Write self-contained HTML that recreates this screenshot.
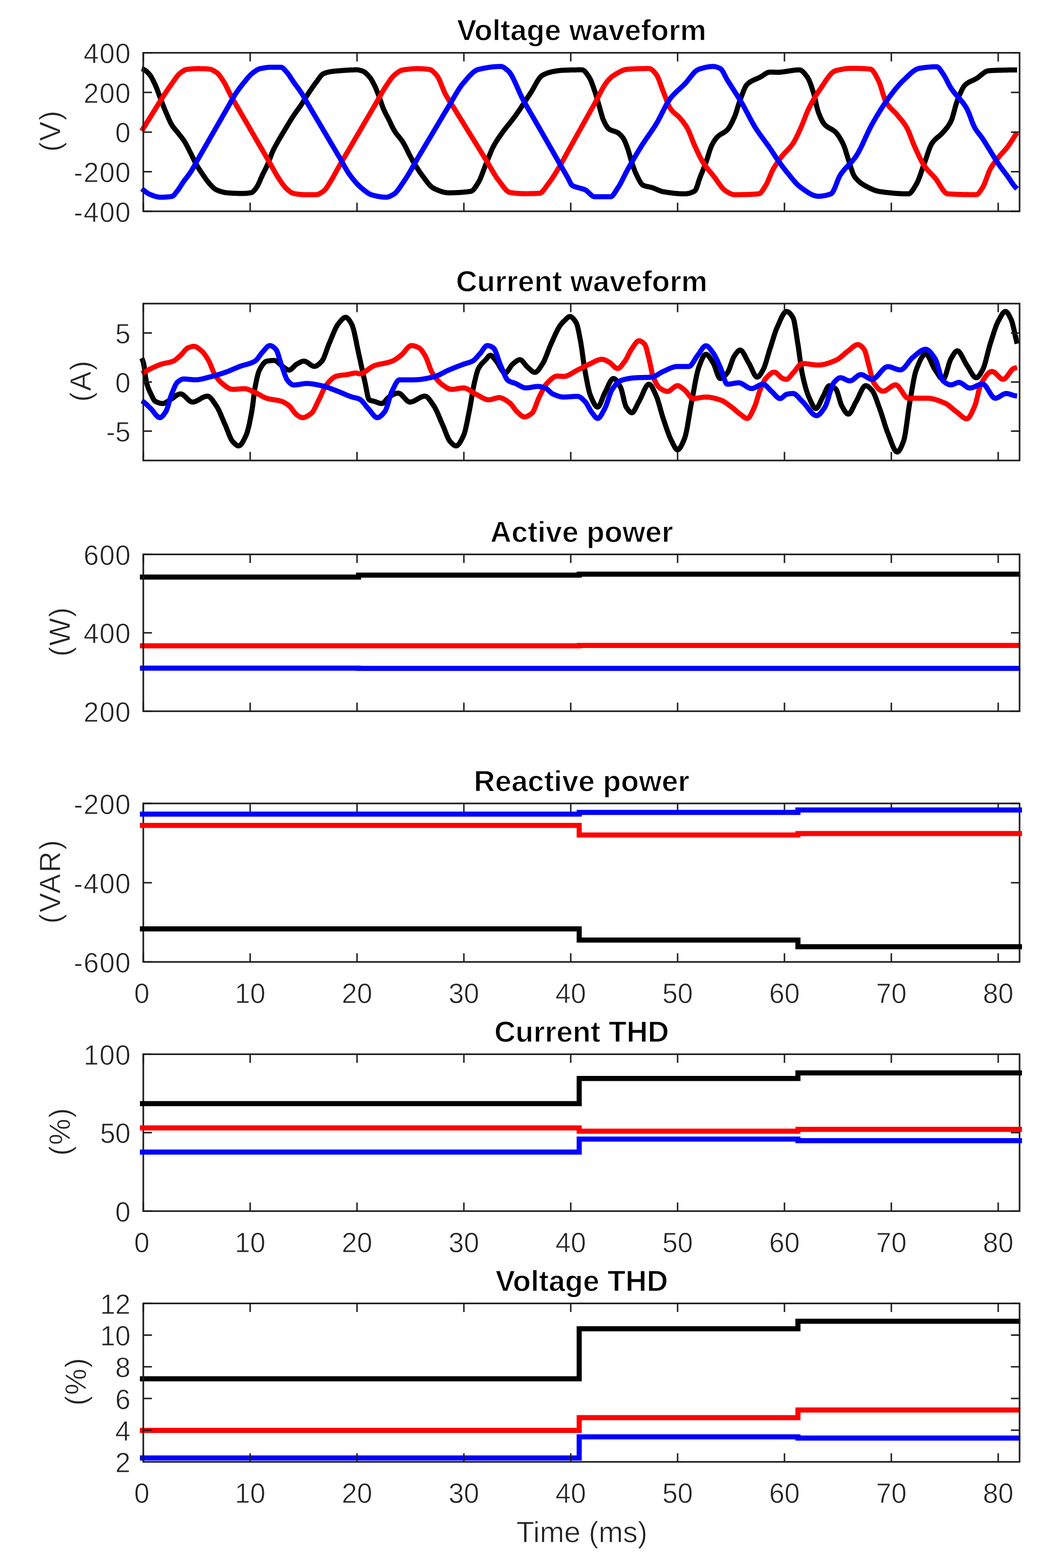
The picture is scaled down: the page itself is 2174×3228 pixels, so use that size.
<!DOCTYPE html><html><head><meta charset="utf-8"><title>Power quality plots</title><style>html,body{margin:0;padding:0;background:#fff}svg{display:block}text{font-family:"Liberation Sans",Arial,Helvetica,sans-serif;stroke:#fff;stroke-width:0.9px;paint-order:fill}text.b{stroke-width:1.3px}</style></head><body><svg width="2174" height="3228" viewBox="0 0 2174 3228"><rect width="2174" height="3228" fill="#fff"/><polyline fill="none" stroke="#000" stroke-width="10.5" stroke-linejoin="round" points="291.7,141.6 292.6,141.8 293.5,142.1 294.3,142.4 295.2,142.8 296.1,143.2 297,143.6 297.9,144.1 298.7,144.7 299.6,145.3 300.5,146 301.4,146.7 302.3,147.5 303.1,148.4 304,149.2 304.9,150.1 305.8,151.1 306.7,152 307.5,153.1 308.4,154.1 309.3,155.3 310.2,156.5 311.1,157.9 311.9,159.4 312.8,160.9 313.7,162.6 314.6,164.3 315.5,166.1 316.3,167.9 317.2,169.7 318.1,171.6 319,173.5 319.9,175.4 320.7,177.4 321.6,179.4 322.5,181.6 323.4,183.9 324.3,186.2 325.1,188.6 326,191 326.9,193.4 327.8,195.9 328.7,198.3 329.5,200.7 330.4,203 331.3,205.3 332.2,207.5 333.1,209.8 333.9,212 334.8,214.3 335.7,216.5 336.6,218.7 337.5,221 338.3,223.2 339.2,225.3 340.1,227.5 341,229.6 341.9,231.7 342.7,233.7 343.6,235.7 344.5,237.8 345.4,239.8 346.3,241.8 347.1,243.9 348,245.8 348.9,247.8 349.8,249.7 350.7,251.5 351.5,253.3 352.4,254.9 353.3,256.5 354.2,257.9 355.1,259.3 355.9,260.6 356.8,261.8 357.7,262.9 358.6,264 359.5,265.1 360.3,266.2 361.2,267.2 362.1,268.2 363,269.3 363.9,270.3 364.7,271.4 365.6,272.5 366.5,273.6 367.4,274.8 368.3,275.9 369.1,277 370,278.1 370.9,279.2 371.8,280.3 372.7,281.4 373.5,282.5 374.4,283.6 375.3,284.8 376.2,286 377.1,287.2 377.9,288.5 378.8,289.7 379.7,291.1 380.6,292.5 381.5,293.9 382.3,295.5 383.2,297.1 384.1,298.7 385,300.4 385.9,302.1 386.7,303.8 387.6,305.5 388.5,307.3 389.4,309.1 390.3,310.8 391.1,312.6 392,314.3 392.9,316 393.8,317.8 394.7,319.5 395.5,321.3 396.4,323.2 397.3,325 398.2,326.8 399.1,328.6 399.9,330.4 400.8,332.1 401.7,333.9 402.6,335.5 403.5,337.2 404.3,338.7 405.2,340.3 406.1,341.8 407,343.2 407.9,344.7 408.7,346.1 409.6,347.5 410.5,348.9 411.4,350.3 412.3,351.6 413.1,352.9 414,354.2 414.9,355.5 415.8,356.8 416.7,358.1 417.5,359.4 418.4,360.7 419.3,362 420.2,363.2 421.1,364.5 421.9,365.8 422.8,367.1 423.7,368.3 424.6,369.6 425.5,370.8 426.3,372 427.2,373.2 428.1,374.3 429,375.4 429.9,376.5 430.7,377.5 431.6,378.5 432.5,379.4 433.4,380.4 434.3,381.3 435.1,382.3 436,383.2 436.9,384.1 437.8,385 438.7,385.8 439.5,386.7 440.4,387.4 441.3,388.2 442.2,388.9 443.1,389.5 443.9,390 444.8,390.5 445.7,390.9 446.6,391.3 447.5,391.7 448.3,392 449.2,392.4 450.1,392.7 451,393 451.9,393.3 452.7,393.7 453.6,393.9 454.5,394.2 455.4,394.5 456.3,394.8 457.1,395 458,395.2 458.9,395.5 459.8,395.7 460.7,395.9 461.5,396.1 462.4,396.2 463.3,396.4 464.2,396.5 465.1,396.7 465.9,396.8 466.8,396.9 467.7,397 468.6,397.1 469.5,397.1 470.3,397.2 471.2,397.2 472.1,397.3 473,397.4 473.9,397.4 474.7,397.5 475.6,397.5 476.5,397.6 477.4,397.6 478.3,397.7 479.1,397.7 480,397.8 480.9,397.8 481.8,397.9 482.7,397.9 483.5,397.9 484.4,398 485.3,398 486.2,398 487.1,398.1 487.9,398.1 488.8,398.1 489.7,398.2 490.6,398.2 491.5,398.2 492.3,398.2 493.2,398.2 494.1,398.2 495,398.3 495.9,398.3 496.7,398.3 497.6,398.3 498.5,398.3 499.4,398.3 500.3,398.3 501.1,398.3 502,398.3 502.9,398.2 503.8,398.2 504.7,398.1 505.5,398.1 506.4,398 507.3,398 508.2,397.9 509.1,397.8 509.9,397.7 510.8,397.6 511.7,397.5 512.6,397.4 513.5,397.3 514.3,397.1 515.2,397 516.1,396.9 517,396.7 517.9,396.5 518.7,396.1 519.6,395.6 520.5,394.9 521.4,394.1 522.3,393.3 523.1,392.3 524,391.2 524.9,390.1 525.8,389 526.7,387.8 527.5,386.6 528.4,385.4 529.3,384.1 530.2,382.6 531.1,380.9 531.9,379.2 532.8,377.3 533.7,375.3 534.6,373.3 535.5,371.3 536.3,369.2 537.2,367.2 538.1,365.2 539,363.2 539.9,361.3 540.7,359.5 541.6,357.7 542.5,355.9 543.4,354.2 544.3,352.4 545.1,350.7 546,348.9 546.9,347.2 547.8,345.4 548.7,343.5 549.5,341.7 550.4,339.7 551.3,337.7 552.2,335.6 553.1,333.4 553.9,331.1 554.8,328.7 555.7,326.3 556.6,323.9 557.5,321.6 558.3,319.2 559.2,316.9 560.1,314.8 561,312.7 561.9,310.7 562.7,308.9 563.6,307.1 564.5,305.3 565.4,303.6 566.3,301.9 567.1,300.3 568,298.7 568.9,297.1 569.8,295.5 570.7,294 571.5,292.4 572.4,290.9 573.3,289.3 574.2,287.8 575.1,286.2 575.9,284.7 576.8,283.2 577.7,281.7 578.6,280.2 579.5,278.7 580.3,277.3 581.2,275.8 582.1,274.4 583,272.9 583.9,271.5 584.7,270 585.6,268.6 586.5,267.1 587.4,265.7 588.3,264.2 589.1,262.8 590,261.3 590.9,259.8 591.8,258.4 592.7,256.9 593.5,255.4 594.4,254 595.3,252.5 596.2,251.1 597.1,249.6 597.9,248.2 598.8,246.8 599.7,245.3 600.6,243.9 601.5,242.5 602.3,241.2 603.2,239.8 604.1,238.5 605,237.1 605.9,235.8 606.7,234.6 607.6,233.3 608.5,232.1 609.4,230.8 610.3,229.6 611.1,228.4 612,227.2 612.9,226 613.8,224.8 614.7,223.6 615.5,222.4 616.4,221.1 617.3,219.9 618.2,218.6 619.1,217.4 619.9,216 620.8,214.7 621.7,213.4 622.6,212 623.5,210.6 624.3,209.2 625.2,207.7 626.1,206.3 627,204.9 627.9,203.4 628.7,202 629.6,200.6 630.5,199.1 631.4,197.7 632.3,196.3 633.1,194.9 634,193.6 634.9,192.2 635.8,190.9 636.7,189.6 637.5,188.3 638.4,187 639.3,185.7 640.2,184.4 641.1,183.1 641.9,181.8 642.8,180.6 643.7,179.3 644.6,178.1 645.5,176.8 646.3,175.6 647.2,174.4 648.1,173.2 649,172 649.9,170.9 650.7,169.7 651.6,168.5 652.5,167.3 653.4,166.1 654.3,164.8 655.1,163.5 656,162.3 656.9,161 657.8,159.8 658.7,158.6 659.5,157.5 660.4,156.5 661.3,155.5 662.2,154.5 663.1,153.7 663.9,153 664.8,152.4 665.7,151.9 666.6,151.5 667.5,151.2 668.3,150.8 669.2,150.5 670.1,150.1 671,149.8 671.9,149.5 672.7,149.3 673.6,149 674.5,148.8 675.4,148.6 676.3,148.4 677.1,148.2 678,148 678.9,147.8 679.8,147.7 680.7,147.5 681.5,147.4 682.4,147.2 683.3,147.1 684.2,147 685.1,146.9 685.9,146.8 686.8,146.7 687.7,146.6 688.6,146.5 689.5,146.4 690.3,146.3 691.2,146.2 692.1,146.2 693,146.1 693.9,146 694.7,145.9 695.6,145.9 696.5,145.8 697.4,145.7 698.3,145.7 699.1,145.6 700,145.5 700.9,145.5 701.8,145.4 702.7,145.3 703.5,145.3 704.4,145.2 705.3,145.1 706.2,145.1 707.1,145 707.9,144.9 708.8,144.9 709.7,144.8 710.6,144.8 711.5,144.7 712.3,144.6 713.2,144.6 714.1,144.5 715,144.5 715.9,144.4 716.7,144.4 717.6,144.3 718.5,144.3 719.4,144.2 720.3,144.2 721.1,144.1 722,144.1 722.9,144 723.8,144 724.7,144 725.5,143.9 726.4,143.9 727.3,143.9 728.2,143.9 729.1,143.8 729.9,143.8 730.8,143.8 731.7,143.8 732.6,143.8 733.5,143.8 734.3,143.8 735.2,143.8 736.1,143.8 737,143.9 737.9,144 738.7,144.2 739.6,144.4 740.5,144.6 741.4,144.8 742.3,145 743.1,145.3 744,145.6 744.9,145.8 745.8,146.1 746.7,146.4 747.5,146.8 748.4,147.2 749.3,147.7 750.2,148.2 751.1,148.8 751.9,149.5 752.8,150.2 753.7,151 754.6,151.8 755.5,152.7 756.3,153.6 757.2,154.5 758.1,155.4 759,156.4 759.9,157.4 760.7,158.4 761.6,159.5 762.5,160.7 763.4,162 764.3,163.4 765.1,164.8 766,166.4 766.9,168 767.8,169.6 768.7,171.3 769.5,173 770.4,174.8 771.3,176.5 772.2,178.3 773.1,180.2 773.9,182.3 774.8,184.4 775.7,186.5 776.6,188.8 777.5,191.1 778.3,193.4 779.2,195.7 780.1,198.1 781,200.4 781.9,202.8 782.7,205.3 783.6,207.9 784.5,210.5 785.4,213.1 786.3,215.7 787.1,218.2 788,220.6 788.9,222.8 789.8,224.8 790.7,226.8 791.5,228.7 792.4,230.5 793.3,232.3 794.2,234.1 795.1,235.8 795.9,237.4 796.8,239.1 797.7,240.8 798.6,242.4 799.5,244.1 800.3,245.9 801.2,247.7 802.1,249.5 803,251.3 803.9,253.2 804.7,255 805.6,256.9 806.5,258.8 807.4,260.6 808.3,262.4 809.1,264.1 810,265.7 810.9,267.3 811.8,268.8 812.7,270.3 813.5,271.6 814.4,272.9 815.3,274.1 816.2,275.3 817.1,276.5 817.9,277.6 818.8,278.7 819.7,279.8 820.6,280.8 821.5,281.9 822.3,283 823.2,284 824.1,285.1 825,286.3 825.9,287.4 826.7,288.6 827.6,289.9 828.5,291.2 829.4,292.6 830.3,294 831.1,295.5 832,297 832.9,298.6 833.8,300.3 834.7,302 835.5,303.7 836.4,305.4 837.3,307.2 838.2,309 839.1,310.8 839.9,312.6 840.8,314.3 841.7,316.1 842.6,317.9 843.5,319.6 844.3,321.3 845.2,322.9 846.1,324.6 847,326.1 847.9,327.6 848.7,329.2 849.6,330.7 850.5,332.2 851.4,333.7 852.3,335.2 853.1,336.7 854,338.1 854.9,339.6 855.8,341 856.7,342.5 857.5,343.9 858.4,345.3 859.3,346.7 860.2,348.1 861.1,349.5 861.9,350.8 862.8,352.1 863.7,353.4 864.6,354.7 865.5,356 866.3,357.2 867.2,358.4 868.1,359.6 869,360.8 869.9,362 870.7,363.1 871.6,364.3 872.5,365.5 873.4,366.7 874.3,367.9 875.1,369.1 876,370.3 876.9,371.5 877.8,372.7 878.7,373.8 879.5,375 880.4,376.1 881.3,377.2 882.2,378.2 883.1,379.3 883.9,380.2 884.8,381.2 885.7,382.1 886.6,383 887.5,383.8 888.3,384.6 889.2,385.3 890.1,386 891,386.6 891.9,387.1 892.7,387.6 893.6,388 894.5,388.4 895.4,388.8 896.3,389.3 897.1,389.7 898,390.1 898.9,390.5 899.8,390.8 900.7,391.2 901.5,391.6 902.4,392 903.3,392.3 904.2,392.7 905.1,393 905.9,393.3 906.8,393.6 907.7,393.9 908.6,394.2 909.5,394.5 910.3,394.8 911.2,395 912.1,395.3 913,395.5 913.9,395.7 914.7,395.9 915.6,396.1 916.5,396.2 917.4,396.4 918.3,396.5 919.1,396.6 920,396.7 920.9,396.8 921.8,396.9 922.7,396.9 923.5,396.9 924.4,396.9 925.3,396.9 926.2,396.9 927.1,396.9 927.9,396.9 928.8,396.9 929.7,396.9 930.6,396.8 931.5,396.8 932.3,396.8 933.2,396.8 934.1,396.8 935,396.7 935.9,396.7 936.7,396.7 937.6,396.7 938.5,396.6 939.4,396.6 940.3,396.6 941.1,396.5 942,396.5 942.9,396.4 943.8,396.4 944.7,396.3 945.5,396.3 946.4,396.2 947.3,396.2 948.2,396.1 949.1,396.1 949.9,396 950.8,395.9 951.7,395.8 952.6,395.8 953.5,395.7 954.3,395.6 955.2,395.5 956.1,395.5 957,395.4 957.9,395.3 958.7,395.2 959.6,395.1 960.5,395 961.4,394.9 962.3,394.8 963.1,394.7 964,394.6 964.9,394.5 965.8,394.3 966.7,394.2 967.5,394.1 968.4,394 969.3,393.8 970.2,393.7 971.1,393.3 971.9,392.8 972.8,392.2 973.7,391.5 974.6,390.6 975.5,389.6 976.3,388.6 977.2,387.4 978.1,386.2 979,384.9 979.9,383.6 980.7,382.2 981.6,380.8 982.5,379.4 983.4,377.9 984.3,376.5 985.1,375.1 986,373.6 986.9,371.9 987.8,370.1 988.7,368.1 989.5,366.1 990.4,364 991.3,361.8 992.2,359.5 993.1,357.2 993.9,354.8 994.8,352.5 995.7,350.1 996.6,347.7 997.5,345.4 998.3,343.1 999.2,340.9 1000.1,338.7 1001,336.6 1001.9,334.4 1002.7,332.2 1003.6,330 1004.5,327.8 1005.4,325.5 1006.3,323.3 1007.1,321.1 1008,318.9 1008.9,316.7 1009.8,314.6 1010.7,312.5 1011.5,310.4 1012.4,308.4 1013.3,306.5 1014.2,304.7 1015.1,302.9 1015.9,301.2 1016.8,299.6 1017.7,298 1018.6,296.4 1019.5,294.9 1020.3,293.5 1021.2,292 1022.1,290.6 1023,289.3 1023.9,287.9 1024.7,286.6 1025.6,285.3 1026.5,283.9 1027.4,282.7 1028.3,281.4 1029.1,280.1 1030,278.8 1030.9,277.6 1031.8,276.3 1032.7,275 1033.5,273.8 1034.4,272.6 1035.3,271.4 1036.2,270.2 1037.1,269.1 1037.9,267.9 1038.8,266.7 1039.7,265.6 1040.6,264.5 1041.5,263.4 1042.3,262.2 1043.2,261.1 1044.1,260 1045,258.9 1045.9,257.8 1046.7,256.7 1047.6,255.7 1048.5,254.6 1049.4,253.5 1050.3,252.4 1051.1,251.3 1052,250.2 1052.9,249 1053.8,247.9 1054.7,246.8 1055.5,245.7 1056.4,244.5 1057.3,243.4 1058.2,242.2 1059.1,241 1059.9,239.8 1060.8,238.6 1061.7,237.4 1062.6,236.2 1063.5,234.9 1064.3,233.7 1065.2,232.4 1066.1,231.1 1067,229.9 1067.9,228.6 1068.7,227.3 1069.6,226 1070.5,224.7 1071.4,223.4 1072.3,222 1073.1,220.7 1074,219.4 1074.9,218.1 1075.8,216.7 1076.7,215.4 1077.5,214 1078.4,212.7 1079.3,211.4 1080.2,210 1081.1,208.7 1081.9,207.3 1082.8,206 1083.7,204.6 1084.6,203.3 1085.5,201.9 1086.3,200.6 1087.2,199.2 1088.1,197.9 1089,196.6 1089.9,195.2 1090.7,193.9 1091.6,192.6 1092.5,191.2 1093.4,189.9 1094.3,188.4 1095.1,187 1096,185.5 1096.9,183.9 1097.8,182.4 1098.7,180.8 1099.5,179.2 1100.4,177.6 1101.3,176 1102.2,174.4 1103.1,172.9 1103.9,171.3 1104.8,169.8 1105.7,168.3 1106.6,166.8 1107.5,165.4 1108.3,164.1 1109.2,162.8 1110.1,161.6 1111,160.4 1111.9,159.3 1112.7,158.3 1113.6,157.4 1114.5,156.6 1115.4,155.9 1116.3,155.3 1117.1,154.8 1118,154.3 1118.9,153.9 1119.8,153.4 1120.7,153 1121.5,152.6 1122.4,152.2 1123.3,151.8 1124.2,151.4 1125.1,151.1 1125.9,150.7 1126.8,150.4 1127.7,150.1 1128.6,149.8 1129.5,149.5 1130.3,149.3 1131.2,149 1132.1,148.8 1133,148.5 1133.9,148.3 1134.7,148.1 1135.6,147.9 1136.5,147.7 1137.4,147.5 1138.3,147.4 1139.1,147.2 1140,147 1140.9,146.9 1141.8,146.7 1142.7,146.6 1143.5,146.4 1144.4,146.3 1145.3,146.1 1146.2,146 1147.1,145.9 1147.9,145.7 1148.8,145.6 1149.7,145.5 1150.6,145.4 1151.5,145.3 1152.3,145.2 1153.2,145.1 1154.1,145 1155,144.9 1155.9,144.8 1156.7,144.8 1157.6,144.7 1158.5,144.7 1159.4,144.6 1160.3,144.6 1161.1,144.6 1162,144.5 1162.9,144.5 1163.8,144.5 1164.7,144.4 1165.5,144.4 1166.4,144.4 1167.3,144.3 1168.2,144.3 1169.1,144.3 1169.9,144.2 1170.8,144.2 1171.7,144.2 1172.6,144.2 1173.5,144.1 1174.3,144.1 1175.2,144.1 1176.1,144.1 1177,144 1177.9,144 1178.7,144 1179.6,144 1180.5,144 1181.4,143.9 1182.3,143.9 1183.1,143.9 1184,143.9 1184.9,143.9 1185.8,143.9 1186.7,143.9 1187.5,143.8 1188.4,143.8 1189.3,143.8 1190.2,143.8 1191.1,143.8 1191.9,143.8 1192.8,143.8 1193.7,143.8 1194.6,143.8 1195.5,143.8 1196.3,143.8 1197.2,143.8 1198.1,143.8 1199,143.9 1199.9,144.1 1200.7,144.5 1201.6,145 1202.5,145.6 1203.4,146.4 1204.3,147.3 1205.1,148.2 1206,149.3 1206.9,150.4 1207.8,151.5 1208.7,152.7 1209.5,154 1210.4,155.3 1211.3,156.6 1212.2,157.9 1213.1,159.2 1213.9,160.7 1214.8,162.3 1215.7,164.1 1216.6,166.1 1217.5,168.3 1218.3,170.5 1219.2,172.9 1220.1,175.3 1221,177.8 1221.9,180.3 1222.7,182.9 1223.6,185.4 1224.5,188 1225.4,190.6 1226.3,193.3 1227.1,196.2 1228,199.1 1228.9,202.1 1229.8,205.2 1230.7,208.3 1231.5,211.3 1232.4,214.3 1233.3,217.3 1234.2,220.3 1235.1,223.5 1235.9,226.7 1236.8,230 1237.7,233.2 1238.6,236.4 1239.5,239.3 1240.3,242.1 1241.2,244.6 1242.1,246.7 1243,248.6 1243.9,250.5 1244.7,252.3 1245.6,254.1 1246.5,255.8 1247.4,257.4 1248.3,258.9 1249.1,260.3 1250,261.6 1250.9,262.8 1251.8,263.8 1252.7,264.7 1253.5,265.5 1254.4,266.1 1255.3,266.6 1256.2,267.1 1257.1,267.6 1257.9,268 1258.8,268.3 1259.7,268.6 1260.6,268.9 1261.5,269.2 1262.3,269.5 1263.2,269.8 1264.1,270 1265,270.3 1265.9,270.6 1266.7,270.9 1267.6,271.2 1268.5,271.5 1269.4,271.9 1270.3,272.3 1271.1,272.8 1272,273.3 1272.9,273.9 1273.8,274.6 1274.7,275.2 1275.5,276 1276.4,276.8 1277.3,277.6 1278.2,278.5 1279.1,279.5 1279.9,280.5 1280.8,281.6 1281.7,282.7 1282.6,283.9 1283.5,285.1 1284.3,286.6 1285.2,288.2 1286.1,290.1 1287,292.1 1287.9,294.2 1288.7,296.4 1289.6,298.8 1290.5,301.2 1291.4,303.6 1292.3,306 1293.1,308.6 1294,311.4 1294.9,314.4 1295.8,317.4 1296.7,320.6 1297.5,323.7 1298.4,326.8 1299.3,329.8 1300.2,332.6 1301.1,335.3 1301.9,337.9 1302.8,340.5 1303.7,343.1 1304.6,345.6 1305.5,348.1 1306.3,350.4 1307.2,352.7 1308.1,354.8 1309,356.8 1309.9,358.6 1310.7,360.5 1311.6,362.3 1312.5,364.1 1313.4,365.9 1314.3,367.6 1315.1,369.4 1316,371 1316.9,372.6 1317.8,374.1 1318.7,375.5 1319.5,376.9 1320.4,378 1321.3,379.1 1322.2,380 1323.1,380.8 1323.9,381.3 1324.8,381.8 1325.7,382.1 1326.6,382.4 1327.5,382.7 1328.3,383 1329.2,383.3 1330.1,383.5 1331,383.7 1331.9,383.9 1332.7,384.1 1333.6,384.2 1334.5,384.4 1335.4,384.6 1336.3,384.7 1337.1,384.9 1338,385.1 1338.9,385.3 1339.8,385.5 1340.7,385.7 1341.5,385.9 1342.4,386.2 1343.3,386.5 1344.2,386.8 1345.1,387.1 1345.9,387.4 1346.8,387.8 1347.7,388.1 1348.6,388.5 1349.5,388.9 1350.3,389.3 1351.2,389.7 1352.1,390 1353,390.4 1353.9,390.8 1354.7,391.2 1355.6,391.6 1356.5,391.9 1357.4,392.3 1358.3,392.6 1359.1,392.9 1360,393.2 1360.9,393.5 1361.8,393.8 1362.7,394 1363.5,394.3 1364.4,394.5 1365.3,394.6 1366.2,394.8 1367.1,394.9 1367.9,395.1 1368.8,395.2 1369.7,395.3 1370.6,395.5 1371.5,395.6 1372.3,395.8 1373.2,395.9 1374.1,396 1375,396.2 1375.9,396.3 1376.7,396.4 1377.6,396.6 1378.5,396.7 1379.4,396.8 1380.3,396.9 1381.1,397 1382,397.2 1382.9,397.3 1383.8,397.4 1384.7,397.5 1385.5,397.6 1386.4,397.7 1387.3,397.8 1388.2,397.9 1389.1,398 1389.9,398.1 1390.8,398.2 1391.7,398.2 1392.6,398.3 1393.5,398.4 1394.3,398.5 1395.2,398.5 1396.1,398.6 1397,398.7 1397.9,398.7 1398.7,398.8 1399.6,398.8 1400.5,398.9 1401.4,398.9 1402.3,399 1403.1,399 1404,399 1404.9,399 1405.8,399.1 1406.7,399.1 1407.5,399.1 1408.4,399.1 1409.3,399.1 1410.2,399.1 1411.1,399.1 1411.9,399 1412.8,398.9 1413.7,398.8 1414.6,398.7 1415.5,398.6 1416.3,398.4 1417.2,398.2 1418.1,398 1419,397.8 1419.9,397.6 1420.7,397.3 1421.6,397 1422.5,396.7 1423.4,396.4 1424.3,396.1 1425.1,395.7 1426,395.3 1426.9,394.9 1427.8,394.5 1428.7,394.1 1429.5,393.6 1430.4,393.1 1431.3,392.1 1432.2,390.7 1433.1,388.9 1433.9,386.8 1434.8,384.5 1435.7,381.9 1436.6,379.2 1437.5,376.5 1438.3,373.7 1439.2,370.9 1440.1,368.3 1441,365.8 1441.9,363.5 1442.7,361.3 1443.6,359.1 1444.5,356.9 1445.4,354.8 1446.3,352.6 1447.1,350.5 1448,348.3 1448.9,346.1 1449.8,343.9 1450.7,341.6 1451.5,339.4 1452.4,337 1453.3,334.7 1454.2,332.2 1455.1,329.5 1455.9,326.8 1456.8,324 1457.7,321.1 1458.6,318.2 1459.5,315.3 1460.3,312.5 1461.2,309.7 1462.1,307.1 1463,304.7 1463.9,302.4 1464.7,300.4 1465.6,298.6 1466.5,296.9 1467.4,295.3 1468.3,293.7 1469.1,292.2 1470,290.8 1470.9,289.4 1471.8,288.1 1472.7,286.9 1473.5,285.7 1474.4,284.6 1475.3,283.5 1476.2,282.6 1477.1,281.7 1477.9,280.8 1478.8,280.1 1479.7,279.3 1480.6,278.7 1481.5,278 1482.3,277.4 1483.2,276.9 1484.1,276.4 1485,275.8 1485.9,275.3 1486.7,274.8 1487.6,274.3 1488.5,273.8 1489.4,273.3 1490.3,272.8 1491.1,272.2 1492,271.7 1492.9,271 1493.8,270.4 1494.7,269.7 1495.5,268.9 1496.4,268.1 1497.3,267.2 1498.2,266.2 1499.1,265.2 1499.9,264 1500.8,262.7 1501.7,261.4 1502.6,259.9 1503.5,258.4 1504.3,256.9 1505.2,255.2 1506.1,253.5 1507,251.8 1507.9,250 1508.7,248.1 1509.6,246.2 1510.5,244.3 1511.4,242.3 1512.3,240.3 1513.1,238.2 1514,235.8 1514.9,233.2 1515.8,230.5 1516.7,227.7 1517.5,224.8 1518.4,221.9 1519.3,219 1520.2,216.1 1521.1,213.3 1521.9,210.7 1522.8,208.1 1523.7,205.8 1524.6,203.5 1525.5,201.2 1526.3,198.8 1527.2,196.5 1528.1,194.1 1529,191.8 1529.9,189.6 1530.7,187.3 1531.6,185.2 1532.5,183.2 1533.4,181.3 1534.3,179.5 1535.1,177.8 1536,176.4 1536.9,175.1 1537.8,174 1538.7,173.1 1539.5,172.3 1540.4,171.6 1541.3,170.9 1542.2,170.2 1543.1,169.6 1543.9,169 1544.8,168.4 1545.7,167.8 1546.6,167.3 1547.5,166.8 1548.3,166.4 1549.2,165.9 1550.1,165.5 1551,165.1 1551.9,164.7 1552.7,164.3 1553.6,163.9 1554.5,163.5 1555.4,163.1 1556.3,162.8 1557.1,162.4 1558,162 1558.9,161.7 1559.8,161.3 1560.7,160.9 1561.5,160.5 1562.4,160.1 1563.3,159.7 1564.2,159.2 1565.1,158.8 1565.9,158.3 1566.8,157.7 1567.7,157.2 1568.6,156.6 1569.5,156.1 1570.3,155.5 1571.2,154.9 1572.1,154.3 1573,153.7 1573.9,153.1 1574.7,152.5 1575.6,152 1576.5,151.4 1577.4,150.9 1578.3,150.4 1579.1,150 1580,149.6 1580.9,149.3 1581.8,149 1582.7,148.7 1583.5,148.6 1584.4,148.5 1585.3,148.4 1586.2,148.4 1587.1,148.4 1587.9,148.5 1588.8,148.5 1589.7,148.5 1590.6,148.5 1591.5,148.6 1592.3,148.6 1593.2,148.6 1594.1,148.7 1595,148.7 1595.9,148.7 1596.7,148.7 1597.6,148.8 1598.5,148.8 1599.4,148.8 1600.3,148.8 1601.1,148.8 1602,148.8 1602.9,148.7 1603.8,148.7 1604.7,148.7 1605.5,148.6 1606.4,148.5 1607.3,148.5 1608.2,148.4 1609.1,148.3 1609.9,148.2 1610.8,148.1 1611.7,148 1612.6,147.9 1613.5,147.8 1614.3,147.6 1615.2,147.5 1616.1,147.4 1617,147.3 1617.9,147.1 1618.7,147 1619.6,146.9 1620.5,146.7 1621.4,146.6 1622.3,146.4 1623.1,146.3 1624,146.2 1624.9,146 1625.8,145.9 1626.7,145.7 1627.5,145.6 1628.4,145.5 1629.3,145.3 1630.2,145.2 1631.1,145.1 1631.9,145 1632.8,144.8 1633.7,144.7 1634.6,144.6 1635.5,144.5 1636.3,144.4 1637.2,144.3 1638.1,144.3 1639,144.2 1639.9,144.1 1640.7,144.1 1641.6,144 1642.5,144 1643.4,143.9 1644.3,143.9 1645.1,143.9 1646,143.9 1646.9,144 1647.8,144.3 1648.7,144.6 1649.5,145.1 1650.4,145.6 1651.3,146.3 1652.2,147 1653.1,147.8 1653.9,148.7 1654.8,149.6 1655.7,150.6 1656.6,151.6 1657.5,152.7 1658.3,153.8 1659.2,155 1660.1,156.1 1661,157.3 1661.9,158.5 1662.7,159.8 1663.6,161.3 1664.5,162.9 1665.4,164.7 1666.3,166.7 1667.1,168.8 1668,171 1668.9,173.4 1669.8,175.8 1670.7,178.3 1671.5,180.9 1672.4,183.6 1673.3,186.3 1674.2,189 1675.1,191.8 1675.9,194.9 1676.8,198.4 1677.7,202.1 1678.6,206 1679.5,210.1 1680.3,214.1 1681.2,218 1682.1,221.7 1683,225.1 1683.9,228.1 1684.7,230.7 1685.6,233 1686.5,235.3 1687.4,237.5 1688.3,239.6 1689.1,241.7 1690,243.6 1690.9,245.5 1691.8,247.3 1692.7,248.9 1693.5,250.5 1694.4,252 1695.3,253.3 1696.2,254.5 1697.1,255.6 1697.9,256.6 1698.8,257.5 1699.7,258.3 1700.6,259.1 1701.5,259.8 1702.3,260.5 1703.2,261.1 1704.1,261.7 1705,262.3 1705.9,262.8 1706.7,263.3 1707.6,263.8 1708.5,264.3 1709.4,264.7 1710.3,265.2 1711.1,265.7 1712,266.2 1712.9,266.7 1713.8,267.2 1714.7,267.8 1715.5,268.4 1716.4,269 1717.3,269.6 1718.2,270.4 1719.1,271.1 1719.9,271.9 1720.8,272.8 1721.7,273.8 1722.6,274.8 1723.5,275.8 1724.3,277 1725.2,278.1 1726.1,279.4 1727,280.7 1727.9,282 1728.7,283.4 1729.6,284.9 1730.5,286.4 1731.4,287.9 1732.3,289.5 1733.1,291.2 1734,292.9 1734.9,294.7 1735.8,296.5 1736.7,298.4 1737.5,300.4 1738.4,302.7 1739.3,305.2 1740.2,307.9 1741.1,310.7 1741.9,313.6 1742.8,316.5 1743.7,319.4 1744.6,322.3 1745.5,325.1 1746.3,327.7 1747.2,330.3 1748.1,333 1749,335.8 1749.9,338.7 1750.7,341.5 1751.6,344.3 1752.5,347.1 1753.4,349.8 1754.3,352.3 1755.1,354.8 1756,357 1756.9,359.1 1757.8,360.9 1758.7,362.5 1759.5,363.8 1760.4,365 1761.3,366.1 1762.2,367.2 1763.1,368.2 1763.9,369.2 1764.8,370.1 1765.7,371 1766.6,371.9 1767.5,372.8 1768.3,373.6 1769.2,374.3 1770.1,375.1 1771,375.8 1771.9,376.5 1772.7,377.1 1773.6,377.8 1774.5,378.4 1775.4,379 1776.3,379.5 1777.1,380.1 1778,380.6 1778.9,381.1 1779.8,381.7 1780.7,382.1 1781.5,382.6 1782.4,383.1 1783.3,383.6 1784.2,384.1 1785.1,384.5 1785.9,385 1786.8,385.4 1787.7,385.9 1788.6,386.3 1789.5,386.8 1790.3,387.2 1791.2,387.6 1792.1,388.1 1793,388.5 1793.9,388.9 1794.7,389.3 1795.6,389.6 1796.5,390 1797.4,390.4 1798.3,390.7 1799.1,391.1 1800,391.4 1800.9,391.7 1801.8,392 1802.7,392.3 1803.5,392.6 1804.4,392.8 1805.3,393.1 1806.2,393.3 1807.1,393.5 1807.9,393.7 1808.8,393.9 1809.7,394.1 1810.6,394.2 1811.5,394.4 1812.3,394.5 1813.2,394.6 1814.1,394.8 1815,394.9 1815.9,395 1816.7,395.1 1817.6,395.2 1818.5,395.4 1819.4,395.5 1820.3,395.6 1821.1,395.7 1822,395.8 1822.9,395.9 1823.8,396 1824.7,396.1 1825.5,396.2 1826.4,396.3 1827.3,396.4 1828.2,396.5 1829.1,396.6 1829.9,396.7 1830.8,396.8 1831.7,396.9 1832.6,397 1833.5,397.1 1834.3,397.2 1835.2,397.3 1836.1,397.4 1837,397.5 1837.9,397.5 1838.7,397.6 1839.6,397.7 1840.5,397.8 1841.4,397.9 1842.3,397.9 1843.1,398 1844,398.1 1844.9,398.1 1845.8,398.2 1846.7,398.3 1847.5,398.3 1848.4,398.4 1849.3,398.4 1850.2,398.5 1851.1,398.5 1851.9,398.6 1852.8,398.6 1853.7,398.7 1854.6,398.7 1855.5,398.8 1856.3,398.8 1857.2,398.8 1858.1,398.9 1859,398.9 1859.9,398.9 1860.7,399 1861.6,399 1862.5,399 1863.4,399 1864.3,399.1 1865.1,399.1 1866,399.1 1866.9,399.1 1867.8,399.1 1868.7,399.1 1869.5,399.1 1870.4,399.1 1871.3,398.9 1872.2,398.6 1873.1,398.1 1873.9,397.4 1874.8,396.6 1875.7,395.7 1876.6,394.7 1877.5,393.6 1878.3,392.4 1879.2,391.2 1880.1,389.8 1881,388.4 1881.9,387 1882.7,385.6 1883.6,384.1 1884.5,382.6 1885.4,381.1 1886.3,379.7 1887.1,378.2 1888,376.5 1888.9,374.6 1889.8,372.6 1890.7,370.5 1891.5,368.3 1892.4,366 1893.3,363.6 1894.2,361.2 1895.1,358.7 1895.9,356.1 1896.8,353.5 1897.7,351 1898.6,348.4 1899.5,345.9 1900.3,343.4 1901.2,340.9 1902.1,338.6 1903,336.2 1903.9,333.8 1904.7,331.3 1905.6,328.8 1906.5,326.2 1907.4,323.5 1908.3,320.9 1909.1,318.3 1910,315.6 1910.9,313.1 1911.8,310.5 1912.7,308.1 1913.5,305.8 1914.4,303.6 1915.3,301.5 1916.2,299.5 1917.1,297.8 1917.9,296.2 1918.8,294.9 1919.7,293.6 1920.6,292.4 1921.5,291.3 1922.3,290.3 1923.2,289.3 1924.1,288.3 1925,287.4 1925.9,286.6 1926.7,285.8 1927.6,285 1928.5,284.2 1929.4,283.4 1930.3,282.7 1931.1,282 1932,281.3 1932.9,280.5 1933.8,279.8 1934.7,279.1 1935.5,278.3 1936.4,277.5 1937.3,276.7 1938.2,275.9 1939.1,275 1939.9,274.1 1940.8,273.1 1941.7,272.1 1942.6,271.1 1943.5,270.1 1944.3,269.1 1945.2,268 1946.1,267 1947,266 1947.9,264.9 1948.7,263.8 1949.6,262.6 1950.5,261.5 1951.4,260.3 1952.3,259 1953.1,257.7 1954,256.3 1954.9,254.9 1955.8,253.3 1956.7,251.7 1957.5,250.1 1958.4,248.2 1959.3,246 1960.2,243.5 1961.1,240.7 1961.9,237.8 1962.8,234.6 1963.7,231.4 1964.6,228.1 1965.5,224.8 1966.3,221.5 1967.2,218.3 1968.1,215.3 1969,212.4 1969.9,209.8 1970.7,207.4 1971.6,205.2 1972.5,203 1973.4,200.8 1974.3,198.6 1975.1,196.5 1976,194.4 1976.9,192.3 1977.8,190.3 1978.7,188.3 1979.5,186.5 1980.4,184.7 1981.3,183 1982.2,181.4 1983.1,179.9 1983.9,178.5 1984.8,177.3 1985.7,176.2 1986.6,175.2 1987.5,174.4 1988.3,173.6 1989.2,172.9 1990.1,172.2 1991,171.6 1991.9,171 1992.7,170.5 1993.6,169.9 1994.5,169.4 1995.4,168.9 1996.3,168.5 1997.1,168 1998,167.6 1998.9,167.2 1999.8,166.8 2000.7,166.4 2001.5,166 2002.4,165.6 2003.3,165.2 2004.2,164.8 2005.1,164.4 2005.9,163.9 2006.8,163.5 2007.7,163 2008.6,162.6 2009.5,162.1 2010.3,161.5 2011.2,161 2012.1,160.4 2013,159.8 2013.9,159.1 2014.7,158.5 2015.6,157.8 2016.5,157.1 2017.4,156.4 2018.3,155.7 2019.1,154.9 2020,154.2 2020.9,153.5 2021.8,152.8 2022.7,152.1 2023.5,151.4 2024.4,150.8 2025.3,150.1 2026.2,149.5 2027.1,148.9 2027.9,148.4 2028.8,147.9 2029.7,147.4 2030.6,147 2031.5,146.6 2032.3,146.3 2033.2,146 2034.1,145.8 2035,145.6 2035.9,145.5 2036.7,145.5 2037.6,145.4 2038.5,145.4 2039.4,145.3 2040.3,145.3 2041.1,145.2 2042,145.2 2042.9,145.1 2043.8,145.1 2044.7,145 2045.5,145 2046.4,145 2047.3,144.9 2048.2,144.9 2049.1,144.8 2049.9,144.8 2050.8,144.8 2051.7,144.7 2052.6,144.7 2053.5,144.7 2054.3,144.7 2055.2,144.6 2056.1,144.6 2057,144.6 2057.9,144.5 2058.7,144.5 2059.6,144.5 2060.5,144.5 2061.4,144.4 2062.3,144.4 2063.1,144.4 2064,144.4 2064.9,144.4 2065.8,144.3 2066.7,144.3 2067.5,144.3 2068.4,144.3 2069.3,144.3 2070.2,144.2 2071.1,144.2 2071.9,144.2 2072.8,144.2 2073.7,144.2 2074.6,144.2 2075.5,144.1 2076.3,144.1 2077.2,144.1 2078.1,144.1 2079,144.1 2079.9,144.1 2080.7,144.1 2081.6,144 2082.5,144 2083.4,144 2084.3,144 2085.1,144 2086,144 2086.9,144 2087.8,144 2088.7,143.9 2089.5,143.9 2090.4,143.9 2091.3,143.9 2092.2,143.9 2093.1,143.9 2093.9,143.9"/><polyline fill="none" stroke="#f00" stroke-width="10.5" stroke-linejoin="round" points="291.7,269.5 292.6,268.1 293.5,266.7 294.3,265.3 295.2,263.8 296.1,262.4 297,261 297.9,259.6 298.7,258.2 299.6,256.8 300.5,255.4 301.4,254 302.3,252.5 303.1,251.1 304,249.7 304.9,248.3 305.8,246.9 306.7,245.5 307.5,244.1 308.4,242.7 309.3,241.2 310.2,239.8 311.1,238.4 311.9,237 312.8,235.6 313.7,234.2 314.6,232.8 315.5,231.4 316.3,229.9 317.2,228.5 318.1,227.1 319,225.7 319.9,224.2 320.7,222.8 321.6,221.4 322.5,219.9 323.4,218.5 324.3,217.1 325.1,215.7 326,214.2 326.9,212.8 327.8,211.4 328.7,210 329.5,208.6 330.4,207.1 331.3,205.7 332.2,204.4 333.1,203 333.9,201.6 334.8,200.2 335.7,198.9 336.6,197.5 337.5,196.2 338.3,194.8 339.2,193.5 340.1,192.1 341,190.8 341.9,189.5 342.7,188.1 343.6,186.8 344.5,185.5 345.4,184.2 346.3,182.9 347.1,181.6 348,180.3 348.9,179 349.8,177.8 350.7,176.5 351.5,175.3 352.4,174 353.3,172.8 354.2,171.6 355.1,170.4 355.9,169.2 356.8,167.9 357.7,166.6 358.6,165.4 359.5,164.1 360.3,162.8 361.2,161.6 362.1,160.4 363,159.2 363.9,158 364.7,156.9 365.6,155.8 366.5,154.8 367.4,153.8 368.3,152.9 369.1,152 370,151.2 370.9,150.5 371.8,149.9 372.7,149.2 373.5,148.5 374.4,147.9 375.3,147.3 376.2,146.7 377.1,146.1 377.9,145.5 378.8,145 379.7,144.6 380.6,144.2 381.5,143.8 382.3,143.5 383.2,143.2 384.1,143 385,142.9 385.9,142.8 386.7,142.7 387.6,142.6 388.5,142.5 389.4,142.4 390.3,142.3 391.1,142.2 392,142.1 392.9,142 393.8,141.9 394.7,141.9 395.5,141.8 396.4,141.7 397.3,141.7 398.2,141.6 399.1,141.6 399.9,141.5 400.8,141.5 401.7,141.4 402.6,141.4 403.5,141.4 404.3,141.4 405.2,141.3 406.1,141.3 407,141.3 407.9,141.3 408.7,141.3 409.6,141.3 410.5,141.3 411.4,141.4 412.3,141.4 413.1,141.4 414,141.4 414.9,141.4 415.8,141.4 416.7,141.5 417.5,141.5 418.4,141.5 419.3,141.6 420.2,141.6 421.1,141.6 421.9,141.7 422.8,141.7 423.7,141.7 424.6,141.8 425.5,141.8 426.3,141.9 427.2,141.9 428.1,142 429,142.1 429.9,142.1 430.7,142.2 431.6,142.3 432.5,142.5 433.4,142.7 434.3,142.9 435.1,143.2 436,143.6 436.9,143.9 437.8,144.4 438.7,144.8 439.5,145.3 440.4,145.8 441.3,146.3 442.2,146.8 443.1,147.4 443.9,147.9 444.8,148.5 445.7,149.1 446.6,149.7 447.5,150.4 448.3,151.3 449.2,152.2 450.1,153.1 451,154.2 451.9,155.3 452.7,156.4 453.6,157.7 454.5,158.9 455.4,160.2 456.3,161.5 457.1,162.9 458,164.2 458.9,165.6 459.8,167 460.7,168.4 461.5,169.8 462.4,171.2 463.3,172.8 464.2,174.4 465.1,176.1 465.9,177.8 466.8,179.6 467.7,181.4 468.6,183.2 469.5,185 470.3,186.9 471.2,188.7 472.1,190.5 473,192.4 473.9,194.1 474.7,195.9 475.6,197.6 476.5,199.2 477.4,200.8 478.3,202.4 479.1,203.9 480,205.5 480.9,207 481.8,208.5 482.7,210 483.5,211.5 484.4,213 485.3,214.5 486.2,216 487.1,217.5 487.9,219 488.8,220.5 489.7,222 490.6,223.5 491.5,225 492.3,226.5 493.2,228 494.1,229.5 495,231.1 495.9,232.6 496.7,234.1 497.6,235.6 498.5,237.1 499.4,238.7 500.3,240.2 501.1,241.7 502,243.2 502.9,244.7 503.8,246.3 504.7,247.8 505.5,249.3 506.4,250.8 507.3,252.3 508.2,253.8 509.1,255.4 509.9,256.9 510.8,258.4 511.7,259.9 512.6,261.4 513.5,263 514.3,264.5 515.2,266 516.1,267.5 517,269 517.9,270.6 518.7,272.1 519.6,273.6 520.5,275.1 521.4,276.6 522.3,278.2 523.1,279.7 524,281.2 524.9,282.7 525.8,284.2 526.7,285.7 527.5,287.3 528.4,288.8 529.3,290.3 530.2,291.8 531.1,293.3 531.9,294.9 532.8,296.4 533.7,297.9 534.6,299.4 535.5,300.9 536.3,302.5 537.2,304 538.1,305.5 539,307 539.9,308.5 540.7,310 541.6,311.6 542.5,313.1 543.4,314.6 544.3,316.1 545.1,317.6 546,319.2 546.9,320.7 547.8,322.2 548.7,323.7 549.5,325.2 550.4,326.8 551.3,328.3 552.2,329.8 553.1,331.3 553.9,332.8 554.8,334.4 555.7,335.9 556.6,337.4 557.5,339 558.3,340.5 559.2,342.1 560.1,343.7 561,345.2 561.9,346.8 562.7,348.4 563.6,350 564.5,351.6 565.4,353.1 566.3,354.7 567.1,356.2 568,357.8 568.9,359.3 569.8,360.7 570.7,362.2 571.5,363.6 572.4,365 573.3,366.4 574.2,367.7 575.1,369 575.9,370.4 576.8,371.7 577.7,373 578.6,374.3 579.5,375.7 580.3,376.9 581.2,378.2 582.1,379.4 583,380.6 583.9,381.8 584.7,382.9 585.6,384 586.5,385 587.4,386 588.3,386.9 589.1,387.7 590,388.5 590.9,389.3 591.8,390.1 592.7,390.9 593.5,391.7 594.4,392.4 595.3,393.1 596.2,393.9 597.1,394.5 597.9,395.2 598.8,395.8 599.7,396.3 600.6,396.8 601.5,397.3 602.3,397.6 603.2,398 604.1,398.2 605,398.4 605.9,398.5 606.7,398.7 607.6,398.9 608.5,399 609.4,399.2 610.3,399.3 611.1,399.4 612,399.6 612.9,399.7 613.8,399.8 614.7,399.9 615.5,400 616.4,400.1 617.3,400.2 618.2,400.3 619.1,400.4 619.9,400.4 620.8,400.5 621.7,400.6 622.6,400.6 623.5,400.7 624.3,400.7 625.2,400.7 626.1,400.7 627,400.7 627.9,400.7 628.7,400.7 629.6,400.7 630.5,400.7 631.4,400.7 632.3,400.7 633.1,400.7 634,400.7 634.9,400.7 635.8,400.7 636.7,400.7 637.5,400.7 638.4,400.7 639.3,400.7 640.2,400.7 641.1,400.7 641.9,400.7 642.8,400.7 643.7,400.7 644.6,400.7 645.5,400.7 646.3,400.7 647.2,400.7 648.1,400.7 649,400.7 649.9,400.7 650.7,400.7 651.6,400.7 652.5,400.5 653.4,400.4 654.3,400.1 655.1,399.8 656,399.5 656.9,399.1 657.8,398.7 658.7,398.2 659.5,397.8 660.4,397.2 661.3,396.7 662.2,396.1 663.1,395.6 663.9,395 664.8,394.4 665.7,393.8 666.6,393.1 667.5,392.4 668.3,391.5 669.2,390.5 670.1,389.5 671,388.3 671.9,387.1 672.7,385.9 673.6,384.6 674.5,383.2 675.4,381.8 676.3,380.4 677.1,379 678,377.5 678.9,376.1 679.8,374.7 680.7,373.3 681.5,371.9 682.4,370.5 683.3,369 684.2,367.5 685.1,366 685.9,364.4 686.8,362.9 687.7,361.3 688.6,359.6 689.5,358 690.3,356.4 691.2,354.7 692.1,353.1 693,351.5 693.9,349.9 694.7,348.3 695.6,346.7 696.5,345.2 697.4,343.6 698.3,342.1 699.1,340.6 700,339 700.9,337.5 701.8,336 702.7,334.5 703.5,333 704.4,331.5 705.3,330 706.2,328.5 707.1,327 707.9,325.5 708.8,324 709.7,322.5 710.6,321 711.5,319.5 712.3,318 713.2,316.5 714.1,315 715,313.5 715.9,312 716.7,310.5 717.6,309 718.5,307.5 719.4,306 720.3,304.5 721.1,303 722,301.5 722.9,300 723.8,298.5 724.7,297 725.5,295.5 726.4,294 727.3,292.5 728.2,291 729.1,289.5 729.9,288 730.8,286.5 731.7,285 732.6,283.5 733.5,282 734.3,280.5 735.2,279 736.1,277.5 737,276 737.9,274.5 738.7,273 739.6,271.5 740.5,270 741.4,268.5 742.3,267 743.1,265.5 744,264 744.9,262.5 745.8,261 746.7,259.5 747.5,257.9 748.4,256.4 749.3,254.9 750.2,253.4 751.1,251.9 751.9,250.4 752.8,248.9 753.7,247.4 754.6,245.9 755.5,244.4 756.3,242.9 757.2,241.4 758.1,239.9 759,238.4 759.9,236.9 760.7,235.4 761.6,233.9 762.5,232.4 763.4,230.9 764.3,229.4 765.1,227.9 766,226.4 766.9,224.9 767.8,223.4 768.7,221.9 769.5,220.4 770.4,218.8 771.3,217.3 772.2,215.8 773.1,214.3 773.9,212.8 774.8,211.2 775.7,209.7 776.6,208.1 777.5,206.6 778.3,205 779.2,203.4 780.1,201.9 781,200.3 781.9,198.7 782.7,197.2 783.6,195.6 784.5,194.1 785.4,192.5 786.3,191 787.1,189.5 788,188 788.9,186.5 789.8,185.1 790.7,183.6 791.5,182.2 792.4,180.8 793.3,179.4 794.2,178.1 795.1,176.8 795.9,175.5 796.8,174.2 797.7,172.8 798.6,171.5 799.5,170.2 800.3,168.8 801.2,167.5 802.1,166.3 803,165 803.9,163.7 804.7,162.5 805.6,161.4 806.5,160.2 807.4,159.2 808.3,158.1 809.1,157.2 810,156.2 810.9,155.4 811.8,154.6 812.7,153.9 813.5,153.2 814.4,152.4 815.3,151.7 816.2,151 817.1,150.4 817.9,149.7 818.8,149.1 819.7,148.4 820.6,147.9 821.5,147.3 822.3,146.8 823.2,146.3 824.1,145.8 825,145.4 825.9,145 826.7,144.7 827.6,144.4 828.5,144.2 829.4,144.1 830.3,143.9 831.1,143.8 832,143.6 832.9,143.5 833.8,143.4 834.7,143.2 835.5,143.1 836.4,143 837.3,142.9 838.2,142.8 839.1,142.7 839.9,142.6 840.8,142.5 841.7,142.4 842.6,142.3 843.5,142.2 844.3,142.1 845.2,142 846.1,141.9 847,141.9 847.9,141.8 848.7,141.7 849.6,141.7 850.5,141.6 851.4,141.6 852.3,141.5 853.1,141.5 854,141.4 854.9,141.4 855.8,141.4 856.7,141.4 857.5,141.3 858.4,141.3 859.3,141.3 860.2,141.3 861.1,141.3 861.9,141.3 862.8,141.4 863.7,141.4 864.6,141.4 865.5,141.4 866.3,141.4 867.2,141.5 868.1,141.5 869,141.6 869.9,141.6 870.7,141.7 871.6,141.7 872.5,141.8 873.4,141.8 874.3,141.9 875.1,142 876,142.1 876.9,142.2 877.8,142.2 878.7,142.3 879.5,142.4 880.4,142.5 881.3,142.6 882.2,142.7 883.1,142.8 883.9,143 884.8,143.1 885.7,143.4 886.6,143.7 887.5,144.2 888.3,144.7 889.2,145.3 890.1,145.9 891,146.7 891.9,147.4 892.7,148.3 893.6,149.1 894.5,150 895.4,151 896.3,151.9 897.1,152.9 898,153.9 898.9,154.9 899.8,156 900.7,157.3 901.5,158.7 902.4,160.2 903.3,161.9 904.2,163.7 905.1,165.7 905.9,167.7 906.8,169.7 907.7,171.9 908.6,174 909.5,176.2 910.3,178.4 911.2,180.6 912.1,182.8 913,185 913.9,187.1 914.7,189.1 915.6,191 916.5,192.9 917.4,194.6 918.3,196.2 919.1,197.8 920,199.3 920.9,200.8 921.8,202.3 922.7,203.8 923.5,205.2 924.4,206.6 925.3,208 926.2,209.4 927.1,210.8 927.9,212.2 928.8,213.5 929.7,214.9 930.6,216.2 931.5,217.6 932.3,219 933.2,220.3 934.1,221.7 935,223.1 935.9,224.5 936.7,226 937.6,227.4 938.5,228.8 939.4,230.2 940.3,231.7 941.1,233.1 942,234.5 942.9,235.9 943.8,237.4 944.7,238.8 945.5,240.2 946.4,241.6 947.3,243.1 948.2,244.5 949.1,245.9 949.9,247.3 950.8,248.8 951.7,250.2 952.6,251.6 953.5,253 954.3,254.4 955.2,255.9 956.1,257.3 957,258.7 957.9,260.1 958.7,261.6 959.6,263 960.5,264.4 961.4,265.8 962.3,267.3 963.1,268.7 964,270.1 964.9,271.5 965.8,273 966.7,274.4 967.5,275.8 968.4,277.2 969.3,278.7 970.2,280.1 971.1,281.5 971.9,282.9 972.8,284.4 973.7,285.8 974.6,287.2 975.5,288.6 976.3,290.1 977.2,291.5 978.1,292.9 979,294.3 979.9,295.7 980.7,297.2 981.6,298.6 982.5,300 983.4,301.4 984.3,302.9 985.1,304.3 986,305.7 986.9,307.1 987.8,308.6 988.7,310 989.5,311.4 990.4,312.8 991.3,314.3 992.2,315.7 993.1,317.1 993.9,318.5 994.8,320 995.7,321.4 996.6,322.8 997.5,324.2 998.3,325.7 999.2,327.1 1000.1,328.5 1001,329.9 1001.9,331.4 1002.7,332.9 1003.6,334.3 1004.5,335.8 1005.4,337.3 1006.3,338.9 1007.1,340.4 1008,341.9 1008.9,343.4 1009.8,344.9 1010.7,346.5 1011.5,348 1012.4,349.5 1013.3,351 1014.2,352.5 1015.1,354 1015.9,355.5 1016.8,356.9 1017.7,358.4 1018.6,359.8 1019.5,361.2 1020.3,362.5 1021.2,363.9 1022.1,365.2 1023,366.5 1023.9,367.7 1024.7,369 1025.6,370.2 1026.5,371.3 1027.4,372.4 1028.3,373.6 1029.1,374.8 1030,376 1030.9,377.2 1031.8,378.4 1032.7,379.6 1033.5,380.8 1034.4,382 1035.3,383.2 1036.2,384.4 1037.1,385.5 1037.9,386.6 1038.8,387.7 1039.7,388.8 1040.6,389.8 1041.5,390.7 1042.3,391.6 1043.2,392.4 1044.1,393.2 1045,393.9 1045.9,394.5 1046.7,395 1047.6,395.5 1048.5,395.9 1049.4,396.1 1050.3,396.3 1051.1,396.4 1052,396.6 1052.9,396.7 1053.8,396.8 1054.7,396.9 1055.5,397 1056.4,397.2 1057.3,397.3 1058.2,397.4 1059.1,397.5 1059.9,397.6 1060.8,397.7 1061.7,397.7 1062.6,397.8 1063.5,397.9 1064.3,398 1065.2,398.1 1066.1,398.1 1067,398.2 1067.9,398.3 1068.7,398.3 1069.6,398.4 1070.5,398.4 1071.4,398.5 1072.3,398.5 1073.1,398.6 1074,398.6 1074.9,398.6 1075.8,398.6 1076.7,398.7 1077.5,398.7 1078.4,398.7 1079.3,398.7 1080.2,398.7 1081.1,398.7 1081.9,398.7 1082.8,398.7 1083.7,398.7 1084.6,398.7 1085.5,398.7 1086.3,398.7 1087.2,398.7 1088.1,398.7 1089,398.6 1089.9,398.6 1090.7,398.6 1091.6,398.6 1092.5,398.6 1093.4,398.6 1094.3,398.5 1095.1,398.5 1096,398.5 1096.9,398.5 1097.8,398.4 1098.7,398.4 1099.5,398.4 1100.4,398.4 1101.3,398.3 1102.2,398.3 1103.1,398.3 1103.9,398.2 1104.8,398.2 1105.7,398.1 1106.6,398.1 1107.5,398.1 1108.3,398 1109.2,398 1110.1,397.9 1111,397.9 1111.9,397.7 1112.7,397.4 1113.6,396.9 1114.5,396.3 1115.4,395.6 1116.3,394.8 1117.1,393.9 1118,393 1118.9,391.9 1119.8,390.8 1120.7,389.6 1121.5,388.4 1122.4,387.2 1123.3,385.9 1124.2,384.6 1125.1,383.4 1125.9,382.1 1126.8,380.9 1127.7,379.7 1128.6,378.6 1129.5,377.5 1130.3,376.3 1131.2,375.1 1132.1,373.9 1133,372.7 1133.9,371.5 1134.7,370.2 1135.6,368.9 1136.5,367.6 1137.4,366.3 1138.3,364.9 1139.1,363.5 1140,362.2 1140.9,360.8 1141.8,359.4 1142.7,358 1143.5,356.5 1144.4,355.1 1145.3,353.7 1146.2,352.2 1147.1,350.8 1147.9,349.3 1148.8,347.8 1149.7,346.4 1150.6,344.9 1151.5,343.5 1152.3,342 1153.2,340.5 1154.1,339 1155,337.5 1155.9,335.9 1156.7,334.4 1157.6,332.8 1158.5,331.2 1159.4,329.7 1160.3,328.1 1161.1,326.5 1162,324.8 1162.9,323.2 1163.8,321.6 1164.7,320 1165.5,318.4 1166.4,316.8 1167.3,315.2 1168.2,313.6 1169.1,312 1169.9,310.4 1170.8,308.8 1171.7,307.3 1172.6,305.7 1173.5,304.1 1174.3,302.5 1175.2,301 1176.1,299.4 1177,297.8 1177.9,296.2 1178.7,294.7 1179.6,293.1 1180.5,291.5 1181.4,289.9 1182.3,288.4 1183.1,286.8 1184,285.2 1184.9,283.6 1185.8,282.1 1186.7,280.5 1187.5,278.9 1188.4,277.3 1189.3,275.8 1190.2,274.2 1191.1,272.6 1191.9,271 1192.8,269.5 1193.7,267.9 1194.6,266.3 1195.5,264.7 1196.3,263.2 1197.2,261.6 1198.1,260 1199,258.4 1199.9,256.8 1200.7,255.3 1201.6,253.7 1202.5,252.1 1203.4,250.5 1204.3,248.9 1205.1,247.4 1206,245.8 1206.9,244.2 1207.8,242.6 1208.7,241 1209.5,239.5 1210.4,237.9 1211.3,236.3 1212.2,234.7 1213.1,233.2 1213.9,231.6 1214.8,230 1215.7,228.4 1216.6,226.9 1217.5,225.3 1218.3,223.7 1219.2,222.1 1220.1,220.6 1221,219 1221.9,217.4 1222.7,215.9 1223.6,214.3 1224.5,212.7 1225.4,211.1 1226.3,209.5 1227.1,207.8 1228,206.1 1228.9,204.4 1229.8,202.7 1230.7,201 1231.5,199.3 1232.4,197.6 1233.3,195.9 1234.2,194.2 1235.1,192.5 1235.9,190.8 1236.8,189.1 1237.7,187.5 1238.6,185.8 1239.5,184.2 1240.3,182.6 1241.2,181.1 1242.1,179.6 1243,178.1 1243.9,176.6 1244.7,175.2 1245.6,173.9 1246.5,172.6 1247.4,171.3 1248.3,170.1 1249.1,169 1250,167.9 1250.9,166.8 1251.8,165.8 1252.7,164.8 1253.5,163.9 1254.4,162.9 1255.3,162 1256.2,161.1 1257.1,160.3 1257.9,159.5 1258.8,158.7 1259.7,158 1260.6,157.3 1261.5,156.6 1262.3,156 1263.2,155.4 1264.1,154.9 1265,154.3 1265.9,153.8 1266.7,153.2 1267.6,152.6 1268.5,152.1 1269.4,151.6 1270.3,151 1271.1,150.5 1272,150 1272.9,149.5 1273.8,149 1274.7,148.5 1275.5,148 1276.4,147.5 1277.3,147.1 1278.2,146.7 1279.1,146.2 1279.9,145.8 1280.8,145.5 1281.7,145.1 1282.6,144.8 1283.5,144.4 1284.3,144.1 1285.2,143.8 1286.1,143.6 1287,143.4 1287.9,143.2 1288.7,143 1289.6,142.8 1290.5,142.7 1291.4,142.6 1292.3,142.5 1293.1,142.5 1294,142.4 1294.9,142.4 1295.8,142.3 1296.7,142.3 1297.5,142.2 1298.4,142.2 1299.3,142.1 1300.2,142.1 1301.1,142 1301.9,142 1302.8,141.9 1303.7,141.9 1304.6,141.8 1305.5,141.8 1306.3,141.8 1307.2,141.7 1308.1,141.7 1309,141.6 1309.9,141.6 1310.7,141.6 1311.6,141.5 1312.5,141.5 1313.4,141.5 1314.3,141.4 1315.1,141.4 1316,141.4 1316.9,141.4 1317.8,141.3 1318.7,141.3 1319.5,141.3 1320.4,141.3 1321.3,141.3 1322.2,141.2 1323.1,141.2 1323.9,141.2 1324.8,141.2 1325.7,141.2 1326.6,141.2 1327.5,141.1 1328.3,141.1 1329.2,141.1 1330.1,141.1 1331,141.1 1331.9,141.1 1332.7,141.1 1333.6,141.1 1334.5,141.1 1335.4,141.1 1336.3,141.1 1337.1,141.2 1338,141.4 1338.9,141.7 1339.8,142.1 1340.7,142.6 1341.5,143.2 1342.4,143.9 1343.3,144.6 1344.2,145.5 1345.1,146.3 1345.9,147.2 1346.8,148.2 1347.7,149.2 1348.6,150.2 1349.5,151.3 1350.3,152.3 1351.2,153.4 1352.1,154.7 1353,156.2 1353.9,158 1354.7,159.9 1355.6,161.9 1356.5,164.1 1357.4,166.4 1358.3,168.8 1359.1,171.3 1360,173.7 1360.9,176.2 1361.8,178.7 1362.7,181.1 1363.5,183.5 1364.4,185.8 1365.3,188 1366.2,190.2 1367.1,192.4 1367.9,194.7 1368.8,197.1 1369.7,199.4 1370.6,201.8 1371.5,204.2 1372.3,206.6 1373.2,208.9 1374.1,211.1 1375,213.3 1375.9,215.4 1376.7,217.3 1377.6,219.1 1378.5,220.8 1379.4,222.3 1380.3,223.6 1381.1,224.8 1382,226 1382.9,227 1383.8,228 1384.7,229 1385.5,229.9 1386.4,230.8 1387.3,231.6 1388.2,232.4 1389.1,233.2 1389.9,233.9 1390.8,234.7 1391.7,235.4 1392.6,236.1 1393.5,236.9 1394.3,237.6 1395.2,238.4 1396.1,239.2 1397,240 1397.9,240.9 1398.7,241.8 1399.6,242.7 1400.5,243.7 1401.4,244.7 1402.3,245.8 1403.1,246.9 1404,247.9 1404.9,249 1405.8,250.2 1406.7,251.3 1407.5,252.5 1408.4,253.7 1409.3,254.9 1410.2,256.2 1411.1,257.5 1411.9,258.8 1412.8,260.2 1413.7,261.7 1414.6,263.2 1415.5,264.7 1416.3,266.4 1417.2,268.2 1418.1,270.1 1419,272.1 1419.9,274.2 1420.7,276.4 1421.6,278.6 1422.5,280.8 1423.4,283.1 1424.3,285.4 1425.1,287.7 1426,290 1426.9,292.2 1427.8,294.4 1428.7,296.5 1429.5,298.5 1430.4,300.5 1431.3,302.4 1432.2,304.3 1433.1,306.2 1433.9,308.1 1434.8,310 1435.7,311.9 1436.6,313.8 1437.5,315.7 1438.3,317.5 1439.2,319.3 1440.1,321.1 1441,322.8 1441.9,324.6 1442.7,326.2 1443.6,327.9 1444.5,329.5 1445.4,331 1446.3,332.5 1447.1,334 1448,335.4 1448.9,336.7 1449.8,338 1450.7,339.3 1451.5,340.5 1452.4,341.8 1453.3,342.9 1454.2,344.1 1455.1,345.2 1455.9,346.4 1456.8,347.5 1457.7,348.6 1458.6,349.6 1459.5,350.7 1460.3,351.8 1461.2,352.8 1462.1,353.9 1463,354.9 1463.9,356 1464.7,357 1465.6,358.1 1466.5,359.2 1467.4,360.3 1468.3,361.4 1469.1,362.5 1470,363.7 1470.9,364.8 1471.8,366 1472.7,367.3 1473.5,368.5 1474.4,369.8 1475.3,371 1476.2,372.3 1477.1,373.5 1477.9,374.8 1478.8,376 1479.7,377.3 1480.6,378.5 1481.5,379.7 1482.3,380.9 1483.2,382.1 1484.1,383.2 1485,384.3 1485.9,385.4 1486.7,386.4 1487.6,387.4 1488.5,388.4 1489.4,389.3 1490.3,390.1 1491.1,390.9 1492,391.7 1492.9,392.4 1493.8,393 1494.7,393.5 1495.5,394.1 1496.4,394.6 1497.3,395.1 1498.2,395.6 1499.1,396.2 1499.9,396.7 1500.8,397.2 1501.7,397.6 1502.6,398.1 1503.5,398.5 1504.3,398.9 1505.2,399.3 1506.1,399.6 1507,399.9 1507.9,400.1 1508.7,400.4 1509.6,400.5 1510.5,400.7 1511.4,400.7 1512.3,400.7 1513.1,400.7 1514,400.7 1514.9,400.7 1515.8,400.7 1516.7,400.7 1517.5,400.7 1518.4,400.7 1519.3,400.7 1520.2,400.7 1521.1,400.7 1521.9,400.7 1522.8,400.7 1523.7,400.7 1524.6,400.7 1525.5,400.7 1526.3,400.6 1527.2,400.6 1528.1,400.6 1529,400.6 1529.9,400.6 1530.7,400.6 1531.6,400.5 1532.5,400.5 1533.4,400.5 1534.3,400.5 1535.1,400.5 1536,400.4 1536.9,400.4 1537.8,400.4 1538.7,400.4 1539.5,400.3 1540.4,400.3 1541.3,400.3 1542.2,400.2 1543.1,400.2 1543.9,400.2 1544.8,400.1 1545.7,400.1 1546.6,400 1547.5,400 1548.3,400 1549.2,399.9 1550.1,399.9 1551,399.8 1551.9,399.8 1552.7,399.7 1553.6,399.7 1554.5,399.6 1555.4,399.6 1556.3,399.5 1557.1,399.5 1558,399.4 1558.9,399.3 1559.8,399.3 1560.7,399.2 1561.5,399.1 1562.4,399 1563.3,398.8 1564.2,398.3 1565.1,397.7 1565.9,397 1566.8,396.1 1567.7,395 1568.6,393.9 1569.5,392.7 1570.3,391.4 1571.2,390.1 1572.1,388.7 1573,387.3 1573.9,385.8 1574.7,384.4 1575.6,383 1576.5,381.6 1577.4,380.1 1578.3,378.5 1579.1,376.8 1580,374.9 1580.9,373 1581.8,370.9 1582.7,368.8 1583.5,366.7 1584.4,364.6 1585.3,362.4 1586.2,360.3 1587.1,358.2 1587.9,356.1 1588.8,354.2 1589.7,352.3 1590.6,350.6 1591.5,349 1592.3,347.4 1593.2,345.9 1594.1,344.4 1595,342.9 1595.9,341.5 1596.7,340.1 1597.6,338.7 1598.5,337.4 1599.4,336 1600.3,334.7 1601.1,333.4 1602,332.2 1602.9,330.9 1603.8,329.7 1604.7,328.5 1605.5,327.3 1606.4,326.1 1607.3,324.9 1608.2,323.7 1609.1,322.5 1609.9,321.4 1610.8,320.3 1611.7,319.3 1612.6,318.2 1613.5,317.2 1614.3,316.2 1615.2,315.3 1616.1,314.3 1617,313.4 1617.9,312.5 1618.7,311.6 1619.6,310.7 1620.5,309.8 1621.4,308.8 1622.3,307.9 1623.1,307 1624,306 1624.9,305 1625.8,304.1 1626.7,303 1627.5,302 1628.4,300.9 1629.3,299.8 1630.2,298.6 1631.1,297.4 1631.9,296.2 1632.8,294.8 1633.7,293.5 1634.6,292 1635.5,290.5 1636.3,288.9 1637.2,287.3 1638.1,285.6 1639,283.9 1639.9,282.1 1640.7,280.3 1641.6,278.5 1642.5,276.6 1643.4,274.7 1644.3,272.8 1645.1,270.8 1646,268.9 1646.9,267 1647.8,265 1648.7,263.1 1649.5,261.1 1650.4,259.1 1651.3,257 1652.2,254.8 1653.1,252.7 1653.9,250.4 1654.8,248.2 1655.7,245.9 1656.6,243.6 1657.5,241.3 1658.3,239.1 1659.2,236.8 1660.1,234.6 1661,232.5 1661.9,230.4 1662.7,228.3 1663.6,226.4 1664.5,224.5 1665.4,222.7 1666.3,221 1667.1,219.2 1668,217.5 1668.9,215.8 1669.8,214.2 1670.7,212.5 1671.5,210.9 1672.4,209.3 1673.3,207.7 1674.2,206.2 1675.1,204.6 1675.9,203.1 1676.8,201.6 1677.7,200.1 1678.6,198.7 1679.5,197.3 1680.3,195.8 1681.2,194.4 1682.1,193.1 1683,191.7 1683.9,190.4 1684.7,189.1 1685.6,187.7 1686.5,186.5 1687.4,185.2 1688.3,183.9 1689.1,182.7 1690,181.4 1690.9,180.1 1691.8,178.7 1692.7,177.4 1693.5,176.1 1694.4,174.7 1695.3,173.4 1696.2,172 1697.1,170.7 1697.9,169.3 1698.8,168 1699.7,166.7 1700.6,165.4 1701.5,164.1 1702.3,162.8 1703.2,161.6 1704.1,160.3 1705,159.1 1705.9,158 1706.7,156.8 1707.6,155.7 1708.5,154.7 1709.4,153.7 1710.3,152.7 1711.1,151.8 1712,150.9 1712.9,150.1 1713.8,149.3 1714.7,148.6 1715.5,147.9 1716.4,147.3 1717.3,146.8 1718.2,146.4 1719.1,146 1719.9,145.7 1720.8,145.4 1721.7,145.2 1722.6,145 1723.5,144.7 1724.3,144.5 1725.2,144.3 1726.1,144.1 1727,143.9 1727.9,143.7 1728.7,143.5 1729.6,143.3 1730.5,143.1 1731.4,143 1732.3,142.8 1733.1,142.6 1734,142.5 1734.9,142.3 1735.8,142.2 1736.7,142 1737.5,141.9 1738.4,141.8 1739.3,141.6 1740.2,141.5 1741.1,141.4 1741.9,141.3 1742.8,141.2 1743.7,141.1 1744.6,141 1745.5,141 1746.3,140.9 1747.2,140.9 1748.1,140.8 1749,140.8 1749.9,140.7 1750.7,140.7 1751.6,140.7 1752.5,140.7 1753.4,140.7 1754.3,140.7 1755.1,140.7 1756,140.7 1756.9,140.7 1757.8,140.7 1758.7,140.7 1759.5,140.7 1760.4,140.7 1761.3,140.7 1762.2,140.8 1763.1,140.8 1763.9,140.8 1764.8,140.8 1765.7,140.8 1766.6,140.8 1767.5,140.9 1768.3,140.9 1769.2,140.9 1770.1,141 1771,141 1771.9,141 1772.7,141.1 1773.6,141.1 1774.5,141.1 1775.4,141.2 1776.3,141.2 1777.1,141.3 1778,141.3 1778.9,141.3 1779.8,141.4 1780.7,141.4 1781.5,141.5 1782.4,141.6 1783.3,141.6 1784.2,141.7 1785.1,141.7 1785.9,141.8 1786.8,141.9 1787.7,141.9 1788.6,142 1789.5,142.1 1790.3,142.2 1791.2,142.2 1792.1,142.3 1793,142.6 1793.9,143 1794.7,143.6 1795.6,144.3 1796.5,145.2 1797.4,146.3 1798.3,147.4 1799.1,148.7 1800,150 1800.9,151.5 1801.8,153 1802.7,154.6 1803.5,156.2 1804.4,157.9 1805.3,159.6 1806.2,161.2 1807.1,162.9 1807.9,164.6 1808.8,166.3 1809.7,168.3 1810.6,170.5 1811.5,172.9 1812.3,175.4 1813.2,178.2 1814.1,181 1815,183.8 1815.9,186.8 1816.7,189.7 1817.6,192.6 1818.5,195.4 1819.4,198.2 1820.3,200.8 1821.1,203.3 1822,205.6 1822.9,207.7 1823.8,209.5 1824.7,211 1825.5,212.4 1826.4,213.8 1827.3,215.1 1828.2,216.3 1829.1,217.4 1829.9,218.5 1830.8,219.6 1831.7,220.6 1832.6,221.6 1833.5,222.5 1834.3,223.4 1835.2,224.3 1836.1,225.2 1837,226.1 1837.9,226.9 1838.7,227.8 1839.6,228.6 1840.5,229.5 1841.4,230.3 1842.3,231.2 1843.1,232.1 1844,233.1 1844.9,234 1845.8,235 1846.7,236.1 1847.5,237.1 1848.4,238.2 1849.3,239.3 1850.2,240.3 1851.1,241.4 1851.9,242.4 1852.8,243.5 1853.7,244.5 1854.6,245.6 1855.5,246.6 1856.3,247.7 1857.2,248.8 1858.1,249.9 1859,251.1 1859.9,252.2 1860.7,253.4 1861.6,254.7 1862.5,255.9 1863.4,257.3 1864.3,258.6 1865.1,260 1866,261.5 1866.9,263 1867.8,264.6 1868.7,266.4 1869.5,268.2 1870.4,270.2 1871.3,272.3 1872.2,274.4 1873.1,276.7 1873.9,278.9 1874.8,281.2 1875.7,283.5 1876.6,285.9 1877.5,288.2 1878.3,290.5 1879.2,292.8 1880.1,295 1881,297.1 1881.9,299.2 1882.7,301.2 1883.6,303.2 1884.5,305.1 1885.4,307 1886.3,309 1887.1,310.9 1888,312.8 1888.9,314.8 1889.8,316.7 1890.7,318.6 1891.5,320.4 1892.4,322.3 1893.3,324.1 1894.2,325.9 1895.1,327.6 1895.9,329.4 1896.8,331 1897.7,332.7 1898.6,334.3 1899.5,335.8 1900.3,337.3 1901.2,338.7 1902.1,340 1903,341.3 1903.9,342.6 1904.7,343.8 1905.6,344.9 1906.5,346.1 1907.4,347.2 1908.3,348.2 1909.1,349.3 1910,350.3 1910.9,351.3 1911.8,352.2 1912.7,353.2 1913.5,354.1 1914.4,355 1915.3,356 1916.2,356.9 1917.1,357.8 1917.9,358.7 1918.8,359.6 1919.7,360.6 1920.6,361.5 1921.5,362.4 1922.3,363.4 1923.2,364.4 1924.1,365.4 1925,366.4 1925.9,367.5 1926.7,368.6 1927.6,369.8 1928.5,371.1 1929.4,372.4 1930.3,373.7 1931.1,375.1 1932,376.5 1932.9,377.9 1933.8,379.3 1934.7,380.8 1935.5,382.2 1936.4,383.6 1937.3,385 1938.2,386.4 1939.1,387.8 1939.9,389.1 1940.8,390.3 1941.7,391.5 1942.6,392.7 1943.5,393.7 1944.3,394.7 1945.2,395.7 1946.1,396.5 1947,397.2 1947.9,397.8 1948.7,398.3 1949.6,398.7 1950.5,399 1951.4,399.1 1952.3,399.2 1953.1,399.2 1954,399.3 1954.9,399.3 1955.8,399.4 1956.7,399.4 1957.5,399.5 1958.4,399.5 1959.3,399.6 1960.2,399.6 1961.1,399.6 1961.9,399.7 1962.8,399.7 1963.7,399.8 1964.6,399.8 1965.5,399.8 1966.3,399.9 1967.2,399.9 1968.1,400 1969,400 1969.9,400 1970.7,400.1 1971.6,400.1 1972.5,400.1 1973.4,400.2 1974.3,400.2 1975.1,400.2 1976,400.2 1976.9,400.3 1977.8,400.3 1978.7,400.3 1979.5,400.3 1980.4,400.4 1981.3,400.4 1982.2,400.4 1983.1,400.4 1983.9,400.5 1984.8,400.5 1985.7,400.5 1986.6,400.5 1987.5,400.5 1988.3,400.5 1989.2,400.6 1990.1,400.6 1991,400.6 1991.9,400.6 1992.7,400.6 1993.6,400.6 1994.5,400.6 1995.4,400.7 1996.3,400.7 1997.1,400.7 1998,400.7 1998.9,400.7 1999.8,400.7 2000.7,400.7 2001.5,400.7 2002.4,400.7 2003.3,400.7 2004.2,400.7 2005.1,400.7 2005.9,400.7 2006.8,400.7 2007.7,400.7 2008.6,400.7 2009.5,400.7 2010.3,400.7 2011.2,400.5 2012.1,400.1 2013,399.5 2013.9,398.7 2014.7,397.9 2015.6,396.8 2016.5,395.7 2017.4,394.5 2018.3,393.2 2019.1,391.9 2020,390.5 2020.9,389.1 2021.8,387.7 2022.7,386.4 2023.5,385 2024.4,383.4 2025.3,381.6 2026.2,379.7 2027.1,377.6 2027.9,375.4 2028.8,373.1 2029.7,370.7 2030.6,368.3 2031.5,365.9 2032.3,363.5 2033.2,361.1 2034.1,358.7 2035,356.4 2035.9,354.2 2036.7,352.1 2037.6,350.2 2038.5,348.4 2039.4,346.8 2040.3,345.3 2041.1,343.8 2042,342.4 2042.9,341.1 2043.8,339.7 2044.7,338.5 2045.5,337.2 2046.4,336 2047.3,334.8 2048.2,333.6 2049.1,332.5 2049.9,331.3 2050.8,330.2 2051.7,329.1 2052.6,328 2053.5,326.9 2054.3,325.8 2055.2,324.7 2056.1,323.5 2057,322.5 2057.9,321.4 2058.7,320.3 2059.6,319.3 2060.5,318.3 2061.4,317.3 2062.3,316.3 2063.1,315.3 2064,314.4 2064.9,313.4 2065.8,312.4 2066.7,311.4 2067.5,310.4 2068.4,309.4 2069.3,308.4 2070.2,307.4 2071.1,306.4 2071.9,305.3 2072.8,304.2 2073.7,303.1 2074.6,302 2075.5,300.8 2076.3,299.6 2077.2,298.4 2078.1,297.1 2079,295.8 2079.9,294.5 2080.7,293.2 2081.6,291.8 2082.5,290.4 2083.4,289.1 2084.3,287.7 2085.1,286.3 2086,284.9 2086.9,283.5 2087.8,282.1 2088.7,280.8 2089.5,279.4 2090.4,278.1 2091.3,276.8 2092.2,275.5 2093.1,274.2 2093.9,273"/><polyline fill="none" stroke="#00f" stroke-width="10.5" stroke-linejoin="round" points="291.7,388.5 292.6,389.2 293.5,389.8 294.3,390.5 295.2,391.2 296.1,391.8 297,392.5 297.9,393.2 298.7,393.9 299.6,394.6 300.5,395.3 301.4,396 302.3,396.6 303.1,397.2 304,397.8 304.9,398.4 305.8,398.9 306.7,399.3 307.5,399.7 308.4,400.1 309.3,400.4 310.2,400.8 311.1,401.1 311.9,401.5 312.8,401.8 313.7,402.2 314.6,402.5 315.5,402.8 316.3,403.1 317.2,403.4 318.1,403.7 319,404 319.9,404.3 320.7,404.5 321.6,404.7 322.5,405 323.4,405.2 324.3,405.3 325.1,405.5 326,405.7 326.9,405.8 327.8,405.9 328.7,406 329.5,406 330.4,406 331.3,406 332.2,406 333.1,406 333.9,406 334.8,406 335.7,406 336.6,405.9 337.5,405.9 338.3,405.9 339.2,405.8 340.1,405.8 341,405.7 341.9,405.7 342.7,405.6 343.6,405.6 344.5,405.5 345.4,405.4 346.3,405.3 347.1,405.3 348,405.2 348.9,405.1 349.8,405 350.7,404.9 351.5,404.7 352.4,404.6 353.3,404.5 354.2,404.4 355.1,404.1 355.9,403.6 356.8,402.9 357.7,402.2 358.6,401.2 359.5,400.2 360.3,399.1 361.2,398 362.1,396.9 363,395.7 363.9,394.6 364.7,393.5 365.6,392.4 366.5,391.2 367.4,390 368.3,388.7 369.1,387.4 370,386 370.9,384.6 371.8,383.2 372.7,381.8 373.5,380.4 374.4,379.1 375.3,377.7 376.2,376.4 377.1,375.1 377.9,373.9 378.8,372.7 379.7,371.5 380.6,370.4 381.5,369.2 382.3,368.1 383.2,366.9 384.1,365.8 385,364.6 385.9,363.5 386.7,362.3 387.6,361.1 388.5,359.9 389.4,358.7 390.3,357.5 391.1,356.2 392,354.9 392.9,353.5 393.8,352.1 394.7,350.7 395.5,349.2 396.4,347.7 397.3,346.2 398.2,344.6 399.1,343.1 399.9,341.5 400.8,339.9 401.7,338.3 402.6,336.7 403.5,335.1 404.3,333.5 405.2,331.9 406.1,330.4 407,328.8 407.9,327.3 408.7,325.7 409.6,324.2 410.5,322.7 411.4,321.2 412.3,319.6 413.1,318.1 414,316.6 414.9,315 415.8,313.5 416.7,312 417.5,310.4 418.4,308.9 419.3,307.4 420.2,305.8 421.1,304.3 421.9,302.8 422.8,301.2 423.7,299.7 424.6,298.2 425.5,296.6 426.3,295.1 427.2,293.6 428.1,292 429,290.5 429.9,289 430.7,287.4 431.6,285.9 432.5,284.4 433.4,282.8 434.3,281.3 435.1,279.8 436,278.3 436.9,276.7 437.8,275.2 438.7,273.7 439.5,272.1 440.4,270.6 441.3,269.1 442.2,267.5 443.1,266 443.9,264.5 444.8,262.9 445.7,261.4 446.6,259.9 447.5,258.3 448.3,256.8 449.2,255.3 450.1,253.7 451,252.2 451.9,250.7 452.7,249.1 453.6,247.6 454.5,246.1 455.4,244.5 456.3,243 457.1,241.5 458,239.9 458.9,238.4 459.8,236.9 460.7,235.3 461.5,233.8 462.4,232.3 463.3,230.8 464.2,229.2 465.1,227.7 465.9,226.2 466.8,224.6 467.7,223.1 468.6,221.6 469.5,220 470.3,218.5 471.2,216.9 472.1,215.3 473,213.7 473.9,212.1 474.7,210.5 475.6,209 476.5,207.4 477.4,205.8 478.3,204.3 479.1,202.7 480,201.2 480.9,199.7 481.8,198.3 482.7,196.8 483.5,195.4 484.4,194.1 485.3,192.7 486.2,191.4 487.1,190.1 487.9,188.8 488.8,187.6 489.7,186.3 490.6,185.1 491.5,183.9 492.3,182.7 493.2,181.5 494.1,180.3 495,179.1 495.9,178 496.7,176.9 497.6,175.7 498.5,174.6 499.4,173.6 500.3,172.5 501.1,171.4 502,170.3 502.9,169.2 503.8,168.1 504.7,167 505.5,165.9 506.4,164.8 507.3,163.7 508.2,162.6 509.1,161.6 509.9,160.5 510.8,159.5 511.7,158.5 512.6,157.5 513.5,156.6 514.3,155.6 515.2,154.7 516.1,153.8 517,153 517.9,152.2 518.7,151.4 519.6,150.7 520.5,150 521.4,149.3 522.3,148.7 523.1,148 524,147.4 524.9,146.8 525.8,146.2 526.7,145.6 527.5,145 528.4,144.5 529.3,144 530.2,143.5 531.1,143 531.9,142.6 532.8,142.2 533.7,141.9 534.6,141.6 535.5,141.4 536.3,141.2 537.2,141 538.1,140.8 539,140.7 539.9,140.5 540.7,140.3 541.6,140.2 542.5,140 543.4,139.9 544.3,139.7 545.1,139.6 546,139.4 546.9,139.3 547.8,139.2 548.7,139.1 549.5,139 550.4,138.9 551.3,138.8 552.2,138.7 553.1,138.7 553.9,138.6 554.8,138.6 555.7,138.5 556.6,138.5 557.5,138.5 558.3,138.5 559.2,138.5 560.1,138.5 561,138.5 561.9,138.5 562.7,138.5 563.6,138.5 564.5,138.5 565.4,138.5 566.3,138.5 567.1,138.5 568,138.5 568.9,138.5 569.8,138.5 570.7,138.5 571.5,138.5 572.4,138.5 573.3,138.5 574.2,138.5 575.1,138.5 575.9,138.5 576.8,138.5 577.7,138.5 578.6,138.5 579.5,138.6 580.3,138.8 581.2,139.3 582.1,139.9 583,140.6 583.9,141.4 584.7,142.3 585.6,143.2 586.5,144.2 587.4,145.3 588.3,146.3 589.1,147.3 590,148.3 590.9,149.3 591.8,150.3 592.7,151.4 593.5,152.6 594.4,153.8 595.3,155 596.2,156.3 597.1,157.7 597.9,159 598.8,160.4 599.7,161.7 600.6,163.1 601.5,164.5 602.3,165.8 603.2,167.1 604.1,168.4 605,169.7 605.9,170.9 606.7,172.1 607.6,173.3 608.5,174.5 609.4,175.7 610.3,176.9 611.1,178.1 612,179.3 612.9,180.5 613.8,181.7 614.7,182.9 615.5,184.1 616.4,185.3 617.3,186.6 618.2,187.9 619.1,189.2 619.9,190.5 620.8,191.9 621.7,193.3 622.6,194.7 623.5,196.1 624.3,197.6 625.2,199.1 626.1,200.6 627,202.1 627.9,203.6 628.7,205.2 629.6,206.7 630.5,208.2 631.4,209.8 632.3,211.3 633.1,212.8 634,214.3 634.9,215.8 635.8,217.3 636.7,218.8 637.5,220.3 638.4,221.8 639.3,223.3 640.2,224.8 641.1,226.2 641.9,227.7 642.8,229.2 643.7,230.7 644.6,232.2 645.5,233.7 646.3,235.2 647.2,236.7 648.1,238.1 649,239.6 649.9,241.1 650.7,242.6 651.6,244.1 652.5,245.6 653.4,247.1 654.3,248.6 655.1,250 656,251.5 656.9,253 657.8,254.5 658.7,256 659.5,257.5 660.4,259 661.3,260.5 662.2,261.9 663.1,263.4 663.9,264.9 664.8,266.4 665.7,267.9 666.6,269.4 667.5,270.9 668.3,272.4 669.2,273.8 670.1,275.3 671,276.8 671.9,278.3 672.7,279.8 673.6,281.3 674.5,282.8 675.4,284.3 676.3,285.7 677.1,287.2 678,288.7 678.9,290.2 679.8,291.7 680.7,293.2 681.5,294.7 682.4,296.2 683.3,297.6 684.2,299.1 685.1,300.6 685.9,302.1 686.8,303.6 687.7,305.1 688.6,306.6 689.5,308.1 690.3,309.5 691.2,311 692.1,312.5 693,314 693.9,315.5 694.7,317 695.6,318.5 696.5,320 697.4,321.4 698.3,322.9 699.1,324.4 700,325.9 700.9,327.5 701.8,329 702.7,330.6 703.5,332.1 704.4,333.7 705.3,335.3 706.2,336.9 707.1,338.5 707.9,340 708.8,341.6 709.7,343.2 710.6,344.7 711.5,346.3 712.3,347.8 713.2,349.3 714.1,350.8 715,352.2 715.9,353.7 716.7,355 717.6,356.4 718.5,357.7 719.4,359 720.3,360.2 721.1,361.4 722,362.6 722.9,363.7 723.8,364.9 724.7,366 725.5,367.1 726.4,368.2 727.3,369.3 728.2,370.4 729.1,371.5 729.9,372.5 730.8,373.6 731.7,374.6 732.6,375.6 733.5,376.6 734.3,377.6 735.2,378.5 736.1,379.4 737,380.4 737.9,381.3 738.7,382.1 739.6,383 740.5,383.8 741.4,384.6 742.3,385.4 743.1,386.2 744,387 744.9,387.7 745.8,388.4 746.7,389.1 747.5,389.8 748.4,390.6 749.3,391.3 750.2,392 751.1,392.7 751.9,393.4 752.8,394 753.7,394.7 754.6,395.3 755.5,396 756.3,396.6 757.2,397.2 758.1,397.7 759,398.3 759.9,398.8 760.7,399.3 761.6,399.7 762.5,400.1 763.4,400.5 764.3,400.8 765.1,401.2 766,401.4 766.9,401.6 767.8,401.9 768.7,402.1 769.5,402.3 770.4,402.5 771.3,402.7 772.2,403 773.1,403.2 773.9,403.4 774.8,403.6 775.7,403.7 776.6,403.9 777.5,404.1 778.3,404.3 779.2,404.4 780.1,404.6 781,404.8 781.9,404.9 782.7,405 783.6,405.2 784.5,405.3 785.4,405.4 786.3,405.5 787.1,405.6 788,405.7 788.9,405.8 789.8,405.8 790.7,405.9 791.5,406 792.4,406 793.3,406 794.2,406 795.1,406 795.9,406 796.8,405.9 797.7,405.8 798.6,405.6 799.5,405.4 800.3,405.1 801.2,404.8 802.1,404.4 803,404 803.9,403.6 804.7,403.2 805.6,402.7 806.5,402.2 807.4,401.7 808.3,401.2 809.1,400.7 810,400.2 810.9,399.7 811.8,399.1 812.7,398.4 813.5,397.6 814.4,396.8 815.3,395.9 816.2,394.9 817.1,393.9 817.9,392.9 818.8,391.8 819.7,390.6 820.6,389.4 821.5,388.2 822.3,387 823.2,385.7 824.1,384.4 825,383.1 825.9,381.8 826.7,380.4 827.6,379.1 828.5,377.8 829.4,376.5 830.3,375.2 831.1,373.9 832,372.6 832.9,371.3 833.8,370 834.7,368.7 835.5,367.4 836.4,366 837.3,364.6 838.2,363.2 839.1,361.8 839.9,360.4 840.8,358.9 841.7,357.4 842.6,356 843.5,354.5 844.3,353 845.2,351.5 846.1,350 847,348.4 847.9,346.9 848.7,345.4 849.6,343.8 850.5,342.3 851.4,340.7 852.3,339.2 853.1,337.6 854,336.1 854.9,334.5 855.8,333 856.7,331.5 857.5,329.9 858.4,328.4 859.3,326.9 860.2,325.4 861.1,323.9 861.9,322.4 862.8,320.9 863.7,319.4 864.6,318 865.5,316.5 866.3,315 867.2,313.5 868.1,312.1 869,310.6 869.9,309.1 870.7,307.6 871.6,306.2 872.5,304.7 873.4,303.2 874.3,301.7 875.1,300.2 876,298.8 876.9,297.3 877.8,295.8 878.7,294.3 879.5,292.9 880.4,291.4 881.3,289.9 882.2,288.4 883.1,287 883.9,285.5 884.8,284 885.7,282.5 886.6,281.1 887.5,279.6 888.3,278.1 889.2,276.6 890.1,275.2 891,273.7 891.9,272.2 892.7,270.7 893.6,269.3 894.5,267.8 895.4,266.3 896.3,264.8 897.1,263.3 898,261.8 898.9,260.4 899.8,258.9 900.7,257.4 901.5,255.9 902.4,254.4 903.3,252.9 904.2,251.4 905.1,249.9 905.9,248.4 906.8,246.9 907.7,245.5 908.6,244 909.5,242.5 910.3,241 911.2,239.5 912.1,238 913,236.6 913.9,235.1 914.7,233.6 915.6,232.1 916.5,230.7 917.4,229.2 918.3,227.7 919.1,226.3 920,224.8 920.9,223.4 921.8,221.9 922.7,220.5 923.5,219.1 924.4,217.6 925.3,216.2 926.2,214.7 927.1,213.2 927.9,211.7 928.8,210.2 929.7,208.7 930.6,207.2 931.5,205.7 932.3,204.2 933.2,202.7 934.1,201.2 935,199.6 935.9,198.1 936.7,196.6 937.6,195.1 938.5,193.6 939.4,192.2 940.3,190.7 941.1,189.3 942,187.8 942.9,186.4 943.8,185 944.7,183.6 945.5,182.3 946.4,181 947.3,179.7 948.2,178.4 949.1,177.1 949.9,175.9 950.8,174.8 951.7,173.6 952.6,172.5 953.5,171.4 954.3,170.4 955.2,169.4 956.1,168.4 957,167.4 957.9,166.3 958.7,165.3 959.6,164.3 960.5,163.3 961.4,162.2 962.3,161.2 963.1,160.2 964,159.2 964.9,158.3 965.8,157.3 966.7,156.3 967.5,155.4 968.4,154.5 969.3,153.6 970.2,152.7 971.1,151.8 971.9,151 972.8,150.2 973.7,149.4 974.6,148.7 975.5,148 976.3,147.3 977.2,146.7 978.1,146.1 979,145.5 979.9,145 980.7,144.6 981.6,144.1 982.5,143.7 983.4,143.4 984.3,143.1 985.1,142.9 986,142.7 986.9,142.5 987.8,142.3 988.7,142.1 989.5,141.9 990.4,141.7 991.3,141.5 992.2,141.3 993.1,141.1 993.9,140.9 994.8,140.7 995.7,140.6 996.6,140.4 997.5,140.2 998.3,140.1 999.2,139.9 1000.1,139.7 1001,139.6 1001.9,139.4 1002.7,139.3 1003.6,139.1 1004.5,139 1005.4,138.9 1006.3,138.7 1007.1,138.6 1008,138.5 1008.9,138.4 1009.8,138.3 1010.7,138.1 1011.5,138 1012.4,137.9 1013.3,137.8 1014.2,137.7 1015.1,137.6 1015.9,137.6 1016.8,137.5 1017.7,137.4 1018.6,137.3 1019.5,137.3 1020.3,137.2 1021.2,137.2 1022.1,137.1 1023,137 1023.9,137 1024.7,137 1025.6,136.9 1026.5,136.9 1027.4,136.9 1028.3,136.9 1029.1,136.9 1030,136.8 1030.9,136.8 1031.8,136.9 1032.7,137 1033.5,137.2 1034.4,137.5 1035.3,137.9 1036.2,138.3 1037.1,138.8 1037.9,139.4 1038.8,140 1039.7,140.6 1040.6,141.3 1041.5,142 1042.3,142.7 1043.2,143.4 1044.1,144.2 1045,144.9 1045.9,145.7 1046.7,146.5 1047.6,147.4 1048.5,148.4 1049.4,149.5 1050.3,150.7 1051.1,152 1052,153.3 1052.9,154.8 1053.8,156.3 1054.7,157.8 1055.5,159.5 1056.4,161.2 1057.3,163 1058.2,164.8 1059.1,166.6 1059.9,168.5 1060.8,170.4 1061.7,172.4 1062.6,174.3 1063.5,176.3 1064.3,178.3 1065.2,180.3 1066.1,182.4 1067,184.4 1067.9,186.4 1068.7,188.4 1069.6,190.3 1070.5,192.3 1071.4,194.2 1072.3,196.1 1073.1,198 1074,199.8 1074.9,201.6 1075.8,203.3 1076.7,204.9 1077.5,206.5 1078.4,208.1 1079.3,209.7 1080.2,211.3 1081.1,212.9 1081.9,214.5 1082.8,216 1083.7,217.6 1084.6,219.1 1085.5,220.7 1086.3,222.2 1087.2,223.8 1088.1,225.3 1089,226.8 1089.9,228.3 1090.7,229.9 1091.6,231.4 1092.5,232.9 1093.4,234.4 1094.3,235.9 1095.1,237.4 1096,238.9 1096.9,240.5 1097.8,242 1098.7,243.5 1099.5,245 1100.4,246.5 1101.3,248 1102.2,249.5 1103.1,251 1103.9,252.6 1104.8,254.1 1105.7,255.6 1106.6,257.1 1107.5,258.7 1108.3,260.2 1109.2,261.7 1110.1,263.3 1111,264.8 1111.9,266.3 1112.7,267.9 1113.6,269.4 1114.5,270.9 1115.4,272.5 1116.3,274 1117.1,275.6 1118,277.1 1118.9,278.6 1119.8,280.2 1120.7,281.7 1121.5,283.2 1122.4,284.8 1123.3,286.3 1124.2,287.8 1125.1,289.4 1125.9,290.9 1126.8,292.4 1127.7,294 1128.6,295.5 1129.5,297 1130.3,298.6 1131.2,300.1 1132.1,301.6 1133,303.2 1133.9,304.7 1134.7,306.2 1135.6,307.8 1136.5,309.3 1137.4,310.9 1138.3,312.4 1139.1,313.9 1140,315.5 1140.9,317 1141.8,318.6 1142.7,320.1 1143.5,321.7 1144.4,323.2 1145.3,324.7 1146.2,326.3 1147.1,327.8 1147.9,329.4 1148.8,330.9 1149.7,332.5 1150.6,334 1151.5,335.5 1152.3,337.1 1153.2,338.6 1154.1,340.2 1155,341.7 1155.9,343.2 1156.7,344.8 1157.6,346.3 1158.5,347.8 1159.4,349.4 1160.3,350.9 1161.1,352.4 1162,353.9 1162.9,355.5 1163.8,357 1164.7,358.5 1165.5,360 1166.4,361.5 1167.3,363.1 1168.2,364.6 1169.1,366.2 1169.9,367.9 1170.8,369.7 1171.7,371.5 1172.6,373.3 1173.5,375 1174.3,376.7 1175.2,378.2 1176.1,379.6 1177,380.7 1177.9,381.6 1178.7,382.2 1179.6,382.7 1180.5,383.1 1181.4,383.5 1182.3,383.9 1183.1,384.2 1184,384.5 1184.9,384.7 1185.8,385 1186.7,385.3 1187.5,385.5 1188.4,385.8 1189.3,386.1 1190.2,386.3 1191.1,386.6 1191.9,386.9 1192.8,387.1 1193.7,387.3 1194.6,387.6 1195.5,387.8 1196.3,388 1197.2,388.3 1198.1,388.5 1199,388.7 1199.9,389 1200.7,389.3 1201.6,389.6 1202.5,389.9 1203.4,390.2 1204.3,390.6 1205.1,391 1206,391.5 1206.9,392.1 1207.8,392.8 1208.7,393.5 1209.5,394.3 1210.4,395.1 1211.3,395.9 1212.2,396.8 1213.1,397.7 1213.9,398.5 1214.8,399.4 1215.7,400.2 1216.6,401 1217.5,401.8 1218.3,402.5 1219.2,403.1 1220.1,403.7 1221,404.2 1221.9,404.6 1222.7,404.9 1223.6,405 1224.5,405.1 1225.4,405.1 1226.3,405.1 1227.1,405.1 1228,405.1 1228.9,405.1 1229.8,405.1 1230.7,405.1 1231.5,405.1 1232.4,405.1 1233.3,405.1 1234.2,405.1 1235.1,405.1 1235.9,405.1 1236.8,405.1 1237.7,405.1 1238.6,405.1 1239.5,405.1 1240.3,405.1 1241.2,405.1 1242.1,405.1 1243,405.1 1243.9,405.1 1244.7,405.1 1245.6,405.1 1246.5,405.1 1247.4,405.1 1248.3,405.1 1249.1,405.1 1250,405.1 1250.9,405.1 1251.8,405.1 1252.7,405.1 1253.5,405.1 1254.4,405.1 1255.3,405.1 1256.2,405.1 1257.1,405.1 1257.9,404.9 1258.8,404.6 1259.7,404 1260.6,403.3 1261.5,402.4 1262.3,401.4 1263.2,400.3 1264.1,399.1 1265,397.8 1265.9,396.5 1266.7,395.1 1267.6,393.7 1268.5,392.2 1269.4,390.8 1270.3,389.5 1271.1,388.1 1272,386.8 1272.9,385.5 1273.8,384.1 1274.7,382.7 1275.5,381.1 1276.4,379.6 1277.3,378 1278.2,376.4 1279.1,374.7 1279.9,373 1280.8,371.3 1281.7,369.5 1282.6,367.8 1283.5,366 1284.3,364.2 1285.2,362.5 1286.1,360.7 1287,359 1287.9,357.2 1288.7,355.5 1289.6,353.8 1290.5,352.2 1291.4,350.5 1292.3,349 1293.1,347.4 1294,345.8 1294.9,344.3 1295.8,342.7 1296.7,341.1 1297.5,339.6 1298.4,338 1299.3,336.5 1300.2,335 1301.1,333.4 1301.9,331.9 1302.8,330.4 1303.7,328.8 1304.6,327.3 1305.5,325.8 1306.3,324.3 1307.2,322.8 1308.1,321.3 1309,319.8 1309.9,318.3 1310.7,316.8 1311.6,315.3 1312.5,313.9 1313.4,312.4 1314.3,310.9 1315.1,309.5 1316,308 1316.9,306.6 1317.8,305.2 1318.7,303.7 1319.5,302.3 1320.4,300.9 1321.3,299.5 1322.2,298.1 1323.1,296.7 1323.9,295.4 1324.8,294 1325.7,292.7 1326.6,291.4 1327.5,290.1 1328.3,288.8 1329.2,287.5 1330.1,286.2 1331,284.9 1331.9,283.7 1332.7,282.4 1333.6,281.1 1334.5,279.9 1335.4,278.6 1336.3,277.4 1337.1,276.1 1338,274.8 1338.9,273.6 1339.8,272.3 1340.7,271 1341.5,269.7 1342.4,268.4 1343.3,267.1 1344.2,265.8 1345.1,264.5 1345.9,263.2 1346.8,261.8 1347.7,260.5 1348.6,259.1 1349.5,257.7 1350.3,256.3 1351.2,254.8 1352.1,253.3 1353,251.8 1353.9,250.2 1354.7,248.7 1355.6,247 1356.5,245.4 1357.4,243.7 1358.3,242 1359.1,240.3 1360,238.6 1360.9,236.8 1361.8,235.1 1362.7,233.3 1363.5,231.6 1364.4,229.8 1365.3,228.1 1366.2,226.4 1367.1,224.6 1367.9,222.9 1368.8,221.2 1369.7,219.6 1370.6,217.9 1371.5,216.3 1372.3,214.7 1373.2,213.2 1374.1,211.7 1375,210.2 1375.9,208.8 1376.7,207.4 1377.6,206.1 1378.5,204.8 1379.4,203.6 1380.3,202.4 1381.1,201.3 1382,200.2 1382.9,199.2 1383.8,198.1 1384.7,197.1 1385.5,196.2 1386.4,195.2 1387.3,194.3 1388.2,193.4 1389.1,192.5 1389.9,191.6 1390.8,190.7 1391.7,189.8 1392.6,189 1393.5,188.2 1394.3,187.3 1395.2,186.5 1396.1,185.7 1397,184.9 1397.9,184.1 1398.7,183.3 1399.6,182.5 1400.5,181.7 1401.4,180.9 1402.3,180.1 1403.1,179.3 1404,178.5 1404.9,177.6 1405.8,176.8 1406.7,175.9 1407.5,175.1 1408.4,174.2 1409.3,173.3 1410.2,172.4 1411.1,171.4 1411.9,170.4 1412.8,169.4 1413.7,168.4 1414.6,167.3 1415.5,166.2 1416.3,165.1 1417.2,164 1418.1,162.9 1419,161.8 1419.9,160.6 1420.7,159.5 1421.6,158.4 1422.5,157.3 1423.4,156.2 1424.3,155.1 1425.1,154 1426,153 1426.9,152 1427.8,151 1428.7,150 1429.5,149.1 1430.4,148.2 1431.3,147.4 1432.2,146.6 1433.1,145.9 1433.9,145.2 1434.8,144.6 1435.7,144 1436.6,143.5 1437.5,143.1 1438.3,142.7 1439.2,142.4 1440.1,142.1 1441,141.8 1441.9,141.6 1442.7,141.3 1443.6,141 1444.5,140.8 1445.4,140.5 1446.3,140.3 1447.1,140 1448,139.8 1448.9,139.6 1449.8,139.3 1450.7,139.1 1451.5,138.9 1452.4,138.7 1453.3,138.5 1454.2,138.3 1455.1,138.2 1455.9,138 1456.8,137.8 1457.7,137.7 1458.6,137.6 1459.5,137.4 1460.3,137.3 1461.2,137.2 1462.1,137.1 1463,137.1 1463.9,137 1464.7,136.9 1465.6,136.9 1466.5,136.9 1467.4,136.8 1468.3,136.8 1469.1,136.9 1470,136.9 1470.9,137 1471.8,137.2 1472.7,137.3 1473.5,137.5 1474.4,137.8 1475.3,138 1476.2,138.3 1477.1,138.6 1477.9,138.9 1478.8,139.3 1479.7,139.7 1480.6,140.1 1481.5,140.5 1482.3,140.9 1483.2,141.3 1484.1,142 1485,142.9 1485.9,143.9 1486.7,145.1 1487.6,146.5 1488.5,148 1489.4,149.6 1490.3,151.2 1491.1,152.9 1492,154.7 1492.9,156.4 1493.8,158.2 1494.7,159.9 1495.5,161.5 1496.4,163.1 1497.3,164.6 1498.2,166 1499.1,167.4 1499.9,168.8 1500.8,170.2 1501.7,171.6 1502.6,173 1503.5,174.3 1504.3,175.7 1505.2,177.1 1506.1,178.5 1507,179.8 1507.9,181.2 1508.7,182.6 1509.6,183.9 1510.5,185.3 1511.4,186.7 1512.3,188.1 1513.1,189.4 1514,190.8 1514.9,192.2 1515.8,193.6 1516.7,195 1517.5,196.4 1518.4,197.8 1519.3,199.2 1520.2,200.6 1521.1,202 1521.9,203.5 1522.8,204.9 1523.7,206.3 1524.6,207.8 1525.5,209.3 1526.3,210.7 1527.2,212.2 1528.1,213.7 1529,215.3 1529.9,216.8 1530.7,218.4 1531.6,220 1532.5,221.6 1533.4,223.2 1534.3,224.8 1535.1,226.5 1536,228.1 1536.9,229.8 1537.8,231.4 1538.7,233.1 1539.5,234.8 1540.4,236.4 1541.3,238.1 1542.2,239.8 1543.1,241.4 1543.9,243.1 1544.8,244.7 1545.7,246.3 1546.6,248 1547.5,249.6 1548.3,251.2 1549.2,252.8 1550.1,254.3 1551,255.9 1551.9,257.4 1552.7,258.9 1553.6,260.4 1554.5,261.8 1555.4,263.3 1556.3,264.7 1557.1,266 1558,267.4 1558.9,268.7 1559.8,270 1560.7,271.3 1561.5,272.6 1562.4,273.9 1563.3,275.1 1564.2,276.4 1565.1,277.6 1565.9,278.8 1566.8,280 1567.7,281.2 1568.6,282.4 1569.5,283.6 1570.3,284.8 1571.2,286 1572.1,287.2 1573,288.4 1573.9,289.5 1574.7,290.7 1575.6,291.9 1576.5,293.1 1577.4,294.3 1578.3,295.5 1579.1,296.7 1580,297.9 1580.9,299.1 1581.8,300.3 1582.7,301.6 1583.5,302.8 1584.4,304.1 1585.3,305.4 1586.2,306.7 1587.1,308 1587.9,309.3 1588.8,310.7 1589.7,312 1590.6,313.4 1591.5,314.7 1592.3,316.1 1593.2,317.5 1594.1,318.8 1595,320.2 1595.9,321.5 1596.7,322.9 1597.6,324.2 1598.5,325.5 1599.4,326.8 1600.3,328 1601.1,329.3 1602,330.5 1602.9,331.8 1603.8,333 1604.7,334.3 1605.5,335.5 1606.4,336.7 1607.3,337.9 1608.2,339.1 1609.1,340.3 1609.9,341.5 1610.8,342.7 1611.7,343.9 1612.6,345.1 1613.5,346.2 1614.3,347.4 1615.2,348.5 1616.1,349.6 1617,350.7 1617.9,351.8 1618.7,352.9 1619.6,354 1620.5,355.1 1621.4,356.1 1622.3,357.2 1623.1,358.3 1624,359.4 1624.9,360.5 1625.8,361.6 1626.7,362.7 1627.5,363.8 1628.4,364.9 1629.3,366 1630.2,367 1631.1,368.1 1631.9,369.2 1632.8,370.2 1633.7,371.3 1634.6,372.3 1635.5,373.3 1636.3,374.3 1637.2,375.3 1638.1,376.3 1639,377.2 1639.9,378.1 1640.7,379 1641.6,379.9 1642.5,380.7 1643.4,381.6 1644.3,382.4 1645.1,383.1 1646,383.9 1646.9,384.6 1647.8,385.3 1648.7,385.9 1649.5,386.5 1650.4,387.1 1651.3,387.8 1652.2,388.4 1653.1,389 1653.9,389.6 1654.8,390.3 1655.7,390.9 1656.6,391.5 1657.5,392.1 1658.3,392.7 1659.2,393.3 1660.1,394 1661,394.5 1661.9,395.1 1662.7,395.7 1663.6,396.3 1664.5,396.8 1665.4,397.4 1666.3,397.9 1667.1,398.4 1668,398.9 1668.9,399.4 1669.8,399.8 1670.7,400.3 1671.5,400.7 1672.4,401.1 1673.3,401.5 1674.2,401.8 1675.1,402.2 1675.9,402.5 1676.8,402.8 1677.7,403 1678.6,403.2 1679.5,403.4 1680.3,403.6 1681.2,403.8 1682.1,403.9 1683,403.9 1683.9,404 1684.7,404 1685.6,404 1686.5,404 1687.4,403.9 1688.3,403.9 1689.1,403.8 1690,403.8 1690.9,403.7 1691.8,403.6 1692.7,403.5 1693.5,403.4 1694.4,403.3 1695.3,403.1 1696.2,403 1697.1,402.8 1697.9,402.7 1698.8,402.5 1699.7,402.3 1700.6,402.1 1701.5,401.9 1702.3,401.7 1703.2,401.4 1704.1,401.2 1705,401 1705.9,400.7 1706.7,400.4 1707.6,400.2 1708.5,399.9 1709.4,399.6 1710.3,399.3 1711.1,398.9 1712,398.3 1712.9,397.4 1713.8,396.3 1714.7,395 1715.5,393.4 1716.4,391.7 1717.3,389.9 1718.2,387.9 1719.1,385.8 1719.9,383.6 1720.8,381.4 1721.7,379.1 1722.6,376.8 1723.5,374.5 1724.3,372.3 1725.2,370.1 1726.1,368 1727,366 1727.9,364.2 1728.7,362.4 1729.6,360.9 1730.5,359.5 1731.4,358.2 1732.3,357 1733.1,355.7 1734,354.6 1734.9,353.4 1735.8,352.3 1736.7,351.2 1737.5,350.1 1738.4,349.1 1739.3,348.1 1740.2,347.1 1741.1,346.1 1741.9,345.2 1742.8,344.2 1743.7,343.3 1744.6,342.4 1745.5,341.5 1746.3,340.6 1747.2,339.6 1748.1,338.7 1749,337.8 1749.9,336.9 1750.7,335.9 1751.6,335 1752.5,334 1753.4,333.1 1754.3,332.1 1755.1,331 1756,330 1756.9,328.9 1757.8,327.8 1758.7,326.7 1759.5,325.6 1760.4,324.4 1761.3,323.1 1762.2,321.9 1763.1,320.5 1763.9,319.2 1764.8,317.7 1765.7,316.3 1766.6,314.7 1767.5,313.1 1768.3,311.5 1769.2,309.9 1770.1,308.2 1771,306.4 1771.9,304.7 1772.7,302.9 1773.6,301.1 1774.5,299.2 1775.4,297.4 1776.3,295.5 1777.1,293.6 1778,291.7 1778.9,289.8 1779.8,287.9 1780.7,285.9 1781.5,284 1782.4,282.1 1783.3,280.2 1784.2,278.3 1785.1,276.3 1785.9,274.5 1786.8,272.6 1787.7,270.7 1788.6,268.9 1789.5,267.1 1790.3,265.3 1791.2,263.5 1792.1,261.8 1793,260.1 1793.9,258.5 1794.7,256.9 1795.6,255.3 1796.5,253.8 1797.4,252.2 1798.3,250.7 1799.1,249.1 1800,247.6 1800.9,246.1 1801.8,244.6 1802.7,243.1 1803.5,241.6 1804.4,240.1 1805.3,238.6 1806.2,237.1 1807.1,235.7 1807.9,234.2 1808.8,232.8 1809.7,231.3 1810.6,229.9 1811.5,228.5 1812.3,227.1 1813.2,225.7 1814.1,224.3 1815,222.9 1815.9,221.5 1816.7,220.2 1817.6,218.8 1818.5,217.5 1819.4,216.2 1820.3,214.8 1821.1,213.5 1822,212.3 1822.9,211 1823.8,209.7 1824.7,208.4 1825.5,207.2 1826.4,206 1827.3,204.7 1828.2,203.5 1829.1,202.3 1829.9,201.1 1830.8,199.9 1831.7,198.7 1832.6,197.6 1833.5,196.4 1834.3,195.2 1835.2,194 1836.1,192.9 1837,191.7 1837.9,190.6 1838.7,189.4 1839.6,188.3 1840.5,187.2 1841.4,186 1842.3,184.9 1843.1,183.8 1844,182.7 1844.9,181.7 1845.8,180.6 1846.7,179.5 1847.5,178.5 1848.4,177.5 1849.3,176.5 1850.2,175.5 1851.1,174.5 1851.9,173.5 1852.8,172.5 1853.7,171.6 1854.6,170.6 1855.5,169.7 1856.3,168.8 1857.2,167.9 1858.1,167.1 1859,166.2 1859.9,165.4 1860.7,164.6 1861.6,163.8 1862.5,162.9 1863.4,162.1 1864.3,161.2 1865.1,160.4 1866,159.5 1866.9,158.7 1867.8,157.8 1868.7,157 1869.5,156.1 1870.4,155.3 1871.3,154.4 1872.2,153.6 1873.1,152.8 1873.9,152 1874.8,151.2 1875.7,150.4 1876.6,149.7 1877.5,148.9 1878.3,148.2 1879.2,147.5 1880.1,146.8 1881,146.2 1881.9,145.6 1882.7,145 1883.6,144.4 1884.5,143.9 1885.4,143.4 1886.3,142.9 1887.1,142.5 1888,142.1 1888.9,141.7 1889.8,141.4 1890.7,141.1 1891.5,140.9 1892.4,140.7 1893.3,140.6 1894.2,140.4 1895.1,140.3 1895.9,140.2 1896.8,140 1897.7,139.9 1898.6,139.8 1899.5,139.6 1900.3,139.5 1901.2,139.4 1902.1,139.3 1903,139.2 1903.9,139 1904.7,138.9 1905.6,138.8 1906.5,138.7 1907.4,138.6 1908.3,138.5 1909.1,138.4 1910,138.4 1910.9,138.3 1911.8,138.2 1912.7,138.1 1913.5,138 1914.4,138 1915.3,137.9 1916.2,137.8 1917.1,137.8 1917.9,137.7 1918.8,137.7 1919.7,137.6 1920.6,137.6 1921.5,137.6 1922.3,137.5 1923.2,137.5 1924.1,137.5 1925,137.5 1925.9,137.4 1926.7,137.4 1927.6,137.4 1928.5,137.4 1929.4,137.5 1930.3,137.9 1931.1,138.4 1932,139.1 1932.9,140 1933.8,140.9 1934.7,142.1 1935.5,143.2 1936.4,144.5 1937.3,145.8 1938.2,147.1 1939.1,148.5 1939.9,149.8 1940.8,151.1 1941.7,152.3 1942.6,153.6 1943.5,155 1944.3,156.4 1945.2,158 1946.1,159.6 1947,161.2 1947.9,162.9 1948.7,164.6 1949.6,166.3 1950.5,168.1 1951.4,169.8 1952.3,171.5 1953.1,173.2 1954,174.9 1954.9,176.5 1955.8,178.1 1956.7,179.5 1957.5,181 1958.4,182.3 1959.3,183.6 1960.2,184.9 1961.1,186.1 1961.9,187.3 1962.8,188.4 1963.7,189.6 1964.6,190.7 1965.5,191.8 1966.3,192.8 1967.2,193.9 1968.1,194.9 1969,195.9 1969.9,196.9 1970.7,197.9 1971.6,198.9 1972.5,199.9 1973.4,200.9 1974.3,201.9 1975.1,202.9 1976,203.9 1976.9,204.9 1977.8,205.9 1978.7,207 1979.5,208 1980.4,209.1 1981.3,210.2 1982.2,211.4 1983.1,212.5 1983.9,213.7 1984.8,215 1985.7,216.2 1986.6,217.5 1987.5,218.9 1988.3,220.3 1989.2,221.7 1990.1,223.2 1991,224.8 1991.9,226.5 1992.7,228.4 1993.6,230.5 1994.5,232.6 1995.4,234.8 1996.3,237.1 1997.1,239.5 1998,241.8 1998.9,244.2 1999.8,246.6 2000.7,249 2001.5,251.3 2002.4,253.5 2003.3,255.7 2004.2,257.7 2005.1,259.6 2005.9,261.4 2006.8,263 2007.7,264.5 2008.6,265.9 2009.5,267.3 2010.3,268.6 2011.2,269.8 2012.1,271.1 2013,272.3 2013.9,273.4 2014.7,274.6 2015.6,275.7 2016.5,276.8 2017.4,277.9 2018.3,279 2019.1,280.2 2020,281.4 2020.9,282.6 2021.8,283.8 2022.7,285.1 2023.5,286.4 2024.4,287.7 2025.3,289.1 2026.2,290.4 2027.1,291.8 2027.9,293.2 2028.8,294.6 2029.7,296.1 2030.6,297.5 2031.5,298.9 2032.3,300.3 2033.2,301.8 2034.1,303.2 2035,304.7 2035.9,306.1 2036.7,307.5 2037.6,308.9 2038.5,310.4 2039.4,311.8 2040.3,313.2 2041.1,314.6 2042,316 2042.9,317.5 2043.8,318.9 2044.7,320.4 2045.5,321.8 2046.4,323.2 2047.3,324.7 2048.2,326.1 2049.1,327.5 2049.9,328.9 2050.8,330.3 2051.7,331.7 2052.6,333.1 2053.5,334.4 2054.3,335.8 2055.2,337.1 2056.1,338.4 2057,339.6 2057.9,340.9 2058.7,342.1 2059.6,343.3 2060.5,344.5 2061.4,345.7 2062.3,346.9 2063.1,348.1 2064,349.2 2064.9,350.4 2065.8,351.6 2066.7,352.7 2067.5,353.9 2068.4,355 2069.3,356.2 2070.2,357.3 2071.1,358.5 2071.9,359.6 2072.8,360.8 2073.7,362 2074.6,363.2 2075.5,364.4 2076.3,365.7 2077.2,366.9 2078.1,368.2 2079,369.6 2079.9,370.9 2080.7,372.2 2081.6,373.5 2082.5,374.9 2083.4,376.2 2084.3,377.5 2085.1,378.7 2086,380 2086.9,381.1 2087.8,382.3 2088.7,383.4 2089.5,384.4 2090.4,385.4 2091.3,386.3 2092.2,387.1 2093.1,388 2093.9,388.8"/><rect x="295" y="108.7" width="1804" height="326.3" fill="none" stroke="#1c1c1c" stroke-width="3.3"/><path fill="none" stroke="#1c1c1c" stroke-width="3.0" d="M295 435V417.2M295 108.7V126.5M515 435V417.2M515 108.7V126.5M735 435V417.2M735 108.7V126.5M955 435V417.2M955 108.7V126.5M1175 435V417.2M1175 108.7V126.5M1395 435V417.2M1395 108.7V126.5M1615 435V417.2M1615 108.7V126.5M1835 435V417.2M1835 108.7V126.5M2055 435V417.2M2055 108.7V126.5M295 108.7H312.8M2099 108.7H2081.2M295 190.3H312.8M2099 190.3H2081.2M295 271.9H312.8M2099 271.9H2081.2M295 353.4H312.8M2099 353.4H2081.2M295 435H312.8M2099 435H2081.2"/><g font-size="56.5" fill="#222" text-anchor="end"><text x="270.1" y="130.2" letter-spacing="1.3">400</text><text x="270.1" y="211.8" letter-spacing="1.3">200</text><text x="268.8" y="293.4">0</text><text x="270.1" y="374.9" letter-spacing="1.3">-200</text><text x="270.1" y="456.5" letter-spacing="1.3">-400</text></g><text x="1197.5" y="83.4" font-size="60.5" font-weight="bold" class="b" fill="#000" text-anchor="middle">Voltage waveform</text><text transform="translate(124 269.2) rotate(-90)" font-size="60.5" fill="#222" text-anchor="middle" letter-spacing="2">(V)</text><polyline fill="none" stroke="#000" stroke-width="10.5" stroke-linejoin="round" points="291.7,737.2 292.6,738.9 293.5,741.1 294.3,743.7 295.2,746.5 296.1,750.5 297,756 297.9,762.6 298.7,769.6 299.6,776.3 300.5,782.1 301.4,786.5 302.3,789.8 303.1,792.7 304,795.4 304.9,798 305.8,800.3 306.7,802.4 307.5,804.4 308.4,806.4 309.3,808.2 310.2,810 311.1,811.8 311.9,813.7 312.8,815.5 313.7,817.3 314.6,819.1 315.5,820.7 316.3,822.3 317.2,823.6 318.1,824.8 319,825.7 319.9,826.3 320.7,826.7 321.6,827.2 322.5,827.6 323.4,828 324.3,828.3 325.1,828.7 326,829 326.9,829.3 327.8,829.6 328.7,829.8 329.5,830.1 330.4,830.2 331.3,830.4 332.2,830.5 333.1,830.6 333.9,830.7 334.8,830.7 335.7,830.7 336.6,830.6 337.5,830.4 338.3,830.1 339.2,829.8 340.1,829.4 341,828.9 341.9,828.4 342.7,827.9 343.6,827.3 344.5,826.8 345.4,826.2 346.3,825.6 347.1,825 348,824.5 348.9,823.9 349.8,823.4 350.7,822.9 351.5,822.4 352.4,821.9 353.3,821.3 354.2,820.7 355.1,820.1 355.9,819.4 356.8,818.8 357.7,818.1 358.6,817.5 359.5,816.8 360.3,816.1 361.2,815.5 362.1,814.9 363,814.3 363.9,813.7 364.7,813.2 365.6,812.7 366.5,812.3 367.4,811.9 368.3,811.6 369.1,811.3 370,811.1 370.9,811 371.8,810.9 372.7,811 373.5,811.2 374.4,811.5 375.3,811.9 376.2,812.4 377.1,812.9 377.9,813.6 378.8,814.3 379.7,815.1 380.6,815.9 381.5,816.7 382.3,817.6 383.2,818.5 384.1,819.4 385,820.3 385.9,821.2 386.7,822.1 387.6,822.9 388.5,823.7 389.4,824.5 390.3,825.2 391.1,825.8 392,826.4 392.9,826.8 393.8,827.2 394.7,827.5 395.5,827.6 396.4,827.7 397.3,827.6 398.2,827.5 399.1,827.4 399.9,827.2 400.8,826.9 401.7,826.7 402.6,826.3 403.5,826 404.3,825.6 405.2,825.2 406.1,824.7 407,824.3 407.9,823.8 408.7,823.3 409.6,822.8 410.5,822.3 411.4,821.8 412.3,821.2 413.1,820.7 414,820.2 414.9,819.7 415.8,819.2 416.7,818.7 417.5,818.3 418.4,817.9 419.3,817.5 420.2,817.1 421.1,816.7 421.9,816.4 422.8,816.2 423.7,816 424.6,815.8 425.5,815.7 426.3,815.6 427.2,815.6 428.1,815.7 429,815.9 429.9,816.3 430.7,816.8 431.6,817.5 432.5,818.2 433.4,819 434.3,820 435.1,821 436,822 436.9,823.2 437.8,824.4 438.7,825.6 439.5,826.9 440.4,828.2 441.3,829.5 442.2,830.8 443.1,832.1 443.9,833.4 444.8,834.7 445.7,836 446.6,837.4 447.5,838.9 448.3,840.4 449.2,842.1 450.1,843.9 451,845.7 451.9,847.6 452.7,849.5 453.6,851.5 454.5,853.5 455.4,855.6 456.3,857.7 457.1,859.7 458,861.8 458.9,863.9 459.8,866 460.7,868.1 461.5,870.2 462.4,872.2 463.3,874.2 464.2,876.1 465.1,878.1 465.9,880.3 466.8,882.5 467.7,884.7 468.6,887 469.5,889.3 470.3,891.5 471.2,893.8 472.1,896 473,898.1 473.9,900.1 474.7,902 475.6,903.8 476.5,905.4 477.4,906.8 478.3,908.1 479.1,909.1 480,910 480.9,911 481.8,911.9 482.7,912.8 483.5,913.7 484.4,914.5 485.3,915.2 486.2,915.9 487.1,916.5 487.9,917 488.8,917.4 489.7,917.7 490.6,917.9 491.5,917.9 492.3,917.8 493.2,917.4 494.1,916.9 495,916.2 495.9,915.3 496.7,914.3 497.6,913.1 498.5,911.8 499.4,910.4 500.3,908.9 501.1,907.3 502,905.6 502.9,903.9 503.8,902.1 504.7,900.3 505.5,898.4 506.4,896.5 507.3,894.5 508.2,892.1 509.1,889.4 509.9,886.4 510.8,883.1 511.7,879.6 512.6,875.8 513.5,871.9 514.3,867.7 515.2,863.4 516.1,858.9 517,854.2 517.9,849.5 518.7,844.6 519.6,839.1 520.5,832.4 521.4,825.2 522.3,817.7 523.1,810.5 524,804 524.9,798.6 525.8,794 526.7,789.5 527.5,785.2 528.4,781.1 529.3,777.3 530.2,773.7 531.1,770.4 531.9,767.5 532.8,764.9 533.7,762.8 534.6,761 535.5,759.4 536.3,757.8 537.2,756.2 538.1,754.7 539,753.3 539.9,751.9 540.7,750.7 541.6,749.5 542.5,748.4 543.4,747.4 544.3,746.5 545.1,745.7 546,745 546.9,744.4 547.8,744 548.7,743.7 549.5,743.5 550.4,743.3 551.3,743.2 552.2,743 553.1,742.9 553.9,742.8 554.8,742.7 555.7,742.6 556.6,742.5 557.5,742.4 558.3,742.3 559.2,742.3 560.1,742.2 561,742.2 561.9,742.1 562.7,742.1 563.6,742.1 564.5,742.1 565.4,742.1 566.3,742.3 567.1,742.6 568,743 568.9,743.5 569.8,744.1 570.7,744.8 571.5,745.5 572.4,746.3 573.3,747.1 574.2,747.9 575.1,748.8 575.9,749.6 576.8,750.4 577.7,751.1 578.6,751.9 579.5,752.5 580.3,753.1 581.2,753.7 582.1,754.3 583,755 583.9,755.7 584.7,756.4 585.6,757.1 586.5,757.7 587.4,758.4 588.3,759 589.1,759.6 590,760.2 590.9,760.6 591.8,761.1 592.7,761.4 593.5,761.7 594.4,761.8 595.3,761.9 596.2,761.8 597.1,761.5 597.9,761.1 598.8,760.6 599.7,760 600.6,759.2 601.5,758.4 602.3,757.5 603.2,756.6 604.1,755.7 605,754.8 605.9,753.8 606.7,752.9 607.6,752.1 608.5,751.3 609.4,750.6 610.3,750 611.1,749.5 612,749 612.9,748.5 613.8,748 614.7,747.5 615.5,747 616.4,746.6 617.3,746.1 618.2,745.7 619.1,745.2 619.9,744.9 620.8,744.5 621.7,744.2 622.6,744 623.5,743.8 624.3,743.6 625.2,743.5 626.1,743.5 627,743.6 627.9,743.8 628.7,744 629.6,744.4 630.5,744.8 631.4,745.3 632.3,745.8 633.1,746.4 634,747 634.9,747.6 635.8,748.3 636.7,748.9 637.5,749.6 638.4,750.2 639.3,750.9 640.2,751.5 641.1,752 641.9,752.6 642.8,753 643.7,753.4 644.6,753.7 645.5,754 646.3,754.1 647.2,754.2 648.1,754.2 649,754 649.9,753.8 650.7,753.4 651.6,753 652.5,752.6 653.4,752 654.3,751.4 655.1,750.8 656,750 656.9,749.3 657.8,748.5 658.7,747.6 659.5,746.7 660.4,745.8 661.3,744.9 662.2,744 663.1,743 663.9,741.8 664.8,740.3 665.7,738.6 666.6,736.7 667.5,734.6 668.3,732.4 669.2,730.1 670.1,727.7 671,725.2 671.9,722.7 672.7,720.2 673.6,717.7 674.5,715.2 675.4,712.8 676.3,710.5 677.1,708.3 678,706.3 678.9,704.2 679.8,702.1 680.7,700 681.5,697.9 682.4,695.7 683.3,693.5 684.2,691.4 685.1,689.2 685.9,687.1 686.8,685 687.7,682.9 688.6,680.9 689.5,679 690.3,677.1 691.2,675.3 692.1,673.6 693,672 693.9,670.5 694.7,669.1 695.6,667.9 696.5,666.7 697.4,665.6 698.3,664.5 699.1,663.4 700,662.3 700.9,661.2 701.8,660.2 702.7,659.1 703.5,658.2 704.4,657.3 705.3,656.5 706.2,655.7 707.1,655 707.9,654.4 708.8,654 709.7,653.6 710.6,653.4 711.5,653.3 712.3,653.3 713.2,653.6 714.1,654 715,654.6 715.9,655.4 716.7,656.3 717.6,657.3 718.5,658.5 719.4,659.8 720.3,661.1 721.1,662.5 722,664 722.9,665.5 723.8,667 724.7,668.8 725.5,671 726.4,673.5 727.3,676.5 728.2,679.8 729.1,683.3 729.9,687.1 730.8,691 731.7,695.2 732.6,699.4 733.5,703.8 734.3,708.2 735.2,712.6 736.1,716.9 737,721.2 737.9,725.4 738.7,729.4 739.6,733.3 740.5,737.2 741.4,741.2 742.3,745.2 743.1,749.3 744,753.4 744.9,757.5 745.8,761.6 746.7,765.6 747.5,769.7 748.4,773.7 749.3,777.7 750.2,781.7 751.1,785.5 751.9,789.5 752.8,793.9 753.7,798.5 754.6,803.2 755.5,807.8 756.3,812.1 757.2,815.9 758.1,819.1 759,821.5 759.9,822.9 760.7,823.4 761.6,823.8 762.5,824.2 763.4,824.5 764.3,824.8 765.1,825 766,825.2 766.9,825.4 767.8,825.6 768.7,825.8 769.5,826 770.4,826.2 771.3,826.5 772.2,826.8 773.1,827.1 773.9,827.4 774.8,827.8 775.7,828.1 776.6,828.4 777.5,828.8 778.3,829.1 779.2,829.4 780.1,829.7 781,830 781.9,830.2 782.7,830.4 783.6,830.5 784.5,830.6 785.4,830.7 786.3,830.7 787.1,830.5 788,830.1 788.9,829.6 789.8,828.9 790.7,828.1 791.5,827.2 792.4,826.2 793.3,825.2 794.2,824.2 795.1,823.1 795.9,822 796.8,821 797.7,820 798.6,819.1 799.5,818.3 800.3,817.6 801.2,817 802.1,816.5 803,816 803.9,815.4 804.7,814.9 805.6,814.4 806.5,813.9 807.4,813.4 808.3,812.9 809.1,812.5 810,812 810.9,811.6 811.8,811.2 812.7,810.9 813.5,810.5 814.4,810.2 815.3,810 816.2,809.7 817.1,809.6 817.9,809.4 818.8,809.3 819.7,809.3 820.6,809.4 821.5,809.6 822.3,809.9 823.2,810.3 824.1,810.9 825,811.5 825.9,812.2 826.7,813 827.6,813.9 828.5,814.7 829.4,815.7 830.3,816.6 831.1,817.6 832,818.6 832.9,819.6 833.8,820.6 834.7,821.5 835.5,822.5 836.4,823.4 837.3,824.2 838.2,825 839.1,825.6 839.9,826.3 840.8,826.8 841.7,827.2 842.6,827.5 843.5,827.6 844.3,827.7 845.2,827.6 846.1,827.5 847,827.4 847.9,827.2 848.7,826.9 849.6,826.6 850.5,826.3 851.4,826 852.3,825.6 853.1,825.1 854,824.7 854.9,824.2 855.8,823.7 856.7,823.2 857.5,822.7 858.4,822.2 859.3,821.7 860.2,821.2 861.1,820.6 861.9,820.1 862.8,819.6 863.7,819.1 864.6,818.7 865.5,818.2 866.3,817.8 867.2,817.4 868.1,817 869,816.7 869.9,816.4 870.7,816.1 871.6,815.9 872.5,815.7 873.4,815.6 874.3,815.6 875.1,815.6 876,815.7 876.9,816 877.8,816.4 878.7,817 879.5,817.6 880.4,818.4 881.3,819.3 882.2,820.2 883.1,821.2 883.9,822.3 884.8,823.5 885.7,824.7 886.6,825.9 887.5,827.2 888.3,828.5 889.2,829.8 890.1,831.1 891,832.4 891.9,833.7 892.7,835 893.6,836.3 894.5,837.7 895.4,839.3 896.3,840.9 897.1,842.5 898,844.3 898.9,846.1 899.8,848 900.7,850 901.5,852 902.4,854 903.3,856.1 904.2,858.2 905.1,860.3 905.9,862.4 906.8,864.5 907.7,866.6 908.6,868.6 909.5,870.7 910.3,872.7 911.2,874.6 912.1,876.6 913,878.7 913.9,880.8 914.7,883 915.6,885.3 916.5,887.6 917.4,889.8 918.3,892.1 919.1,894.3 920,896.5 920.9,898.6 921.8,900.6 922.7,902.5 923.5,904.2 924.4,905.8 925.3,907.1 926.2,908.3 927.1,909.3 927.9,910.3 928.8,911.2 929.7,912.1 930.6,913 931.5,913.9 932.3,914.7 933.2,915.4 934.1,916.1 935,916.6 935.9,917.1 936.7,917.5 937.6,917.8 938.5,917.9 939.4,917.9 940.3,917.7 941.1,917.3 942,916.8 942.9,916 943.8,915.1 944.7,914.1 945.5,913 946.4,911.7 947.3,910.3 948.2,908.8 949.1,907.2 949.9,905.6 950.8,903.9 951.7,902.1 952.6,900.3 953.5,898.4 954.3,896.5 955.2,894.4 956.1,891.9 957,888.9 957.9,885.7 958.7,882.1 959.6,878.3 960.5,874.2 961.4,870 962.3,865.7 963.1,861.3 964,856.8 964.9,852.3 965.8,847.9 966.7,843.5 967.5,838.9 968.4,834 969.3,828.8 970.2,823.4 971.1,818.1 971.9,812.7 972.8,807.5 973.7,802.5 974.6,797.8 975.5,793.5 976.3,789.6 977.2,785.7 978.1,781.9 979,778.1 979.9,774.5 980.7,771.1 981.6,767.9 982.5,765 983.4,762.4 984.3,760.2 985.1,758.4 986,756.9 986.9,755.4 987.8,754 988.7,752.8 989.5,751.6 990.4,750.5 991.3,749.4 992.2,748.5 993.1,747.5 993.9,746.6 994.8,745.7 995.7,744.9 996.6,744 997.5,743.2 998.3,742.3 999.2,741.4 1000.1,740.5 1001,739.5 1001.9,738.4 1002.7,737.2 1003.6,736.1 1004.5,735 1005.4,733.9 1006.3,733 1007.1,732.3 1008,731.7 1008.9,731.4 1009.8,731.4 1010.7,731.6 1011.5,732 1012.4,732.6 1013.3,733.4 1014.2,734.2 1015.1,735.2 1015.9,736.2 1016.8,737.4 1017.7,738.5 1018.6,739.7 1019.5,740.8 1020.3,741.9 1021.2,743 1022.1,744 1023,745.1 1023.9,746.4 1024.7,747.7 1025.6,749.2 1026.5,750.7 1027.4,752.2 1028.3,753.8 1029.1,755.4 1030,756.9 1030.9,758.5 1031.8,759.9 1032.7,761.4 1033.5,762.7 1034.4,763.9 1035.3,765 1036.2,766 1037.1,766.7 1037.9,767.3 1038.8,767.7 1039.7,767.9 1040.6,767.9 1041.5,767.5 1042.3,767 1043.2,766.2 1044.1,765.3 1045,764.2 1045.9,763 1046.7,761.7 1047.6,760.4 1048.5,759 1049.4,757.6 1050.3,756.2 1051.1,754.8 1052,753.5 1052.9,752.3 1053.8,751.3 1054.7,750.3 1055.5,749.6 1056.4,748.9 1057.3,748.1 1058.2,747.4 1059.1,746.6 1059.9,745.9 1060.8,745.2 1061.7,744.5 1062.6,743.8 1063.5,743.2 1064.3,742.6 1065.2,742.1 1066.1,741.6 1067,741.2 1067.9,740.9 1068.7,740.7 1069.6,740.5 1070.5,740.5 1071.4,740.6 1072.3,740.9 1073.1,741.4 1074,742 1074.9,742.8 1075.8,743.7 1076.7,744.7 1077.5,745.7 1078.4,746.9 1079.3,748 1080.2,749.2 1081.1,750.4 1081.9,751.5 1082.8,752.6 1083.7,753.6 1084.6,754.6 1085.5,755.4 1086.3,756.2 1087.2,756.9 1088.1,757.7 1089,758.5 1089.9,759.4 1090.7,760.2 1091.6,761 1092.5,761.8 1093.4,762.6 1094.3,763.3 1095.1,764 1096,764.6 1096.9,765.1 1097.8,765.6 1098.7,766 1099.5,766.3 1100.4,766.5 1101.3,766.5 1102.2,766.4 1103.1,766.2 1103.9,765.7 1104.8,765.2 1105.7,764.4 1106.6,763.6 1107.5,762.7 1108.3,761.6 1109.2,760.5 1110.1,759.3 1111,758.1 1111.9,756.8 1112.7,755.5 1113.6,754.1 1114.5,752.8 1115.4,751.4 1116.3,750.1 1117.1,748.7 1118,747.3 1118.9,745.6 1119.8,743.9 1120.7,742 1121.5,740.1 1122.4,738 1123.3,735.9 1124.2,733.7 1125.1,731.5 1125.9,729.3 1126.8,727 1127.7,724.7 1128.6,722.4 1129.5,720.1 1130.3,717.8 1131.2,715.6 1132.1,713.4 1133,711.3 1133.9,709.2 1134.7,707.2 1135.6,705.3 1136.5,703.4 1137.4,701.5 1138.3,699.5 1139.1,697.5 1140,695.6 1140.9,693.6 1141.8,691.6 1142.7,689.7 1143.5,687.8 1144.4,685.9 1145.3,684.1 1146.2,682.3 1147.1,680.5 1147.9,678.8 1148.8,677.2 1149.7,675.6 1150.6,674.1 1151.5,672.6 1152.3,671.3 1153.2,670 1154.1,668.8 1155,667.7 1155.9,666.6 1156.7,665.6 1157.6,664.6 1158.5,663.6 1159.4,662.7 1160.3,661.8 1161.1,660.9 1162,660.1 1162.9,659.3 1163.8,658.5 1164.7,657.6 1165.5,656.8 1166.4,655.9 1167.3,655 1168.2,654.2 1169.1,653.5 1169.9,652.9 1170.8,652.3 1171.7,651.9 1172.6,651.7 1173.5,651.7 1174.3,651.8 1175.2,652 1176.1,652.4 1177,653 1177.9,653.6 1178.7,654.4 1179.6,655.3 1180.5,656.2 1181.4,657.3 1182.3,658.5 1183.1,659.7 1184,661 1184.9,662.4 1185.8,663.9 1186.7,665.4 1187.5,667.4 1188.4,670.1 1189.3,673.3 1190.2,677 1191.1,681.1 1191.9,685.5 1192.8,690 1193.7,694.7 1194.6,699.4 1195.5,704.1 1196.3,709.2 1197.2,714.9 1198.1,720.9 1199,727.2 1199.9,733.7 1200.7,740.1 1201.6,746.4 1202.5,752.4 1203.4,757.9 1204.3,762.9 1205.1,767.7 1206,772.5 1206.9,777.3 1207.8,782 1208.7,786.5 1209.5,791 1210.4,795.2 1211.3,799.2 1212.2,802.9 1213.1,806.4 1213.9,809.5 1214.8,812.2 1215.7,814.6 1216.6,816.7 1217.5,818.8 1218.3,820.8 1219.2,822.8 1220.1,824.8 1221,826.6 1221.9,828.4 1222.7,830.1 1223.6,831.6 1224.5,833.1 1225.4,834.3 1226.3,835.4 1227.1,836.4 1228,837.1 1228.9,837.6 1229.8,837.9 1230.7,838 1231.5,837.7 1232.4,837 1233.3,835.9 1234.2,834.6 1235.1,833 1235.9,831.1 1236.8,829.1 1237.7,827 1238.6,824.7 1239.5,822.4 1240.3,820.1 1241.2,817.8 1242.1,815.5 1243,813.4 1243.9,811.4 1244.7,809.5 1245.6,807.9 1246.5,806.2 1247.4,804.4 1248.3,802.5 1249.1,800.6 1250,798.6 1250.9,796.6 1251.8,794.7 1252.7,792.8 1253.5,790.9 1254.4,789.1 1255.3,787.3 1256.2,785.7 1257.1,784.3 1257.9,782.9 1258.8,781.8 1259.7,780.8 1260.6,780.1 1261.5,779.5 1262.3,779.3 1263.2,779.3 1264.1,779.4 1265,779.8 1265.9,780.3 1266.7,781 1267.6,781.8 1268.5,782.8 1269.4,783.8 1270.3,785 1271.1,786.3 1272,787.6 1272.9,789 1273.8,790.5 1274.7,792 1275.5,793.6 1276.4,795.2 1277.3,796.8 1278.2,798.7 1279.1,801.2 1279.9,804.2 1280.8,807.5 1281.7,811.1 1282.6,814.9 1283.5,818.7 1284.3,822.5 1285.2,826.2 1286.1,829.6 1287,832.6 1287.9,835.2 1288.7,837.2 1289.6,838.7 1290.5,840 1291.4,841.3 1292.3,842.6 1293.1,843.8 1294,844.9 1294.9,846 1295.8,846.9 1296.7,847.7 1297.5,848.4 1298.4,849 1299.3,849.4 1300.2,849.6 1301.1,849.7 1301.9,849.4 1302.8,848.9 1303.7,848.1 1304.6,847.1 1305.5,845.9 1306.3,844.5 1307.2,842.9 1308.1,841.2 1309,839.5 1309.9,837.6 1310.7,835.8 1311.6,833.9 1312.5,832.1 1313.4,830.3 1314.3,828.6 1315.1,827 1316,825.5 1316.9,823.9 1317.8,822.2 1318.7,820.4 1319.5,818.6 1320.4,816.6 1321.3,814.6 1322.2,812.6 1323.1,810.6 1323.9,808.6 1324.8,806.6 1325.7,804.6 1326.6,802.7 1327.5,800.9 1328.3,799.2 1329.2,797.6 1330.1,796.1 1331,794.8 1331.9,793.6 1332.7,792.7 1333.6,791.9 1334.5,791.3 1335.4,791 1336.3,790.9 1337.1,791.2 1338,791.6 1338.9,792.3 1339.8,793.2 1340.7,794.3 1341.5,795.6 1342.4,797 1343.3,798.6 1344.2,800.3 1345.1,802.1 1345.9,803.9 1346.8,805.8 1347.7,807.8 1348.6,809.7 1349.5,811.7 1350.3,813.6 1351.2,815.5 1352.1,817.7 1353,820 1353.9,822.6 1354.7,825.3 1355.6,828.2 1356.5,831.1 1357.4,834.2 1358.3,837.3 1359.1,840.5 1360,843.7 1360.9,846.8 1361.8,849.9 1362.7,853 1363.5,855.9 1364.4,858.7 1365.3,861.4 1366.2,864 1367.1,866.6 1367.9,869.2 1368.8,871.8 1369.7,874.5 1370.6,877.1 1371.5,879.7 1372.3,882.2 1373.2,884.8 1374.1,887.3 1375,889.7 1375.9,892.1 1376.7,894.4 1377.6,896.7 1378.5,898.9 1379.4,901 1380.3,903 1381.1,904.9 1382,906.7 1382.9,908.4 1383.8,910.1 1384.7,911.9 1385.5,913.6 1386.4,915.4 1387.3,917.1 1388.2,918.8 1389.1,920.4 1389.9,921.8 1390.8,923.1 1391.7,924.2 1392.6,925 1393.5,925.6 1394.3,926 1395.2,926 1396.1,925.7 1397,925.2 1397.9,924.5 1398.7,923.6 1399.6,922.6 1400.5,921.3 1401.4,919.9 1402.3,918.3 1403.1,916.7 1404,914.9 1404.9,913 1405.8,911 1406.7,909 1407.5,906.9 1408.4,904.7 1409.3,902.6 1410.2,900.1 1411.1,897.1 1411.9,893.7 1412.8,889.8 1413.7,885.5 1414.6,880.9 1415.5,876.1 1416.3,871 1417.2,865.8 1418.1,860.5 1419,855.1 1419.9,849.8 1420.7,844.5 1421.6,839.4 1422.5,834.4 1423.4,829.6 1424.3,825.2 1425.1,820.7 1426,816 1426.9,811.3 1427.8,806.5 1428.7,801.6 1429.5,796.8 1430.4,792 1431.3,787.3 1432.2,782.7 1433.1,778.3 1433.9,774.1 1434.8,770.1 1435.7,766.3 1436.6,762.9 1437.5,759.8 1438.3,757 1439.2,754.7 1440.1,752.3 1441,750 1441.9,747.7 1442.7,745.5 1443.6,743.3 1444.5,741.2 1445.4,739.2 1446.3,737.4 1447.1,735.6 1448,734.1 1448.9,732.7 1449.8,731.6 1450.7,730.6 1451.5,729.9 1452.4,729.5 1453.3,729.4 1454.2,729.5 1455.1,729.8 1455.9,730.3 1456.8,730.9 1457.7,731.7 1458.6,732.6 1459.5,733.7 1460.3,734.9 1461.2,736.1 1462.1,737.4 1463,738.8 1463.9,740.2 1464.7,741.6 1465.6,743.1 1466.5,744.5 1467.4,745.9 1468.3,747.3 1469.1,748.9 1470,750.8 1470.9,753 1471.8,755.3 1472.7,757.8 1473.5,760.4 1474.4,763 1475.3,765.6 1476.2,768.1 1477.1,770.5 1477.9,772.7 1478.8,774.7 1479.7,776.4 1480.6,777.7 1481.5,778.7 1482.3,779.2 1483.2,779.2 1484.1,779.1 1485,778.8 1485.9,778.5 1486.7,778 1487.6,777.5 1488.5,776.9 1489.4,776.1 1490.3,775.4 1491.1,774.5 1492,773.6 1492.9,772.7 1493.8,771.7 1494.7,770.7 1495.5,769.6 1496.4,768.6 1497.3,767.5 1498.2,766.3 1499.1,764.8 1499.9,762.9 1500.8,760.9 1501.7,758.7 1502.6,756.3 1503.5,753.8 1504.3,751.3 1505.2,748.7 1506.1,746.1 1507,743.6 1507.9,741.2 1508.7,739 1509.6,736.9 1510.5,735 1511.4,733.4 1512.3,732.1 1513.1,730.8 1514,729.6 1514.9,728.4 1515.8,727.2 1516.7,726 1517.5,724.9 1518.4,723.9 1519.3,723 1520.2,722.2 1521.1,721.6 1521.9,721.1 1522.8,720.8 1523.7,720.7 1524.6,720.8 1525.5,721.2 1526.3,721.8 1527.2,722.5 1528.1,723.5 1529,724.6 1529.9,725.9 1530.7,727.3 1531.6,728.8 1532.5,730.3 1533.4,732 1534.3,733.7 1535.1,735.4 1536,737.2 1536.9,738.9 1537.8,740.6 1538.7,742.3 1539.5,743.9 1540.4,745.5 1541.3,746.9 1542.2,748.4 1543.1,750 1543.9,751.7 1544.8,753.6 1545.7,755.4 1546.6,757.4 1547.5,759.3 1548.3,761.3 1549.2,763.2 1550.1,765.1 1551,767 1551.9,768.7 1552.7,770.3 1553.6,771.8 1554.5,773.1 1555.4,774.2 1556.3,775.1 1557.1,775.8 1558,776.3 1558.9,776.4 1559.8,776.3 1560.7,775.9 1561.5,775.3 1562.4,774.6 1563.3,773.6 1564.2,772.5 1565.1,771.3 1565.9,770 1566.8,768.5 1567.7,767.1 1568.6,765.5 1569.5,764 1570.3,762.4 1571.2,760.9 1572.1,759.1 1573,757 1573.9,754.8 1574.7,752.4 1575.6,749.8 1576.5,747 1577.4,744.2 1578.3,741.2 1579.1,738.2 1580,735.2 1580.9,732.2 1581.8,729.1 1582.7,726.1 1583.5,723.2 1584.4,720.4 1585.3,717.7 1586.2,715 1587.1,712.2 1587.9,709.4 1588.8,706.6 1589.7,703.7 1590.6,700.9 1591.5,698 1592.3,695.2 1593.2,692.4 1594.1,689.6 1595,687 1595.9,684.4 1596.7,681.9 1597.6,679.5 1598.5,677.2 1599.4,675.1 1600.3,673.2 1601.1,671.2 1602,669.2 1602.9,667.2 1603.8,665.2 1604.7,663.2 1605.5,661.1 1606.4,659.1 1607.3,657.2 1608.2,655.3 1609.1,653.5 1609.9,651.7 1610.8,650 1611.7,648.5 1612.6,647 1613.5,645.7 1614.3,644.5 1615.2,643.5 1616.1,642.6 1617,642 1617.9,641.5 1618.7,641.2 1619.6,641.2 1620.5,641.3 1621.4,641.5 1622.3,641.9 1623.1,642.4 1624,643 1624.9,643.7 1625.8,644.6 1626.7,645.5 1627.5,646.5 1628.4,647.7 1629.3,648.9 1630.2,650.2 1631.1,651.5 1631.9,653 1632.8,654.5 1633.7,656.8 1634.6,659.9 1635.5,663.9 1636.3,668.5 1637.2,673.6 1638.1,679.1 1639,684.8 1639.9,690.7 1640.7,696.5 1641.6,702.1 1642.5,707.5 1643.4,713.1 1644.3,719.2 1645.1,725.5 1646,732 1646.9,738.6 1647.8,745.1 1648.7,751.4 1649.5,757.4 1650.4,762.9 1651.3,767.9 1652.2,772.2 1653.1,776.2 1653.9,780.1 1654.8,783.8 1655.7,787.4 1656.6,790.9 1657.5,794.2 1658.3,797.4 1659.2,800.4 1660.1,803.3 1661,806.1 1661.9,808.7 1662.7,811.1 1663.6,813.4 1664.5,815.6 1665.4,817.6 1666.3,819.6 1667.1,821.7 1668,823.7 1668.9,825.7 1669.8,827.7 1670.7,829.6 1671.5,831.4 1672.4,833.2 1673.3,834.8 1674.2,836.3 1675.1,837.6 1675.9,838.7 1676.8,839.6 1677.7,840.3 1678.6,840.8 1679.5,841 1680.3,840.9 1681.2,840.5 1682.1,839.8 1683,838.8 1683.9,837.6 1684.7,836.1 1685.6,834.5 1686.5,832.8 1687.4,830.9 1688.3,829 1689.1,827.1 1690,825.1 1690.9,823.1 1691.8,821.2 1692.7,819.4 1693.5,817.7 1694.4,816.2 1695.3,814.6 1696.2,812.8 1697.1,810.9 1697.9,808.9 1698.8,806.9 1699.7,804.9 1700.6,802.9 1701.5,801.1 1702.3,799.4 1703.2,797.8 1704.1,796.5 1705,795.4 1705.9,794.6 1706.7,794.1 1707.6,794 1708.5,794 1709.4,794.2 1710.3,794.4 1711.1,794.6 1712,794.9 1712.9,795.3 1713.8,795.8 1714.7,796.3 1715.5,796.8 1716.4,797.4 1717.3,798 1718.2,798.7 1719.1,799.3 1719.9,800.1 1720.8,800.9 1721.7,802.2 1722.6,803.9 1723.5,806.1 1724.3,808.5 1725.2,811.3 1726.1,814.2 1727,817.2 1727.9,820.3 1728.7,823.4 1729.6,826.3 1730.5,829.1 1731.4,831.7 1732.3,833.9 1733.1,835.8 1734,837.3 1734.9,838.9 1735.8,840.4 1736.7,842 1737.5,843.5 1738.4,844.9 1739.3,846.3 1740.2,847.6 1741.1,848.8 1741.9,849.9 1742.8,850.8 1743.7,851.5 1744.6,852 1745.5,852.4 1746.3,852.5 1747.2,852.4 1748.1,851.9 1749,851.3 1749.9,850.4 1750.7,849.2 1751.6,848 1752.5,846.5 1753.4,844.9 1754.3,843.2 1755.1,841.5 1756,839.6 1756.9,837.8 1757.8,835.9 1758.7,834 1759.5,832.2 1760.4,830.4 1761.3,828.8 1762.2,827.2 1763.1,825.7 1763.9,824.2 1764.8,822.5 1765.7,820.8 1766.6,818.9 1767.5,817 1768.3,815.1 1769.2,813.2 1770.1,811.2 1771,809.3 1771.9,807.4 1772.7,805.6 1773.6,803.8 1774.5,802.1 1775.4,800.5 1776.3,799.1 1777.1,797.8 1778,796.6 1778.9,795.7 1779.8,794.9 1780.7,794.4 1781.5,794 1782.4,794 1783.3,794.1 1784.2,794.3 1785.1,794.6 1785.9,795.1 1786.8,795.6 1787.7,796.2 1788.6,796.9 1789.5,797.7 1790.3,798.5 1791.2,799.4 1792.1,800.3 1793,801.2 1793.9,802.2 1794.7,803.2 1795.6,804.2 1796.5,805.4 1797.4,806.8 1798.3,808.3 1799.1,810 1800,811.9 1800.9,813.9 1801.8,816 1802.7,818.3 1803.5,820.6 1804.4,823 1805.3,825.4 1806.2,827.9 1807.1,830.4 1807.9,832.9 1808.8,835.3 1809.7,837.8 1810.6,840.2 1811.5,842.6 1812.3,845 1813.2,847.5 1814.1,850.1 1815,852.8 1815.9,855.5 1816.7,858.3 1817.6,861.1 1818.5,864 1819.4,866.8 1820.3,869.7 1821.1,872.5 1822,875.3 1822.9,878 1823.8,880.7 1824.7,883.2 1825.5,885.7 1826.4,888.1 1827.3,890.4 1828.2,892.6 1829.1,894.8 1829.9,897.1 1830.8,899.4 1831.7,901.8 1832.6,904.2 1833.5,906.5 1834.3,908.9 1835.2,911.3 1836.1,913.5 1837,915.7 1837.9,917.9 1838.7,919.9 1839.6,921.8 1840.5,923.5 1841.4,925.1 1842.3,926.5 1843.1,927.8 1844,928.8 1844.9,929.6 1845.8,930.1 1846.7,930.4 1847.5,930.4 1848.4,930.1 1849.3,929.6 1850.2,928.8 1851.1,927.8 1851.9,926.5 1852.8,925.1 1853.7,923.5 1854.6,921.7 1855.5,919.8 1856.3,917.8 1857.2,915.7 1858.1,913.5 1859,911.2 1859.9,908.8 1860.7,906.3 1861.6,903.1 1862.5,899 1863.4,894.3 1864.3,889.1 1865.1,883.3 1866,877.2 1866.9,870.9 1867.8,864.4 1868.7,857.8 1869.5,851.3 1870.4,844.9 1871.3,838.8 1872.2,833 1873.1,827.7 1873.9,822.8 1874.8,817.7 1875.7,812.6 1876.6,807.4 1877.5,802.3 1878.3,797.2 1879.2,792.2 1880.1,787.4 1881,782.8 1881.9,778.3 1882.7,774.2 1883.6,770.4 1884.5,767 1885.4,764 1886.3,761.5 1887.1,759.2 1888,756.9 1888.9,754.7 1889.8,752.5 1890.7,750.3 1891.5,748.2 1892.4,746.2 1893.3,744.2 1894.2,742.3 1895.1,740.5 1895.9,738.8 1896.8,737.2 1897.7,735.7 1898.6,734.3 1899.5,733.1 1900.3,732 1901.2,731 1902.1,730.2 1903,729.6 1903.9,729.1 1904.7,728.9 1905.6,728.8 1906.5,728.9 1907.4,729.3 1908.3,730 1909.1,730.8 1910,731.9 1910.9,733.2 1911.8,734.6 1912.7,736.2 1913.5,737.8 1914.4,739.6 1915.3,741.5 1916.2,743.4 1917.1,745.4 1917.9,747.3 1918.8,749.3 1919.7,751.2 1920.6,753.1 1921.5,755 1922.3,756.7 1923.2,758.3 1924.1,759.8 1925,761.2 1925.9,762.4 1926.7,763.7 1927.6,765.1 1928.5,766.4 1929.4,767.8 1930.3,769.2 1931.1,770.6 1932,772 1932.9,773.3 1933.8,774.6 1934.7,775.8 1935.5,776.9 1936.4,777.9 1937.3,778.8 1938.2,779.5 1939.1,780.1 1939.9,780.5 1940.8,780.8 1941.7,780.8 1942.6,780.4 1943.5,779.5 1944.3,778.1 1945.2,776.3 1946.1,774.2 1947,771.7 1947.9,769 1948.7,766.2 1949.6,763.2 1950.5,760.1 1951.4,757 1952.3,753.9 1953.1,750.9 1954,748 1954.9,745.4 1955.8,742.9 1956.7,740.8 1957.5,739 1958.4,737.5 1959.3,736 1960.2,734.5 1961.1,733 1961.9,731.4 1962.8,730 1963.7,728.6 1964.6,727.3 1965.5,726.1 1966.3,725 1967.2,724.1 1968.1,723.3 1969,722.8 1969.9,722.4 1970.7,722.3 1971.6,722.4 1972.5,722.8 1973.4,723.3 1974.3,724.1 1975.1,725 1976,726.1 1976.9,727.3 1977.8,728.7 1978.7,730.1 1979.5,731.7 1980.4,733.3 1981.3,735 1982.2,736.7 1983.1,738.4 1983.9,740.2 1984.8,741.9 1985.7,743.7 1986.6,745.3 1987.5,746.9 1988.3,748.5 1989.2,749.9 1990.1,751.3 1991,752.5 1991.9,753.9 1992.7,755.3 1993.6,756.8 1994.5,758.3 1995.4,759.8 1996.3,761.4 1997.1,762.9 1998,764.5 1998.9,766 1999.8,767.5 2000.7,768.9 2001.5,770.3 2002.4,771.6 2003.3,772.8 2004.2,773.9 2005.1,774.9 2005.9,775.8 2006.8,776.5 2007.7,777 2008.6,777.4 2009.5,777.6 2010.3,777.6 2011.2,777.4 2012.1,776.9 2013,776.3 2013.9,775.5 2014.7,774.6 2015.6,773.5 2016.5,772.3 2017.4,771 2018.3,769.6 2019.1,768.1 2020,766.6 2020.9,765 2021.8,763.4 2022.7,761.9 2023.5,760.2 2024.4,758.2 2025.3,756 2026.2,753.5 2027.1,750.7 2027.9,747.8 2028.8,744.7 2029.7,741.5 2030.6,738.1 2031.5,734.7 2032.3,731.2 2033.2,727.8 2034.1,724.3 2035,720.9 2035.9,717.5 2036.7,714.3 2037.6,711.2 2038.5,708.2 2039.4,705.5 2040.3,702.7 2041.1,700 2042,697.2 2042.9,694.4 2043.8,691.6 2044.7,688.9 2045.5,686.1 2046.4,683.4 2047.3,680.7 2048.2,678.2 2049.1,675.6 2049.9,673.2 2050.8,670.8 2051.7,668.6 2052.6,666.5 2053.5,664.5 2054.3,662.6 2055.2,660.9 2056.1,659.3 2057,657.7 2057.9,656.1 2058.7,654.4 2059.6,652.8 2060.5,651.3 2061.4,649.7 2062.3,648.3 2063.1,646.9 2064,645.6 2064.9,644.5 2065.8,643.5 2066.7,642.7 2067.5,642 2068.4,641.5 2069.3,641.2 2070.2,641.2 2071.1,641.4 2071.9,641.8 2072.8,642.6 2073.7,643.5 2074.6,644.6 2075.5,645.9 2076.3,647.4 2077.2,648.9 2078.1,650.6 2079,652.3 2079.9,654.1 2080.7,655.9 2081.6,657.8 2082.5,659.9 2083.4,662.5 2084.3,665.5 2085.1,668.8 2086,672.4 2086.9,676.2 2087.8,680.1 2088.7,684.2 2089.5,688.3 2090.4,692.4 2091.3,696.4 2092.2,700.3 2093.1,704.1 2093.9,707.7"/><polyline fill="none" stroke="#f00" stroke-width="10.5" stroke-linejoin="round" points="291.7,768.8 292.6,768.4 293.5,768 294.3,767.6 295.2,767.2 296.1,766.7 297,766.2 297.9,765.8 298.7,765.3 299.6,764.8 300.5,764.3 301.4,763.8 302.3,763.3 303.1,762.8 304,762.3 304.9,761.8 305.8,761.3 306.7,760.9 307.5,760.4 308.4,759.9 309.3,759.5 310.2,759.1 311.1,758.6 311.9,758.2 312.8,757.8 313.7,757.4 314.6,757 315.5,756.5 316.3,756.1 317.2,755.7 318.1,755.3 319,754.9 319.9,754.5 320.7,754.1 321.6,753.7 322.5,753.4 323.4,753 324.3,752.6 325.1,752.3 326,751.9 326.9,751.6 327.8,751.2 328.7,750.9 329.5,750.6 330.4,750.3 331.3,750 332.2,749.7 333.1,749.4 333.9,749.2 334.8,748.9 335.7,748.7 336.6,748.5 337.5,748.3 338.3,748.1 339.2,747.9 340.1,747.7 341,747.5 341.9,747.4 342.7,747.2 343.6,747 344.5,746.8 345.4,746.7 346.3,746.5 347.1,746.3 348,746.1 348.9,745.9 349.8,745.7 350.7,745.4 351.5,745.2 352.4,744.9 353.3,744.7 354.2,744.4 355.1,744.1 355.9,743.8 356.8,743.4 357.7,743 358.6,742.5 359.5,742 360.3,741.4 361.2,740.8 362.1,740.1 363,739.4 363.9,738.6 364.7,737.9 365.6,737.1 366.5,736.3 367.4,735.5 368.3,734.6 369.1,733.8 370,733 370.9,732.2 371.8,731.4 372.7,730.6 373.5,729.7 374.4,728.7 375.3,727.7 376.2,726.7 377.1,725.7 377.9,724.6 378.8,723.5 379.7,722.5 380.6,721.5 381.5,720.5 382.3,719.6 383.2,718.8 384.1,718 385,717.3 385.9,716.7 386.7,716.2 387.6,715.9 388.5,715.5 389.4,715.2 390.3,714.9 391.1,714.6 392,714.3 392.9,714 393.8,713.8 394.7,713.6 395.5,713.4 396.4,713.2 397.3,713.1 398.2,713.1 399.1,713 399.9,713 400.8,713.2 401.7,713.4 402.6,713.6 403.5,714 404.3,714.4 405.2,714.9 406.1,715.4 407,716 407.9,716.6 408.7,717.2 409.6,717.9 410.5,718.6 411.4,719.3 412.3,720.1 413.1,720.8 414,721.6 414.9,722.3 415.8,723.1 416.7,723.9 417.5,724.9 418.4,725.9 419.3,726.9 420.2,728 421.1,729.2 421.9,730.4 422.8,731.7 423.7,733 424.6,734.3 425.5,735.7 426.3,737.2 427.2,738.6 428.1,740.1 429,741.6 429.9,743.1 430.7,744.7 431.6,746.5 432.5,748.5 433.4,750.6 434.3,752.7 435.1,755 436,757.3 436.9,759.6 437.8,761.8 438.7,764 439.5,766 440.4,767.9 441.3,769.6 442.2,771.2 443.1,772.5 443.9,773.9 444.8,775.2 445.7,776.4 446.6,777.7 447.5,778.8 448.3,780 449.2,781.1 450.1,782.2 451,783.2 451.9,784.2 452.7,785.1 453.6,786 454.5,786.9 455.4,787.7 456.3,788.4 457.1,789.2 458,789.9 458.9,790.6 459.8,791.3 460.7,792 461.5,792.7 462.4,793.4 463.3,794.1 464.2,794.8 465.1,795.4 465.9,796.1 466.8,796.7 467.7,797.3 468.6,797.9 469.5,798.4 470.3,799 471.2,799.4 472.1,799.9 473,800.3 473.9,800.6 474.7,800.9 475.6,801.2 476.5,801.4 477.4,801.5 478.3,801.6 479.1,801.6 480,801.6 480.9,801.6 481.8,801.6 482.7,801.6 483.5,801.5 484.4,801.5 485.3,801.4 486.2,801.3 487.1,801.3 487.9,801.2 488.8,801.1 489.7,801.1 490.6,801 491.5,800.9 492.3,800.8 493.2,800.8 494.1,800.7 495,800.6 495.9,800.5 496.7,800.5 497.6,800.4 498.5,800.4 499.4,800.3 500.3,800.3 501.1,800.3 502,800.2 502.9,800.2 503.8,800.2 504.7,800.3 505.5,800.4 506.4,800.5 507.3,800.7 508.2,800.9 509.1,801.1 509.9,801.4 510.8,801.7 511.7,802 512.6,802.3 513.5,802.7 514.3,803 515.2,803.4 516.1,803.8 517,804.2 517.9,804.7 518.7,805.1 519.6,805.5 520.5,805.9 521.4,806.3 522.3,806.7 523.1,807.1 524,807.5 524.9,807.9 525.8,808.3 526.7,808.7 527.5,809.1 528.4,809.5 529.3,810 530.2,810.4 531.1,810.9 531.9,811.4 532.8,811.9 533.7,812.4 534.6,812.9 535.5,813.4 536.3,813.9 537.2,814.4 538.1,814.9 539,815.4 539.9,815.8 540.7,816.3 541.6,816.8 542.5,817.2 543.4,817.7 544.3,818.1 545.1,818.5 546,818.8 546.9,819.2 547.8,819.5 548.7,819.8 549.5,820.1 550.4,820.3 551.3,820.6 552.2,820.8 553.1,821 553.9,821.2 554.8,821.4 555.7,821.6 556.6,821.7 557.5,821.9 558.3,822 559.2,822.2 560.1,822.3 561,822.5 561.9,822.6 562.7,822.8 563.6,822.9 564.5,823 565.4,823.2 566.3,823.3 567.1,823.4 568,823.6 568.9,823.7 569.8,823.9 570.7,824 571.5,824.2 572.4,824.4 573.3,824.5 574.2,824.7 575.1,824.9 575.9,825.1 576.8,825.4 577.7,825.6 578.6,825.9 579.5,826.1 580.3,826.4 581.2,826.7 582.1,827.1 583,827.5 583.9,827.9 584.7,828.3 585.6,828.8 586.5,829.3 587.4,829.8 588.3,830.3 589.1,830.9 590,831.5 590.9,832.1 591.8,832.7 592.7,833.3 593.5,834 594.4,834.7 595.3,835.4 596.2,836.1 597.1,837 597.9,838 598.8,839 599.7,840.1 600.6,841.3 601.5,842.5 602.3,843.8 603.2,845 604.1,846.3 605,847.5 605.9,848.7 606.7,849.8 607.6,850.8 608.5,851.8 609.4,852.7 610.3,853.4 611.1,854 612,854.7 612.9,855.3 613.8,855.9 614.7,856.5 615.5,857.1 616.4,857.6 617.3,858.1 618.2,858.6 619.1,859 619.9,859.3 620.8,859.5 621.7,859.7 622.6,859.8 623.5,859.8 624.3,859.7 625.2,859.6 626.1,859.4 627,859.2 627.9,858.9 628.7,858.6 629.6,858.2 630.5,857.8 631.4,857.4 632.3,856.9 633.1,856.4 634,855.9 634.9,855.4 635.8,854.8 636.7,854.2 637.5,853.5 638.4,852.9 639.3,852.2 640.2,851.6 641.1,850.9 641.9,850.1 642.8,849.2 643.7,848.1 644.6,846.8 645.5,845.4 646.3,843.9 647.2,842.3 648.1,840.5 649,838.7 649.9,836.9 650.7,835 651.6,833.1 652.5,831.2 653.4,829.3 654.3,827.5 655.1,825.6 656,823.9 656.9,822.2 657.8,820.4 658.7,818.6 659.5,816.7 660.4,814.8 661.3,812.9 662.2,810.9 663.1,808.9 663.9,807 664.8,805.1 665.7,803.2 666.6,801.4 667.5,799.6 668.3,798 669.2,796.4 670.1,795 671,793.7 671.9,792.6 672.7,791.5 673.6,790.4 674.5,789.4 675.4,788.3 676.3,787.3 677.1,786.3 678,785.3 678.9,784.4 679.8,783.5 680.7,782.6 681.5,781.7 682.4,780.8 683.3,780 684.2,779.3 685.1,778.6 685.9,777.9 686.8,777.2 687.7,776.7 688.6,776.1 689.5,775.6 690.3,775.2 691.2,774.8 692.1,774.5 693,774.2 693.9,774 694.7,773.8 695.6,773.7 696.5,773.5 697.4,773.3 698.3,773.2 699.1,773.1 700,772.9 700.9,772.8 701.8,772.7 702.7,772.6 703.5,772.5 704.4,772.4 705.3,772.3 706.2,772.2 707.1,772.1 707.9,772 708.8,771.9 709.7,771.8 710.6,771.7 711.5,771.6 712.3,771.5 713.2,771.4 714.1,771.3 715,771.1 715.9,771 716.7,770.8 717.6,770.6 718.5,770.4 719.4,770.2 720.3,770 721.1,769.8 722,769.6 722.9,769.4 723.8,769.2 724.7,769 725.5,768.8 726.4,768.6 727.3,768.5 728.2,768.3 729.1,768.2 729.9,768.1 730.8,768 731.7,768 732.6,767.9 733.5,767.9 734.3,768.1 735.2,768.3 736.1,768.6 737,768.9 737.9,769.2 738.7,769.4 739.6,769.5 740.5,769.5 741.4,769.5 742.3,769.3 743.1,769.2 744,768.9 744.9,768.6 745.8,768.3 746.7,767.9 747.5,767.5 748.4,767.1 749.3,766.6 750.2,766 751.1,765.5 751.9,764.9 752.8,764.3 753.7,763.7 754.6,763.1 755.5,762.4 756.3,761.8 757.2,761.1 758.1,760.5 759,759.8 759.9,759.1 760.7,758.5 761.6,757.9 762.5,757.3 763.4,756.6 764.3,756.1 765.1,755.5 766,755 766.9,754.5 767.8,754 768.7,753.6 769.5,753.2 770.4,752.9 771.3,752.6 772.2,752.3 773.1,752 773.9,751.7 774.8,751.5 775.7,751.2 776.6,751 777.5,750.8 778.3,750.5 779.2,750.3 780.1,750.1 781,749.9 781.9,749.7 782.7,749.6 783.6,749.4 784.5,749.2 785.4,749 786.3,748.8 787.1,748.7 788,748.5 788.9,748.3 789.8,748.2 790.7,748 791.5,747.8 792.4,747.6 793.3,747.4 794.2,747.3 795.1,747.1 795.9,746.9 796.8,746.7 797.7,746.5 798.6,746.2 799.5,746 800.3,745.8 801.2,745.5 802.1,745.3 803,745 803.9,744.7 804.7,744.5 805.6,744.1 806.5,743.8 807.4,743.5 808.3,743.1 809.1,742.7 810,742.3 810.9,741.9 811.8,741.4 812.7,740.9 813.5,740.3 814.4,739.7 815.3,739.2 816.2,738.6 817.1,737.9 817.9,737.3 818.8,736.6 819.7,736 820.6,735.3 821.5,734.6 822.3,733.9 823.2,733.3 824.1,732.6 825,731.9 825.9,731.2 826.7,730.5 827.6,729.7 828.5,728.8 829.4,727.8 830.3,726.8 831.1,725.8 832,724.7 832.9,723.7 833.8,722.6 834.7,721.5 835.5,720.4 836.4,719.3 837.3,718.3 838.2,717.3 839.1,716.3 839.9,715.4 840.8,714.6 841.7,713.8 842.6,713.2 843.5,712.6 844.3,712.1 845.2,711.8 846.1,711.5 847,711.4 847.9,711.4 848.7,711.5 849.6,711.6 850.5,711.7 851.4,711.8 852.3,712 853.1,712.3 854,712.5 854.9,712.8 855.8,713.1 856.7,713.5 857.5,713.8 858.4,714.2 859.3,714.6 860.2,715 861.1,715.4 861.9,715.8 862.8,716.3 863.7,716.9 864.6,717.6 865.5,718.4 866.3,719.3 867.2,720.3 868.1,721.4 869,722.6 869.9,723.8 870.7,725.1 871.6,726.5 872.5,727.9 873.4,729.3 874.3,730.7 875.1,732.1 876,733.8 876.9,735.6 877.8,737.6 878.7,739.7 879.5,742 880.4,744.3 881.3,746.7 882.2,749.1 883.1,751.5 883.9,753.9 884.8,756.3 885.7,758.6 886.6,760.8 887.5,762.8 888.3,764.7 889.2,766.4 890.1,767.9 891,769.3 891.9,770.7 892.7,772 893.6,773.3 894.5,774.5 895.4,775.8 896.3,777 897.1,778.1 898,779.3 898.9,780.4 899.8,781.5 900.7,782.5 901.5,783.5 902.4,784.5 903.3,785.4 904.2,786.3 905.1,787.2 905.9,788.1 906.8,788.9 907.7,789.7 908.6,790.4 909.5,791.1 910.3,791.8 911.2,792.4 912.1,793 913,793.6 913.9,794.2 914.7,794.9 915.6,795.5 916.5,796.1 917.4,796.7 918.3,797.3 919.1,797.8 920,798.3 920.9,798.9 921.8,799.3 922.7,799.8 923.5,800.2 924.4,800.5 925.3,800.9 926.2,801.1 927.1,801.4 927.9,801.5 928.8,801.6 929.7,801.6 930.6,801.6 931.5,801.6 932.3,801.5 933.2,801.5 934.1,801.4 935,801.3 935.9,801.2 936.7,801 937.6,800.9 938.5,800.8 939.4,800.6 940.3,800.4 941.1,800.3 942,800.1 942.9,800 943.8,799.8 944.7,799.6 945.5,799.5 946.4,799.3 947.3,799.2 948.2,799.1 949.1,799 949.9,798.9 950.8,798.8 951.7,798.7 952.6,798.7 953.5,798.6 954.3,798.6 955.2,798.6 956.1,798.7 957,798.9 957.9,799.1 958.7,799.4 959.6,799.7 960.5,800 961.4,800.4 962.3,800.8 963.1,801.3 964,801.8 964.9,802.3 965.8,802.8 966.7,803.4 967.5,804 968.4,804.6 969.3,805.1 970.2,805.7 971.1,806.3 971.9,806.9 972.8,807.5 973.7,808.1 974.6,808.6 975.5,809.2 976.3,809.7 977.2,810.1 978.1,810.6 979,811 979.9,811.5 980.7,811.9 981.6,812.4 982.5,812.9 983.4,813.3 984.3,813.8 985.1,814.4 986,814.9 986.9,815.4 987.8,815.9 988.7,816.4 989.5,816.9 990.4,817.4 991.3,817.9 992.2,818.4 993.1,818.9 993.9,819.4 994.8,819.8 995.7,820.2 996.6,820.6 997.5,821 998.3,821.4 999.2,821.7 1000.1,822 1001,822.3 1001.9,822.5 1002.7,822.7 1003.6,822.8 1004.5,822.9 1005.4,823 1006.3,823 1007.1,823 1008,823 1008.9,822.9 1009.8,822.7 1010.7,822.6 1011.5,822.4 1012.4,822.1 1013.3,821.9 1014.2,821.7 1015.1,821.4 1015.9,821.1 1016.8,820.9 1017.7,820.6 1018.6,820.3 1019.5,820 1020.3,819.8 1021.2,819.6 1022.1,819.3 1023,819.1 1023.9,819 1024.7,818.8 1025.6,818.7 1026.5,818.6 1027.4,818.6 1028.3,818.6 1029.1,818.7 1030,818.8 1030.9,819 1031.8,819.2 1032.7,819.4 1033.5,819.7 1034.4,820.1 1035.3,820.4 1036.2,820.9 1037.1,821.3 1037.9,821.8 1038.8,822.3 1039.7,822.8 1040.6,823.3 1041.5,823.9 1042.3,824.5 1043.2,825.1 1044.1,825.7 1045,826.3 1045.9,826.9 1046.7,827.6 1047.6,828.2 1048.5,828.8 1049.4,829.5 1050.3,830.2 1051.1,831 1052,831.9 1052.9,833 1053.8,834 1054.7,835.2 1055.5,836.3 1056.4,837.5 1057.3,838.8 1058.2,840 1059.1,841.2 1059.9,842.4 1060.8,843.5 1061.7,844.6 1062.6,845.7 1063.5,846.6 1064.3,847.5 1065.2,848.3 1066.1,849.1 1067,849.9 1067.9,850.8 1068.7,851.6 1069.6,852.4 1070.5,853.2 1071.4,854 1072.3,854.8 1073.1,855.5 1074,856.1 1074.9,856.7 1075.8,857.2 1076.7,857.7 1077.5,858 1078.4,858.2 1079.3,858.4 1080.2,858.4 1081.1,858.3 1081.9,858.2 1082.8,858 1083.7,857.7 1084.6,857.4 1085.5,857.1 1086.3,856.7 1087.2,856.2 1088.1,855.7 1089,855.2 1089.9,854.6 1090.7,854 1091.6,853.4 1092.5,852.8 1093.4,852.1 1094.3,851.4 1095.1,850.7 1096,849.8 1096.9,848.7 1097.8,847.3 1098.7,845.6 1099.5,843.8 1100.4,841.8 1101.3,839.7 1102.2,837.5 1103.1,835.2 1103.9,832.8 1104.8,830.4 1105.7,828.1 1106.6,825.8 1107.5,823.5 1108.3,821.3 1109.2,819.3 1110.1,817.4 1111,815.7 1111.9,813.9 1112.7,812.1 1113.6,810.3 1114.5,808.5 1115.4,806.7 1116.3,804.9 1117.1,803.2 1118,801.5 1118.9,799.8 1119.8,798.2 1120.7,796.7 1121.5,795.2 1122.4,793.8 1123.3,792.5 1124.2,791.3 1125.1,790.3 1125.9,789.3 1126.8,788.4 1127.7,787.4 1128.6,786.5 1129.5,785.6 1130.3,784.7 1131.2,783.8 1132.1,782.9 1133,782.1 1133.9,781.3 1134.7,780.5 1135.6,779.7 1136.5,779 1137.4,778.3 1138.3,777.6 1139.1,777 1140,776.5 1140.9,776 1141.8,775.5 1142.7,775.1 1143.5,774.8 1144.4,774.5 1145.3,774.3 1146.2,774.2 1147.1,774.2 1147.9,774.2 1148.8,774.2 1149.7,774.3 1150.6,774.3 1151.5,774.4 1152.3,774.5 1153.2,774.6 1154.1,774.6 1155,774.7 1155.9,774.8 1156.7,774.9 1157.6,774.9 1158.5,775 1159.4,775 1160.3,775 1161.1,775 1162,774.9 1162.9,774.8 1163.8,774.6 1164.7,774.4 1165.5,774.2 1166.4,773.9 1167.3,773.6 1168.2,773.3 1169.1,772.9 1169.9,772.5 1170.8,772.1 1171.7,771.7 1172.6,771.2 1173.5,770.7 1174.3,770.3 1175.2,769.8 1176.1,769.3 1177,768.7 1177.9,768.2 1178.7,767.7 1179.6,767.1 1180.5,766.6 1181.4,766.1 1182.3,765.5 1183.1,765 1184,764.5 1184.9,764 1185.8,763.5 1186.7,763 1187.5,762.5 1188.4,762.1 1189.3,761.7 1190.2,761.2 1191.1,760.8 1191.9,760.4 1192.8,759.9 1193.7,759.5 1194.6,759.1 1195.5,758.6 1196.3,758.2 1197.2,757.7 1198.1,757.2 1199,756.8 1199.9,756.3 1200.7,755.9 1201.6,755.4 1202.5,755 1203.4,754.5 1204.3,754.1 1205.1,753.6 1206,753.2 1206.9,752.7 1207.8,752.3 1208.7,751.9 1209.5,751.5 1210.4,751.1 1211.3,750.6 1212.2,750.3 1213.1,749.9 1213.9,749.5 1214.8,749.1 1215.7,748.6 1216.6,748.2 1217.5,747.7 1218.3,747.3 1219.2,746.8 1220.1,746.4 1221,745.9 1221.9,745.5 1222.7,745 1223.6,744.6 1224.5,744.1 1225.4,743.7 1226.3,743.3 1227.1,742.9 1228,742.5 1228.9,742.1 1229.8,741.7 1230.7,741.4 1231.5,741.1 1232.4,740.8 1233.3,740.5 1234.2,740.3 1235.1,740.1 1235.9,739.9 1236.8,739.8 1237.7,739.7 1238.6,739.7 1239.5,739.7 1240.3,739.7 1241.2,739.8 1242.1,740 1243,740.2 1243.9,740.5 1244.7,740.8 1245.6,741.2 1246.5,741.6 1247.4,742 1248.3,742.5 1249.1,742.9 1250,743.4 1250.9,743.9 1251.8,744.3 1252.7,744.8 1253.5,745.3 1254.4,745.8 1255.3,746.3 1256.2,746.9 1257.1,747.7 1257.9,748.4 1258.8,749.3 1259.7,750.1 1260.6,751 1261.5,751.9 1262.3,752.8 1263.2,753.6 1264.1,754.5 1265,755.3 1265.9,756 1266.7,756.7 1267.6,757.3 1268.5,757.8 1269.4,758.2 1270.3,758.5 1271.1,758.6 1272,758.6 1272.9,758.4 1273.8,758.1 1274.7,757.6 1275.5,757 1276.4,756.3 1277.3,755.4 1278.2,754.5 1279.1,753.4 1279.9,752.4 1280.8,751.2 1281.7,750 1282.6,748.8 1283.5,747.6 1284.3,746.4 1285.2,745.3 1286.1,744.1 1287,742.9 1287.9,741.6 1288.7,740.1 1289.6,738.6 1290.5,736.9 1291.4,735.2 1292.3,733.5 1293.1,731.7 1294,729.9 1294.9,728.1 1295.8,726.4 1296.7,724.7 1297.5,723 1298.4,721.4 1299.3,720 1300.2,718.6 1301.1,717.4 1301.9,716.1 1302.8,714.8 1303.7,713.5 1304.6,712.2 1305.5,710.9 1306.3,709.7 1307.2,708.4 1308.1,707.2 1309,706.1 1309.9,705.1 1310.7,704.1 1311.6,703.3 1312.5,702.6 1313.4,702.1 1314.3,701.7 1315.1,701.5 1316,701.5 1316.9,701.6 1317.8,701.8 1318.7,702.1 1319.5,702.5 1320.4,703 1321.3,703.6 1322.2,704.2 1323.1,704.9 1323.9,705.6 1324.8,706.5 1325.7,707.3 1326.6,708.3 1327.5,709.2 1328.3,710.7 1329.2,712.8 1330.1,715.3 1331,718.3 1331.9,721.5 1332.7,725 1333.6,728.6 1334.5,732.2 1335.4,735.7 1336.3,739.1 1337.1,742.8 1338,746.8 1338.9,751.1 1339.8,755.5 1340.7,759.9 1341.5,764.1 1342.4,768.1 1343.3,771.6 1344.2,774.6 1345.1,776.9 1345.9,779 1346.8,781 1347.7,782.9 1348.6,784.7 1349.5,786.5 1350.3,788.2 1351.2,789.7 1352.1,791.2 1353,792.6 1353.9,793.9 1354.7,795.1 1355.6,796.2 1356.5,797.2 1357.4,798.1 1358.3,798.9 1359.1,799.5 1360,800.1 1360.9,800.7 1361.8,801.2 1362.7,801.7 1363.5,802.2 1364.4,802.7 1365.3,803.2 1366.2,803.6 1367.1,804 1367.9,804.4 1368.8,804.7 1369.7,805 1370.6,805.2 1371.5,805.4 1372.3,805.6 1373.2,805.6 1374.1,805.7 1375,805.6 1375.9,805.4 1376.7,805.2 1377.6,804.8 1378.5,804.3 1379.4,803.8 1380.3,803.2 1381.1,802.5 1382,801.8 1382.9,801.1 1383.8,800.4 1384.7,799.6 1385.5,798.9 1386.4,798.2 1387.3,797.5 1388.2,796.8 1389.1,796.2 1389.9,795.6 1390.8,795.1 1391.7,794.7 1392.6,794.3 1393.5,794.1 1394.3,794 1395.2,794 1396.1,794.1 1397,794.3 1397.9,794.6 1398.7,795 1399.6,795.5 1400.5,796 1401.4,796.6 1402.3,797.2 1403.1,797.9 1404,798.6 1404.9,799.3 1405.8,800 1406.7,800.7 1407.5,801.5 1408.4,802.2 1409.3,802.9 1410.2,803.6 1411.1,804.4 1411.9,805.4 1412.8,806.4 1413.7,807.5 1414.6,808.6 1415.5,809.8 1416.3,810.9 1417.2,812.1 1418.1,813.3 1419,814.4 1419.9,815.5 1420.7,816.5 1421.6,817.5 1422.5,818.3 1423.4,819 1424.3,819.6 1425.1,820 1426,820.3 1426.9,820.4 1427.8,820.4 1428.7,820.4 1429.5,820.3 1430.4,820.3 1431.3,820.2 1432.2,820.1 1433.1,820 1433.9,819.9 1434.8,819.8 1435.7,819.6 1436.6,819.5 1437.5,819.3 1438.3,819.2 1439.2,819.1 1440.1,818.9 1441,818.7 1441.9,818.6 1442.7,818.5 1443.6,818.3 1444.5,818.2 1445.4,818 1446.3,817.9 1447.1,817.8 1448,817.7 1448.9,817.6 1449.8,817.5 1450.7,817.5 1451.5,817.4 1452.4,817.4 1453.3,817.4 1454.2,817.4 1455.1,817.4 1455.9,817.5 1456.8,817.5 1457.7,817.6 1458.6,817.6 1459.5,817.7 1460.3,817.8 1461.2,817.9 1462.1,818.1 1463,818.2 1463.9,818.4 1464.7,818.5 1465.6,818.7 1466.5,818.9 1467.4,819 1468.3,819.2 1469.1,819.4 1470,819.6 1470.9,819.8 1471.8,820.1 1472.7,820.3 1473.5,820.5 1474.4,820.8 1475.3,821 1476.2,821.3 1477.1,821.5 1477.9,821.8 1478.8,822 1479.7,822.3 1480.6,822.6 1481.5,822.8 1482.3,823.1 1483.2,823.4 1484.1,823.7 1485,824 1485.9,824.4 1486.7,824.8 1487.6,825.2 1488.5,825.7 1489.4,826.2 1490.3,826.7 1491.1,827.2 1492,827.8 1492.9,828.4 1493.8,829 1494.7,829.6 1495.5,830.2 1496.4,830.8 1497.3,831.4 1498.2,832.1 1499.1,832.7 1499.9,833.4 1500.8,834.1 1501.7,834.7 1502.6,835.4 1503.5,836 1504.3,836.7 1505.2,837.3 1506.1,838 1507,838.6 1507.9,839.3 1508.7,840 1509.6,840.7 1510.5,841.5 1511.4,842.2 1512.3,843 1513.1,843.7 1514,844.5 1514.9,845.3 1515.8,846.1 1516.7,846.9 1517.5,847.6 1518.4,848.4 1519.3,849.1 1520.2,849.8 1521.1,850.5 1521.9,851.2 1522.8,851.9 1523.7,852.5 1524.6,853.1 1525.5,853.8 1526.3,854.5 1527.2,855.2 1528.1,855.9 1529,856.6 1529.9,857.3 1530.7,858 1531.6,858.6 1532.5,859.2 1533.4,859.8 1534.3,860.2 1535.1,860.7 1536,861 1536.9,861.2 1537.8,861.4 1538.7,861.4 1539.5,861.2 1540.4,860.7 1541.3,860 1542.2,859.1 1543.1,858 1543.9,856.8 1544.8,855.3 1545.7,853.8 1546.6,852.1 1547.5,850.3 1548.3,848.5 1549.2,846.6 1550.1,844.7 1551,842.7 1551.9,840.8 1552.7,838.9 1553.6,837 1554.5,834.9 1555.4,832.5 1556.3,829.9 1557.1,827.1 1558,824.2 1558.9,821.2 1559.8,818.3 1560.7,815.3 1561.5,812.4 1562.4,809.6 1563.3,807 1564.2,804.5 1565.1,802.3 1565.9,800.2 1566.8,798 1567.7,795.9 1568.6,793.9 1569.5,791.8 1570.3,789.9 1571.2,788 1572.1,786.2 1573,784.5 1573.9,783 1574.7,781.6 1575.6,780.3 1576.5,779.2 1577.4,778.2 1578.3,777.3 1579.1,776.3 1580,775.3 1580.9,774.4 1581.8,773.5 1582.7,772.6 1583.5,771.8 1584.4,771 1585.3,770.2 1586.2,769.5 1587.1,768.8 1587.9,768.2 1588.8,767.7 1589.7,767.2 1590.6,766.8 1591.5,766.5 1592.3,766.3 1593.2,766.2 1594.1,766.1 1595,766.2 1595.9,766.4 1596.7,766.8 1597.6,767.3 1598.5,767.9 1599.4,768.6 1600.3,769.4 1601.1,770.2 1602,771.1 1602.9,772 1603.8,772.9 1604.7,773.8 1605.5,774.7 1606.4,775.6 1607.3,776.4 1608.2,777.2 1609.1,777.9 1609.9,778.4 1610.8,778.9 1611.7,779.2 1612.6,779.5 1613.5,779.8 1614.3,780 1615.2,780.3 1616.1,780.5 1617,780.6 1617.9,780.8 1618.7,780.8 1619.6,780.8 1620.5,780.7 1621.4,780.3 1622.3,779.8 1623.1,779.1 1624,778.3 1624.9,777.3 1625.8,776.3 1626.7,775.2 1627.5,774.1 1628.4,772.9 1629.3,771.8 1630.2,770.7 1631.1,769.6 1631.9,768.6 1632.8,767.7 1633.7,766.8 1634.6,765.8 1635.5,764.7 1636.3,763.6 1637.2,762.5 1638.1,761.3 1639,760.1 1639.9,758.9 1640.7,757.7 1641.6,756.6 1642.5,755.5 1643.4,754.4 1644.3,753.3 1645.1,752.4 1646,751.5 1646.9,750.7 1647.8,750 1648.7,749.4 1649.5,748.9 1650.4,748.6 1651.3,748.4 1652.2,748.3 1653.1,748.4 1653.9,748.4 1654.8,748.4 1655.7,748.5 1656.6,748.5 1657.5,748.6 1658.3,748.7 1659.2,748.8 1660.1,748.9 1661,749 1661.9,749.1 1662.7,749.2 1663.6,749.3 1664.5,749.4 1665.4,749.5 1666.3,749.7 1667.1,749.8 1668,749.9 1668.9,750.1 1669.8,750.2 1670.7,750.3 1671.5,750.4 1672.4,750.6 1673.3,750.7 1674.2,750.8 1675.1,750.9 1675.9,751 1676.8,751.1 1677.7,751.2 1678.6,751.3 1679.5,751.4 1680.3,751.4 1681.2,751.5 1682.1,751.5 1683,751.6 1683.9,751.6 1684.7,751.6 1685.6,751.6 1686.5,751.5 1687.4,751.5 1688.3,751.4 1689.1,751.3 1690,751.3 1690.9,751.1 1691.8,751 1692.7,750.9 1693.5,750.7 1694.4,750.6 1695.3,750.4 1696.2,750.2 1697.1,750 1697.9,749.8 1698.8,749.6 1699.7,749.3 1700.6,749.1 1701.5,748.9 1702.3,748.6 1703.2,748.3 1704.1,748 1705,747.8 1705.9,747.5 1706.7,747.2 1707.6,746.9 1708.5,746.5 1709.4,746.2 1710.3,745.9 1711.1,745.6 1712,745.2 1712.9,744.9 1713.8,744.5 1714.7,744.2 1715.5,743.8 1716.4,743.5 1717.3,743.1 1718.2,742.8 1719.1,742.4 1719.9,742.1 1720.8,741.7 1721.7,741.3 1722.6,740.9 1723.5,740.4 1724.3,739.9 1725.2,739.3 1726.1,738.7 1727,738.1 1727.9,737.5 1728.7,736.8 1729.6,736.1 1730.5,735.4 1731.4,734.7 1732.3,734 1733.1,733.2 1734,732.5 1734.9,731.7 1735.8,731 1736.7,730.2 1737.5,729.4 1738.4,728.7 1739.3,727.9 1740.2,727.1 1741.1,726.4 1741.9,725.7 1742.8,725 1743.7,724.3 1744.6,723.6 1745.5,722.9 1746.3,722.3 1747.2,721.7 1748.1,721 1749,720.3 1749.9,719.5 1750.7,718.8 1751.6,718 1752.5,717.2 1753.4,716.5 1754.3,715.7 1755.1,714.9 1756,714.2 1756.9,713.5 1757.8,712.8 1758.7,712.2 1759.5,711.6 1760.4,711.1 1761.3,710.6 1762.2,710.2 1763.1,709.9 1763.9,709.6 1764.8,709.5 1765.7,709.4 1766.6,709.4 1767.5,709.6 1768.3,709.8 1769.2,710.2 1770.1,710.6 1771,711.1 1771.9,711.8 1772.7,712.5 1773.6,713.2 1774.5,714.1 1775.4,715 1776.3,715.9 1777.1,716.9 1778,718 1778.9,719.1 1779.8,720.5 1780.7,722.5 1781.5,724.9 1782.4,727.8 1783.3,731 1784.2,734.4 1785.1,737.9 1785.9,741.4 1786.8,745 1787.7,748.4 1788.6,751.6 1789.5,754.8 1790.3,758.3 1791.2,762 1792.1,765.7 1793,769.5 1793.9,773.2 1794.7,776.6 1795.6,779.8 1796.5,782.7 1797.4,785.1 1798.3,786.9 1799.1,788.3 1800,789.7 1800.9,791 1801.8,792.3 1802.7,793.5 1803.5,794.7 1804.4,795.8 1805.3,796.9 1806.2,798 1807.1,799 1807.9,799.9 1808.8,800.7 1809.7,801.5 1810.6,802.3 1811.5,802.9 1812.3,803.5 1813.2,804 1814.1,804.4 1815,804.8 1815.9,805 1816.7,805.2 1817.6,805.3 1818.5,805.2 1819.4,805.1 1820.3,805 1821.1,804.7 1822,804.4 1822.9,804 1823.8,803.6 1824.7,803.1 1825.5,802.5 1826.4,802 1827.3,801.4 1828.2,800.8 1829.1,800.1 1829.9,799.5 1830.8,798.8 1831.7,798.2 1832.6,797.5 1833.5,796.9 1834.3,796.3 1835.2,795.7 1836.1,795.1 1837,794.6 1837.9,794.1 1838.7,793.6 1839.6,793.3 1840.5,792.9 1841.4,792.7 1842.3,792.5 1843.1,792.4 1844,792.4 1844.9,792.5 1845.8,792.8 1846.7,793.3 1847.5,793.9 1848.4,794.6 1849.3,795.5 1850.2,796.5 1851.1,797.5 1851.9,798.7 1852.8,799.9 1853.7,801.2 1854.6,802.5 1855.5,803.8 1856.3,805.2 1857.2,806.6 1858.1,808 1859,809.3 1859.9,810.7 1860.7,812 1861.6,813.2 1862.5,814.4 1863.4,815.5 1864.3,816.5 1865.1,817.3 1866,818.1 1866.9,818.8 1867.8,819.3 1868.7,819.6 1869.5,819.8 1870.4,819.8 1871.3,819.8 1872.2,819.8 1873.1,819.8 1873.9,819.8 1874.8,819.8 1875.7,819.8 1876.6,819.8 1877.5,819.8 1878.3,819.8 1879.2,819.8 1880.1,819.8 1881,819.8 1881.9,819.8 1882.7,819.8 1883.6,819.8 1884.5,819.8 1885.4,819.8 1886.3,819.8 1887.1,819.8 1888,819.8 1888.9,819.8 1889.8,819.8 1890.7,819.8 1891.5,819.8 1892.4,819.8 1893.3,819.8 1894.2,819.8 1895.1,819.8 1895.9,819.8 1896.8,819.8 1897.7,819.8 1898.6,819.8 1899.5,819.8 1900.3,819.8 1901.2,819.8 1902.1,819.8 1903,819.8 1903.9,819.8 1904.7,819.8 1905.6,819.8 1906.5,819.8 1907.4,819.8 1908.3,819.8 1909.1,819.8 1910,819.8 1910.9,819.9 1911.8,819.9 1912.7,820 1913.5,820 1914.4,820.1 1915.3,820.3 1916.2,820.4 1917.1,820.5 1917.9,820.7 1918.8,820.8 1919.7,821 1920.6,821.2 1921.5,821.4 1922.3,821.6 1923.2,821.9 1924.1,822.1 1925,822.3 1925.9,822.6 1926.7,822.9 1927.6,823.1 1928.5,823.4 1929.4,823.7 1930.3,824 1931.1,824.3 1932,824.6 1932.9,825 1933.8,825.3 1934.7,825.6 1935.5,826 1936.4,826.3 1937.3,826.7 1938.2,827 1939.1,827.4 1939.9,827.7 1940.8,828.1 1941.7,828.4 1942.6,828.8 1943.5,829.2 1944.3,829.5 1945.2,829.9 1946.1,830.3 1947,830.7 1947.9,831.2 1948.7,831.7 1949.6,832.3 1950.5,832.9 1951.4,833.5 1952.3,834.1 1953.1,834.7 1954,835.4 1954.9,836.1 1955.8,836.8 1956.7,837.5 1957.5,838.3 1958.4,839 1959.3,839.8 1960.2,840.5 1961.1,841.3 1961.9,842 1962.8,842.8 1963.7,843.5 1964.6,844.3 1965.5,845 1966.3,845.7 1967.2,846.4 1968.1,847.1 1969,847.8 1969.9,848.4 1970.7,849.1 1971.6,849.7 1972.5,850.4 1973.4,851.1 1974.3,851.9 1975.1,852.6 1976,853.4 1976.9,854.2 1977.8,855 1978.7,855.8 1979.5,856.5 1980.4,857.3 1981.3,858 1982.2,858.7 1983.1,859.3 1983.9,859.9 1984.8,860.5 1985.7,860.9 1986.6,861.4 1987.5,861.7 1988.3,862 1989.2,862.1 1990.1,862.2 1991,862.1 1991.9,861.8 1992.7,861.3 1993.6,860.6 1994.5,859.7 1995.4,858.6 1996.3,857.4 1997.1,856 1998,854.5 1998.9,852.9 1999.8,851.2 2000.7,849.4 2001.5,847.5 2002.4,845.6 2003.3,843.6 2004.2,841.6 2005.1,839.6 2005.9,837.6 2006.8,835.7 2007.7,833.3 2008.6,830.6 2009.5,827.5 2010.3,824.1 2011.2,820.6 2012.1,816.9 2013,813.1 2013.9,809.4 2014.7,805.7 2015.6,802.3 2016.5,799 2017.4,796.1 2018.3,793.5 2019.1,791.4 2020,789.7 2020.9,788.2 2021.8,786.6 2022.7,785.1 2023.5,783.6 2024.4,782.1 2025.3,780.7 2026.2,779.3 2027.1,777.9 2027.9,776.6 2028.8,775.3 2029.7,774.1 2030.6,772.9 2031.5,771.8 2032.3,770.8 2033.2,769.8 2034.1,768.9 2035,768.1 2035.9,767.4 2036.7,766.7 2037.6,766.1 2038.5,765.6 2039.4,765.3 2040.3,765 2041.1,764.8 2042,764.7 2042.9,764.7 2043.8,764.9 2044.7,765.2 2045.5,765.6 2046.4,766.1 2047.3,766.7 2048.2,767.4 2049.1,768.1 2049.9,769 2050.8,769.8 2051.7,770.7 2052.6,771.6 2053.5,772.5 2054.3,773.5 2055.2,774.4 2056.1,775.3 2057,776.2 2057.9,777 2058.7,777.8 2059.6,778.5 2060.5,779.1 2061.4,779.7 2062.3,780.2 2063.1,780.5 2064,780.7 2064.9,780.8 2065.8,780.8 2066.7,780.6 2067.5,780.2 2068.4,779.7 2069.3,779 2070.2,778.2 2071.1,777.3 2071.9,776.3 2072.8,775.3 2073.7,774.2 2074.6,773 2075.5,771.8 2076.3,770.5 2077.2,769.2 2078.1,768 2079,766.7 2079.9,765.5 2080.7,764.4 2081.6,763.2 2082.5,762.2 2083.4,761.2 2084.3,760.3 2085.1,759.6 2086,759 2086.9,758.4 2087.8,758.1 2088.7,757.9 2089.5,757.6 2090.4,757.4 2091.3,757.2 2092.2,757 2093.1,756.9 2093.9,756.7"/><polyline fill="none" stroke="#00f" stroke-width="10.5" stroke-linejoin="round" points="291.7,825.3 292.6,825.7 293.5,826.1 294.3,826.7 295.2,827.2 296.1,827.8 297,828.5 297.9,829.2 298.7,829.9 299.6,830.7 300.5,831.5 301.4,832.3 302.3,833.1 303.1,834 304,834.9 304.9,835.8 305.8,836.6 306.7,837.5 307.5,838.4 308.4,839.3 309.3,840.1 310.2,841 311.1,841.8 311.9,842.7 312.8,843.7 313.7,844.8 314.6,845.9 315.5,847 316.3,848.2 317.2,849.3 318.1,850.5 319,851.6 319.9,852.8 320.7,853.9 321.6,854.9 322.5,855.8 323.4,856.7 324.3,857.5 325.1,858.2 326,858.8 326.9,859.3 327.8,859.6 328.7,859.8 329.5,859.8 330.4,859.6 331.3,859.2 332.2,858.7 333.1,858 333.9,857.3 334.8,856.4 335.7,855.3 336.6,854.3 337.5,853.1 338.3,851.9 339.2,850.6 340.1,849.3 341,848 341.9,846.6 342.7,844.7 343.6,842.6 344.5,840.1 345.4,837.4 346.3,834.5 347.1,831.5 348,828.4 348.9,825.3 349.8,822.2 350.7,819.2 351.5,816.4 352.4,813.8 353.3,811.5 354.2,809.3 355.1,807.2 355.9,805 356.8,802.8 357.7,800.7 358.6,798.6 359.5,796.5 360.3,794.6 361.2,792.8 362.1,791.2 363,789.7 363.9,788.4 364.7,787.3 365.6,786.5 366.5,785.8 367.4,785.1 368.3,784.4 369.1,783.8 370,783.2 370.9,782.6 371.8,782.1 372.7,781.7 373.5,781.2 374.4,780.9 375.3,780.6 376.2,780.4 377.1,780.3 377.9,780.2 378.8,780.2 379.7,780.3 380.6,780.3 381.5,780.3 382.3,780.4 383.2,780.4 384.1,780.5 385,780.6 385.9,780.6 386.7,780.7 387.6,780.8 388.5,780.9 389.4,781 390.3,781.1 391.1,781.1 392,781.2 392.9,781.3 393.8,781.4 394.7,781.5 395.5,781.5 396.4,781.6 397.3,781.7 398.2,781.7 399.1,781.8 399.9,781.8 400.8,781.8 401.7,781.9 402.6,781.9 403.5,781.8 404.3,781.8 405.2,781.8 406.1,781.7 407,781.6 407.9,781.5 408.7,781.4 409.6,781.3 410.5,781.2 411.4,781 412.3,780.9 413.1,780.7 414,780.5 414.9,780.4 415.8,780.2 416.7,780 417.5,779.8 418.4,779.6 419.3,779.3 420.2,779.1 421.1,778.9 421.9,778.7 422.8,778.4 423.7,778.2 424.6,778 425.5,777.7 426.3,777.5 427.2,777.3 428.1,777 429,776.8 429.9,776.6 430.7,776.3 431.6,776.1 432.5,775.9 433.4,775.7 434.3,775.5 435.1,775.3 436,775 436.9,774.8 437.8,774.6 438.7,774.4 439.5,774.1 440.4,773.9 441.3,773.6 442.2,773.4 443.1,773.1 443.9,772.9 444.8,772.6 445.7,772.4 446.6,772.1 447.5,771.8 448.3,771.6 449.2,771.3 450.1,771 451,770.7 451.9,770.5 452.7,770.2 453.6,769.9 454.5,769.6 455.4,769.3 456.3,769 457.1,768.8 458,768.5 458.9,768.2 459.8,767.9 460.7,767.6 461.5,767.3 462.4,767 463.3,766.7 464.2,766.4 465.1,766.1 465.9,765.7 466.8,765.4 467.7,765.1 468.6,764.7 469.5,764.4 470.3,764.1 471.2,763.7 472.1,763.4 473,763 473.9,762.6 474.7,762.3 475.6,761.9 476.5,761.5 477.4,761.2 478.3,760.8 479.1,760.4 480,760 480.9,759.7 481.8,759.3 482.7,758.9 483.5,758.6 484.4,758.2 485.3,757.8 486.2,757.4 487.1,757.1 487.9,756.7 488.8,756.4 489.7,756 490.6,755.6 491.5,755.3 492.3,755 493.2,754.6 494.1,754.3 495,754 495.9,753.6 496.7,753.3 497.6,753.1 498.5,752.8 499.4,752.5 500.3,752.2 501.1,752 502,751.7 502.9,751.5 503.8,751.2 504.7,751 505.5,750.8 506.4,750.5 507.3,750.3 508.2,750 509.1,749.8 509.9,749.5 510.8,749.3 511.7,749 512.6,748.7 513.5,748.4 514.3,748.2 515.2,747.9 516.1,747.5 517,747.2 517.9,746.9 518.7,746.5 519.6,746.1 520.5,745.8 521.4,745.3 522.3,744.9 523.1,744.5 524,744 524.9,743.5 525.8,742.9 526.7,742.2 527.5,741.4 528.4,740.5 529.3,739.5 530.2,738.4 531.1,737.3 531.9,736.1 532.8,734.9 533.7,733.6 534.6,732.4 535.5,731.2 536.3,730 537.2,728.8 538.1,727.7 539,726.6 539.9,725.6 540.7,724.7 541.6,723.7 542.5,722.7 543.4,721.7 544.3,720.6 545.1,719.5 546,718.5 546.9,717.4 547.8,716.4 548.7,715.5 549.5,714.6 550.4,713.8 551.3,713.1 552.2,712.5 553.1,712 553.9,711.7 554.8,711.4 555.7,711.4 556.6,711.5 557.5,711.7 558.3,711.9 559.2,712.3 560.1,712.7 561,713.2 561.9,713.8 562.7,714.5 563.6,715.2 564.5,715.9 565.4,716.7 566.3,717.5 567.1,718.4 568,719.3 568.9,720.5 569.8,722.2 570.7,724.2 571.5,726.5 572.4,729 573.3,731.7 574.2,734.6 575.1,737.5 575.9,740.5 576.8,743.4 577.7,746.3 578.6,749 579.5,751.6 580.3,754 581.2,756.4 582.1,758.9 583,761.5 583.9,764.1 584.7,766.7 585.6,769.2 586.5,771.6 587.4,774 588.3,776.2 589.1,778.2 590,780 590.9,781.6 591.8,782.9 592.7,784 593.5,785 594.4,785.9 595.3,786.9 596.2,787.8 597.1,788.6 597.9,789.4 598.8,790.1 599.7,790.8 600.6,791.3 601.5,791.8 602.3,792.2 603.2,792.4 604.1,792.5 605,792.6 605.9,792.5 606.7,792.5 607.6,792.5 608.5,792.4 609.4,792.3 610.3,792.2 611.1,792.1 612,792 612.9,791.9 613.8,791.8 614.7,791.6 615.5,791.5 616.4,791.3 617.3,791.2 618.2,791.1 619.1,790.9 619.9,790.8 620.8,790.6 621.7,790.5 622.6,790.4 623.5,790.2 624.3,790.1 625.2,790 626.1,789.9 627,789.8 627.9,789.7 628.7,789.6 629.6,789.6 630.5,789.6 631.4,789.5 632.3,789.5 633.1,789.5 634,789.6 634.9,789.6 635.8,789.6 636.7,789.7 637.5,789.8 638.4,789.8 639.3,789.9 640.2,790 641.1,790.1 641.9,790.2 642.8,790.3 643.7,790.5 644.6,790.6 645.5,790.7 646.3,790.9 647.2,791 648.1,791.2 649,791.3 649.9,791.5 650.7,791.7 651.6,791.9 652.5,792 653.4,792.2 654.3,792.4 655.1,792.6 656,792.8 656.9,792.9 657.8,793.1 658.7,793.3 659.5,793.5 660.4,793.7 661.3,793.9 662.2,794.1 663.1,794.3 663.9,794.5 664.8,794.7 665.7,794.9 666.6,795.1 667.5,795.4 668.3,795.6 669.2,795.9 670.1,796.1 671,796.4 671.9,796.7 672.7,797 673.6,797.3 674.5,797.6 675.4,797.9 676.3,798.2 677.1,798.5 678,798.8 678.9,799.2 679.8,799.5 680.7,799.8 681.5,800.2 682.4,800.5 683.3,800.9 684.2,801.2 685.1,801.5 685.9,801.9 686.8,802.2 687.7,802.6 688.6,802.9 689.5,803.3 690.3,803.6 691.2,803.9 692.1,804.3 693,804.6 693.9,804.9 694.7,805.2 695.6,805.6 696.5,805.9 697.4,806.3 698.3,806.6 699.1,807 700,807.4 700.9,807.7 701.8,808.1 702.7,808.5 703.5,808.9 704.4,809.2 705.3,809.6 706.2,810 707.1,810.4 707.9,810.8 708.8,811.1 709.7,811.5 710.6,811.9 711.5,812.3 712.3,812.6 713.2,813 714.1,813.4 715,813.7 715.9,814.1 716.7,814.4 717.6,814.8 718.5,815.1 719.4,815.4 720.3,815.8 721.1,816.1 722,816.4 722.9,816.7 723.8,817 724.7,817.3 725.5,817.5 726.4,817.8 727.3,818 728.2,818.2 729.1,818.4 729.9,818.6 730.8,818.8 731.7,819 732.6,819.2 733.5,819.4 734.3,819.7 735.2,819.9 736.1,820.2 737,820.4 737.9,820.7 738.7,821.1 739.6,821.4 740.5,821.8 741.4,822.3 742.3,822.9 743.1,823.6 744,824.4 744.9,825.2 745.8,826.2 746.7,827.1 747.5,828.2 748.4,829.2 749.3,830.3 750.2,831.4 751.1,832.6 751.9,833.7 752.8,834.8 753.7,836 754.6,837.1 755.5,838.2 756.3,839.2 757.2,840.2 758.1,841.2 759,842.1 759.9,843.1 760.7,844.2 761.6,845.3 762.5,846.4 763.4,847.6 764.3,848.7 765.1,849.9 766,851 766.9,852.2 767.8,853.3 768.7,854.3 769.5,855.3 770.4,856.2 771.3,857.1 772.2,857.8 773.1,858.5 773.9,859 774.8,859.4 775.7,859.7 776.6,859.8 777.5,859.7 778.3,859.6 779.2,859.4 780.1,859 781,858.6 781.9,858 782.7,857.4 783.6,856.7 784.5,856 785.4,855.2 786.3,854.3 787.1,853.4 788,852.4 788.9,851.4 789.8,850.4 790.7,849.3 791.5,848.2 792.4,847.1 793.3,845.6 794.2,843.8 795.1,841.7 795.9,839.4 796.8,836.8 797.7,834.1 798.6,831.2 799.5,828.3 800.3,825.3 801.2,822.3 802.1,819.3 803,816.5 803.9,813.7 804.7,811.1 805.6,808.7 806.5,806.5 807.4,804.7 808.3,802.9 809.1,801.1 810,799.3 810.9,797.5 811.8,795.7 812.7,793.9 813.5,792.2 814.4,790.5 815.3,789 816.2,787.5 817.1,786.2 817.9,785 818.8,784 819.7,783.1 820.6,782.5 821.5,782.1 822.3,781.9 823.2,781.9 824.1,781.9 825,781.9 825.9,781.9 826.7,781.9 827.6,781.9 828.5,781.9 829.4,781.9 830.3,781.9 831.1,781.9 832,781.9 832.9,781.9 833.8,781.9 834.7,781.9 835.5,781.9 836.4,781.9 837.3,781.9 838.2,781.9 839.1,781.9 839.9,781.9 840.8,781.9 841.7,781.9 842.6,781.9 843.5,781.9 844.3,781.9 845.2,781.9 846.1,781.9 847,781.9 847.9,781.9 848.7,781.9 849.6,781.9 850.5,781.9 851.4,781.9 852.3,781.9 853.1,781.9 854,781.9 854.9,781.8 855.8,781.8 856.7,781.8 857.5,781.8 858.4,781.7 859.3,781.7 860.2,781.6 861.1,781.5 861.9,781.5 862.8,781.4 863.7,781.3 864.6,781.2 865.5,781.1 866.3,781 867.2,780.9 868.1,780.8 869,780.6 869.9,780.5 870.7,780.4 871.6,780.2 872.5,780.1 873.4,779.9 874.3,779.8 875.1,779.6 876,779.5 876.9,779.3 877.8,779.1 878.7,779 879.5,778.8 880.4,778.6 881.3,778.4 882.2,778.2 883.1,778 883.9,777.9 884.8,777.7 885.7,777.5 886.6,777.3 887.5,777.1 888.3,776.9 889.2,776.7 890.1,776.5 891,776.3 891.9,776.1 892.7,775.9 893.6,775.6 894.5,775.4 895.4,775.2 896.3,774.9 897.1,774.6 898,774.3 898.9,773.9 899.8,773.6 900.7,773.2 901.5,772.8 902.4,772.5 903.3,772.1 904.2,771.6 905.1,771.2 905.9,770.8 906.8,770.3 907.7,769.9 908.6,769.4 909.5,769 910.3,768.5 911.2,768.1 912.1,767.6 913,767.1 913.9,766.7 914.7,766.2 915.6,765.8 916.5,765.3 917.4,764.9 918.3,764.4 919.1,764 920,763.6 920.9,763.1 921.8,762.7 922.7,762.3 923.5,762 924.4,761.6 925.3,761.2 926.2,760.9 927.1,760.5 927.9,760.1 928.8,759.8 929.7,759.4 930.6,759 931.5,758.7 932.3,758.3 933.2,757.9 934.1,757.6 935,757.2 935.9,756.9 936.7,756.5 937.6,756.2 938.5,755.8 939.4,755.5 940.3,755.1 941.1,754.8 942,754.4 942.9,754.1 943.8,753.7 944.7,753.4 945.5,753.1 946.4,752.7 947.3,752.4 948.2,752.1 949.1,751.7 949.9,751.4 950.8,751.1 951.7,750.7 952.6,750.4 953.5,750.1 954.3,749.8 955.2,749.4 956.1,749.1 957,748.9 957.9,748.6 958.7,748.3 959.6,748.1 960.5,747.8 961.4,747.6 962.3,747.3 963.1,747.1 964,746.8 964.9,746.5 965.8,746.3 966.7,746 967.5,745.7 968.4,745.3 969.3,745 970.2,744.6 971.1,744.2 971.9,743.8 972.8,743.4 973.7,742.9 974.6,742.3 975.5,741.6 976.3,740.9 977.2,740.1 978.1,739.2 979,738.3 979.9,737.4 980.7,736.5 981.6,735.5 982.5,734.5 983.4,733.5 984.3,732.5 985.1,731.5 986,730.5 986.9,729.5 987.8,728.6 988.7,727.6 989.5,726.6 990.4,725.4 991.3,724.2 992.2,722.9 993.1,721.6 993.9,720.3 994.8,719 995.7,717.7 996.6,716.5 997.5,715.4 998.3,714.4 999.2,713.5 1000.1,712.7 1001,712.1 1001.9,711.7 1002.7,711.4 1003.6,711.4 1004.5,711.5 1005.4,711.6 1006.3,711.8 1007.1,712 1008,712.3 1008.9,712.6 1009.8,712.9 1010.7,713.3 1011.5,713.8 1012.4,714.2 1013.3,714.7 1014.2,715.2 1015.1,715.8 1015.9,716.4 1016.8,717.3 1017.7,718.5 1018.6,720 1019.5,721.8 1020.3,723.8 1021.2,726 1022.1,728.3 1023,730.8 1023.9,733.3 1024.7,735.9 1025.6,738.6 1026.5,741.2 1027.4,743.7 1028.3,746.2 1029.1,748.5 1030,750.8 1030.9,752.8 1031.8,754.8 1032.7,756.8 1033.5,758.9 1034.4,761.1 1035.3,763.3 1036.2,765.5 1037.1,767.6 1037.9,769.7 1038.8,771.8 1039.7,773.8 1040.6,775.6 1041.5,777.3 1042.3,778.9 1043.2,780.3 1044.1,781.5 1045,782.5 1045.9,783.3 1046.7,783.9 1047.6,784.4 1048.5,784.9 1049.4,785.3 1050.3,785.7 1051.1,786.1 1052,786.4 1052.9,786.7 1053.8,787 1054.7,787.3 1055.5,787.5 1056.4,787.8 1057.3,788.1 1058.2,788.3 1059.1,788.6 1059.9,788.9 1060.8,789.3 1061.7,789.6 1062.6,790 1063.5,790.4 1064.3,790.8 1065.2,791.3 1066.1,791.8 1067,792.3 1067.9,792.8 1068.7,793.3 1069.6,793.8 1070.5,794.3 1071.4,794.7 1072.3,795.2 1073.1,795.7 1074,796.1 1074.9,796.5 1075.8,796.9 1076.7,797.3 1077.5,797.6 1078.4,797.9 1079.3,798.2 1080.2,798.3 1081.1,798.5 1081.9,798.6 1082.8,798.6 1083.7,798.6 1084.6,798.6 1085.5,798.5 1086.3,798.4 1087.2,798.4 1088.1,798.2 1089,798.1 1089.9,798 1090.7,797.9 1091.6,797.7 1092.5,797.6 1093.4,797.4 1094.3,797.2 1095.1,797.1 1096,796.9 1096.9,796.8 1097.8,796.6 1098.7,796.4 1099.5,796.3 1100.4,796.2 1101.3,796 1102.2,795.9 1103.1,795.8 1103.9,795.7 1104.8,795.7 1105.7,795.6 1106.6,795.6 1107.5,795.6 1108.3,795.6 1109.2,795.7 1110.1,795.7 1111,795.8 1111.9,795.9 1112.7,796.1 1113.6,796.2 1114.5,796.4 1115.4,796.6 1116.3,796.8 1117.1,797.1 1118,797.3 1118.9,797.5 1119.8,797.8 1120.7,798.1 1121.5,798.3 1122.4,798.6 1123.3,799 1124.2,799.4 1125.1,800 1125.9,800.6 1126.8,801.4 1127.7,802.2 1128.6,803 1129.5,803.9 1130.3,804.8 1131.2,805.6 1132.1,806.5 1133,807.4 1133.9,808.2 1134.7,808.9 1135.6,809.6 1136.5,810.2 1137.4,810.7 1138.3,811.1 1139.1,811.5 1140,811.9 1140.9,812.3 1141.8,812.6 1142.7,813 1143.5,813.4 1144.4,813.7 1145.3,814.1 1146.2,814.4 1147.1,814.7 1147.9,815 1148.8,815.3 1149.7,815.6 1150.6,815.9 1151.5,816.1 1152.3,816.4 1153.2,816.6 1154.1,816.8 1155,816.9 1155.9,817.1 1156.7,817.2 1157.6,817.3 1158.5,817.3 1159.4,817.4 1160.3,817.4 1161.1,817.4 1162,817.4 1162.9,817.3 1163.8,817.3 1164.7,817.3 1165.5,817.3 1166.4,817.2 1167.3,817.2 1168.2,817.1 1169.1,817.1 1169.9,817 1170.8,817 1171.7,816.9 1172.6,816.8 1173.5,816.8 1174.3,816.7 1175.2,816.6 1176.1,816.6 1177,816.5 1177.9,816.5 1178.7,816.4 1179.6,816.3 1180.5,816.3 1181.4,816.2 1182.3,816.2 1183.1,816.1 1184,816.1 1184.9,816.1 1185.8,816 1186.7,816 1187.5,816 1188.4,816 1189.3,816 1190.2,816 1191.1,816.2 1191.9,816.5 1192.8,816.8 1193.7,817.3 1194.6,817.8 1195.5,818.4 1196.3,819.1 1197.2,819.8 1198.1,820.5 1199,821.3 1199.9,822.2 1200.7,823 1201.6,823.9 1202.5,824.8 1203.4,825.6 1204.3,826.5 1205.1,827.5 1206,828.6 1206.9,829.8 1207.8,831.2 1208.7,832.6 1209.5,834.1 1210.4,835.7 1211.3,837.3 1212.2,838.9 1213.1,840.5 1213.9,842.1 1214.8,843.7 1215.7,845.2 1216.6,846.6 1217.5,847.9 1218.3,849.1 1219.2,850.2 1220.1,851.4 1221,852.5 1221.9,853.7 1222.7,854.9 1223.6,856.1 1224.5,857.2 1225.4,858.2 1226.3,859.1 1227.1,859.9 1228,860.6 1228.9,861.1 1229.8,861.3 1230.7,861.4 1231.5,861.2 1232.4,860.8 1233.3,860.2 1234.2,859.4 1235.1,858.4 1235.9,857.3 1236.8,856 1237.7,854.6 1238.6,853.2 1239.5,851.6 1240.3,850 1241.2,848.3 1242.1,846.6 1243,844.9 1243.9,843.3 1244.7,841.6 1245.6,840 1246.5,838.1 1247.4,836 1248.3,833.7 1249.1,831.3 1250,828.7 1250.9,826.1 1251.8,823.4 1252.7,820.7 1253.5,818 1254.4,815.4 1255.3,812.8 1256.2,810.4 1257.1,808.2 1257.9,806.2 1258.8,804.4 1259.7,802.9 1260.6,801.5 1261.5,800.1 1262.3,798.8 1263.2,797.5 1264.1,796.3 1265,795.1 1265.9,793.9 1266.7,792.8 1267.6,791.7 1268.5,790.6 1269.4,789.6 1270.3,788.7 1271.1,787.8 1272,787 1272.9,786.3 1273.8,785.6 1274.7,785 1275.5,784.5 1276.4,784 1277.3,783.7 1278.2,783.4 1279.1,783.1 1279.9,782.8 1280.8,782.5 1281.7,782.2 1282.6,782 1283.5,781.7 1284.3,781.5 1285.2,781.2 1286.1,781 1287,780.8 1287.9,780.6 1288.7,780.4 1289.6,780.2 1290.5,780 1291.4,779.8 1292.3,779.6 1293.1,779.5 1294,779.3 1294.9,779.2 1295.8,779 1296.7,778.9 1297.5,778.8 1298.4,778.7 1299.3,778.5 1300.2,778.4 1301.1,778.3 1301.9,778.2 1302.8,778.1 1303.7,778.1 1304.6,778 1305.5,777.9 1306.3,777.9 1307.2,777.8 1308.1,777.7 1309,777.7 1309.9,777.6 1310.7,777.6 1311.6,777.5 1312.5,777.5 1313.4,777.5 1314.3,777.4 1315.1,777.4 1316,777.4 1316.9,777.3 1317.8,777.3 1318.7,777.3 1319.5,777.3 1320.4,777.3 1321.3,777.2 1322.2,777.2 1323.1,777.2 1323.9,777.2 1324.8,777.1 1325.7,777.1 1326.6,777.1 1327.5,777.1 1328.3,777.1 1329.2,777 1330.1,777 1331,777 1331.9,777 1332.7,776.9 1333.6,776.9 1334.5,776.9 1335.4,776.8 1336.3,776.8 1337.1,776.7 1338,776.7 1338.9,776.6 1339.8,776.6 1340.7,776.5 1341.5,776.4 1342.4,776.4 1343.3,776.2 1344.2,776 1345.1,775.8 1345.9,775.5 1346.8,775.2 1347.7,774.8 1348.6,774.4 1349.5,774 1350.3,773.5 1351.2,773 1352.1,772.5 1353,771.9 1353.9,771.4 1354.7,770.8 1355.6,770.3 1356.5,769.7 1357.4,769.1 1358.3,768.6 1359.1,768 1360,767.5 1360.9,766.9 1361.8,766.4 1362.7,766 1363.5,765.5 1364.4,765.1 1365.3,764.7 1366.2,764.3 1367.1,763.9 1367.9,763.6 1368.8,763.2 1369.7,762.8 1370.6,762.3 1371.5,761.9 1372.3,761.5 1373.2,761.1 1374.1,760.7 1375,760.3 1375.9,759.9 1376.7,759.5 1377.6,759.1 1378.5,758.7 1379.4,758.3 1380.3,757.9 1381.1,757.6 1382,757.2 1382.9,756.9 1383.8,756.6 1384.7,756.3 1385.5,756 1386.4,755.7 1387.3,755.5 1388.2,755.2 1389.1,755 1389.9,754.9 1390.8,754.7 1391.7,754.6 1392.6,754.5 1393.5,754.4 1394.3,754.4 1395.2,754.4 1396.1,754.4 1397,754.4 1397.9,754.4 1398.7,754.4 1399.6,754.4 1400.5,754.4 1401.4,754.4 1402.3,754.4 1403.1,754.4 1404,754.4 1404.9,754.4 1405.8,754.4 1406.7,754.4 1407.5,754.4 1408.4,754.4 1409.3,754.4 1410.2,754.4 1411.1,754.4 1411.9,754.4 1412.8,754.4 1413.7,754.4 1414.6,754.4 1415.5,754.4 1416.3,754.4 1417.2,754.4 1418.1,754.4 1419,754.3 1419.9,754 1420.7,753.5 1421.6,752.8 1422.5,752 1423.4,751 1424.3,749.9 1425.1,748.7 1426,747.4 1426.9,746.1 1427.8,744.7 1428.7,743.2 1429.5,741.7 1430.4,740.3 1431.3,738.8 1432.2,737.4 1433.1,736 1433.9,734.7 1434.8,733.5 1435.7,732.4 1436.6,731.3 1437.5,730.1 1438.3,728.8 1439.2,727.5 1440.1,726.2 1441,724.8 1441.9,723.4 1442.7,722.1 1443.6,720.7 1444.5,719.4 1445.4,718.2 1446.3,717 1447.1,715.9 1448,714.9 1448.9,714 1449.8,713.3 1450.7,712.7 1451.5,712.2 1452.4,711.9 1453.3,711.8 1454.2,711.9 1455.1,712.1 1455.9,712.5 1456.8,713.1 1457.7,713.7 1458.6,714.5 1459.5,715.4 1460.3,716.3 1461.2,717.4 1462.1,718.5 1463,719.6 1463.9,720.8 1464.7,722 1465.6,723.2 1466.5,724.5 1467.4,725.7 1468.3,726.8 1469.1,728.1 1470,729.5 1470.9,730.9 1471.8,732.5 1472.7,734.1 1473.5,735.8 1474.4,737.6 1475.3,739.4 1476.2,741.2 1477.1,743.1 1477.9,745.1 1478.8,747 1479.7,749 1480.6,751 1481.5,752.9 1482.3,754.9 1483.2,756.8 1484.1,759 1485,761.4 1485.9,764.1 1486.7,766.8 1487.6,769.6 1488.5,772.5 1489.4,775.3 1490.3,778 1491.1,780.6 1492,783.1 1492.9,785.2 1493.8,787.2 1494.7,788.7 1495.5,789.9 1496.4,790.7 1497.3,790.9 1498.2,790.9 1499.1,790.9 1499.9,790.8 1500.8,790.8 1501.7,790.7 1502.6,790.6 1503.5,790.5 1504.3,790.3 1505.2,790.2 1506.1,790.1 1507,789.9 1507.9,789.7 1508.7,789.6 1509.6,789.4 1510.5,789.3 1511.4,789.1 1512.3,789 1513.1,788.8 1514,788.7 1514.9,788.6 1515.8,788.5 1516.7,788.4 1517.5,788.3 1518.4,788.2 1519.3,788.1 1520.2,788.1 1521.1,788.1 1521.9,788.2 1522.8,788.3 1523.7,788.5 1524.6,788.8 1525.5,789.1 1526.3,789.4 1527.2,789.8 1528.1,790.3 1529,790.8 1529.9,791.3 1530.7,791.8 1531.6,792.4 1532.5,792.9 1533.4,793.5 1534.3,794.1 1535.1,794.7 1536,795.3 1536.9,795.8 1537.8,796.4 1538.7,796.9 1539.5,797.4 1540.4,797.9 1541.3,798.3 1542.2,798.7 1543.1,799 1543.9,799.3 1544.8,799.5 1545.7,799.7 1546.6,799.8 1547.5,799.8 1548.3,799.8 1549.2,799.6 1550.1,799.5 1551,799.2 1551.9,798.9 1552.7,798.6 1553.6,798.2 1554.5,797.8 1555.4,797.4 1556.3,796.9 1557.1,796.4 1558,795.9 1558.9,795.4 1559.8,794.9 1560.7,794.5 1561.5,794 1562.4,793.5 1563.3,793.1 1564.2,792.6 1565.1,792.3 1565.9,791.9 1566.8,791.6 1567.7,791.4 1568.6,791.2 1569.5,791 1570.3,791 1571.2,791 1572.1,791.1 1573,791.4 1573.9,791.8 1574.7,792.3 1575.6,792.9 1576.5,793.5 1577.4,794.3 1578.3,795.1 1579.1,796 1580,796.9 1580.9,797.9 1581.8,798.9 1582.7,799.8 1583.5,800.8 1584.4,801.8 1585.3,802.7 1586.2,803.6 1587.1,804.5 1587.9,805.3 1588.8,806.1 1589.7,806.9 1590.6,807.7 1591.5,808.6 1592.3,809.6 1593.2,810.5 1594.1,811.5 1595,812.5 1595.9,813.5 1596.7,814.4 1597.6,815.3 1598.5,816.2 1599.4,817 1600.3,817.8 1601.1,818.5 1602,819.1 1602.9,819.6 1603.8,820 1604.7,820.3 1605.5,820.4 1606.4,820.4 1607.3,820.2 1608.2,819.9 1609.1,819.4 1609.9,818.9 1610.8,818.2 1611.7,817.5 1612.6,816.7 1613.5,815.9 1614.3,815.1 1615.2,814.4 1616.1,813.6 1617,813 1617.9,812.4 1618.7,812 1619.6,811.6 1620.5,811.5 1621.4,811.3 1622.3,811.1 1623.1,811 1624,810.8 1624.9,810.7 1625.8,810.6 1626.7,810.5 1627.5,810.4 1628.4,810.3 1629.3,810.2 1630.2,810.2 1631.1,810.1 1631.9,810.1 1632.8,810.1 1633.7,810.2 1634.6,810.4 1635.5,810.8 1636.3,811.2 1637.2,811.7 1638.1,812.3 1639,813 1639.9,813.7 1640.7,814.6 1641.6,815.4 1642.5,816.3 1643.4,817.3 1644.3,818.2 1645.1,819.2 1646,820.2 1646.9,821.2 1647.8,822.2 1648.7,823.1 1649.5,824.1 1650.4,825 1651.3,825.9 1652.2,826.7 1653.1,827.5 1653.9,828.4 1654.8,829.4 1655.7,830.4 1656.6,831.4 1657.5,832.5 1658.3,833.6 1659.2,834.7 1660.1,835.9 1661,837 1661.9,838.2 1662.7,839.4 1663.6,840.6 1664.5,841.7 1665.4,842.9 1666.3,844 1667.1,845.1 1668,846.2 1668.9,847.3 1669.8,848.3 1670.7,849.3 1671.5,850.2 1672.4,851.1 1673.3,851.9 1674.2,852.6 1675.1,853.3 1675.9,853.9 1676.8,854.5 1677.7,854.9 1678.6,855.3 1679.5,855.5 1680.3,855.7 1681.2,855.7 1682.1,855.7 1683,855.5 1683.9,855.1 1684.7,854.6 1685.6,854.1 1686.5,853.4 1687.4,852.6 1688.3,851.7 1689.1,850.7 1690,849.7 1690.9,848.6 1691.8,847.5 1692.7,846.3 1693.5,845.1 1694.4,843.8 1695.3,842.6 1696.2,841.3 1697.1,840 1697.9,838.7 1698.8,837.2 1699.7,835.3 1700.6,833.2 1701.5,831 1702.3,828.5 1703.2,825.9 1704.1,823.1 1705,820.3 1705.9,817.4 1706.7,814.4 1707.6,811.5 1708.5,808.5 1709.4,805.7 1710.3,802.9 1711.1,800.2 1712,797.7 1712.9,795.3 1713.8,793.1 1714.7,791.2 1715.5,789.5 1716.4,788.1 1717.3,787.1 1718.2,786.1 1719.1,785.1 1719.9,784.2 1720.8,783.2 1721.7,782.3 1722.6,781.5 1723.5,780.7 1724.3,780 1725.2,779.4 1726.1,778.8 1727,778.4 1727.9,778 1728.7,777.8 1729.6,777.6 1730.5,777.6 1731.4,777.7 1732.3,777.8 1733.1,778 1734,778.3 1734.9,778.6 1735.8,778.9 1736.7,779.3 1737.5,779.7 1738.4,780.1 1739.3,780.6 1740.2,781 1741.1,781.4 1741.9,781.9 1742.8,782.3 1743.7,782.7 1744.6,783 1745.5,783.3 1746.3,783.6 1747.2,783.8 1748.1,784 1749,784.1 1749.9,784.1 1750.7,784 1751.6,783.8 1752.5,783.5 1753.4,783.1 1754.3,782.7 1755.1,782.2 1756,781.6 1756.9,780.9 1757.8,780.3 1758.7,779.6 1759.5,778.8 1760.4,778.1 1761.3,777.3 1762.2,776.6 1763.1,775.9 1763.9,775.1 1764.8,774.5 1765.7,773.8 1766.6,773.2 1767.5,772.7 1768.3,772.2 1769.2,771.8 1770.1,771.5 1771,771.3 1771.9,771.2 1772.7,771.2 1773.6,771.3 1774.5,771.4 1775.4,771.6 1776.3,771.9 1777.1,772.3 1778,772.7 1778.9,773.1 1779.8,773.6 1780.7,774.1 1781.5,774.6 1782.4,775.2 1783.3,775.7 1784.2,776.3 1785.1,776.8 1785.9,777.4 1786.8,777.9 1787.7,778.4 1788.6,778.9 1789.5,779.3 1790.3,779.7 1791.2,780.1 1792.1,780.4 1793,780.6 1793.9,780.8 1794.7,780.8 1795.6,780.8 1796.5,780.7 1797.4,780.5 1798.3,780.2 1799.1,779.8 1800,779.3 1800.9,778.7 1801.8,778.1 1802.7,777.4 1803.5,776.6 1804.4,775.7 1805.3,774.9 1806.2,773.9 1807.1,773 1807.9,772 1808.8,771 1809.7,769.9 1810.6,768.9 1811.5,767.8 1812.3,766.8 1813.2,765.7 1814.1,764.7 1815,763.7 1815.9,762.7 1816.7,761.7 1817.6,760.8 1818.5,759.9 1819.4,759.1 1820.3,758.3 1821.1,757.6 1822,756.9 1822.9,756.4 1823.8,755.9 1824.7,755.5 1825.5,755.1 1826.4,754.9 1827.3,754.8 1828.2,754.8 1829.1,754.9 1829.9,754.9 1830.8,755.1 1831.7,755.2 1832.6,755.4 1833.5,755.6 1834.3,755.9 1835.2,756.1 1836.1,756.4 1837,756.7 1837.9,757.1 1838.7,757.4 1839.6,757.7 1840.5,758.1 1841.4,758.4 1842.3,758.7 1843.1,759.1 1844,759.4 1844.9,759.7 1845.8,760 1846.7,760.3 1847.5,760.5 1848.4,760.8 1849.3,761 1850.2,761.1 1851.1,761.3 1851.9,761.4 1852.8,761.4 1853.7,761.5 1854.6,761.4 1855.5,761.2 1856.3,760.9 1857.2,760.5 1858.1,760 1859,759.3 1859.9,758.6 1860.7,757.8 1861.6,757 1862.5,756 1863.4,755.1 1864.3,754 1865.1,752.9 1866,751.8 1866.9,750.7 1867.8,749.5 1868.7,748.3 1869.5,747.1 1870.4,745.9 1871.3,744.8 1872.2,743.6 1873.1,742.5 1873.9,741.4 1874.8,740.3 1875.7,739.3 1876.6,738.3 1877.5,737.4 1878.3,736.5 1879.2,735.8 1880.1,735.1 1881,734.4 1881.9,733.7 1882.7,732.9 1883.6,732.2 1884.5,731.5 1885.4,730.7 1886.3,730 1887.1,729.2 1888,728.5 1888.9,727.7 1889.8,727 1890.7,726.3 1891.5,725.6 1892.4,724.9 1893.3,724.2 1894.2,723.6 1895.1,723 1895.9,722.4 1896.8,721.9 1897.7,721.4 1898.6,721 1899.5,720.5 1900.3,720.2 1901.2,719.8 1902.1,719.6 1903,719.4 1903.9,719.2 1904.7,719.1 1905.6,719.1 1906.5,719.1 1907.4,719.3 1908.3,719.6 1909.1,720 1910,720.5 1910.9,721 1911.8,721.7 1912.7,722.4 1913.5,723.2 1914.4,724.1 1915.3,725.1 1916.2,726.1 1917.1,727.2 1917.9,728.3 1918.8,729.4 1919.7,730.6 1920.6,731.9 1921.5,733.1 1922.3,734.4 1923.2,735.7 1924.1,737 1925,738.3 1925.9,739.8 1926.7,741.6 1927.6,743.7 1928.5,746.2 1929.4,748.9 1930.3,751.8 1931.1,754.8 1932,757.9 1932.9,761.1 1933.8,764.2 1934.7,767.3 1935.5,770.3 1936.4,773.2 1937.3,775.8 1938.2,778.2 1939.1,780.3 1939.9,782 1940.8,783.4 1941.7,784.3 1942.6,785 1943.5,785.7 1944.3,786.4 1945.2,787.1 1946.1,787.7 1947,788.3 1947.9,788.9 1948.7,789.5 1949.6,790 1950.5,790.4 1951.4,790.8 1952.3,791.2 1953.1,791.5 1954,791.8 1954.9,792 1955.8,792.2 1956.7,792.3 1957.5,792.4 1958.4,792.3 1959.3,792.2 1960.2,792.1 1961.1,791.8 1961.9,791.5 1962.8,791.2 1963.7,790.8 1964.6,790.4 1965.5,790 1966.3,789.6 1967.2,789.2 1968.1,788.8 1969,788.5 1969.9,788.1 1970.7,787.8 1971.6,787.6 1972.5,787.4 1973.4,787.3 1974.3,787.3 1975.1,787.4 1976,787.6 1976.9,787.8 1977.8,788.1 1978.7,788.5 1979.5,789 1980.4,789.5 1981.3,790.1 1982.2,790.7 1983.1,791.3 1983.9,792 1984.8,792.6 1985.7,793.3 1986.6,794 1987.5,794.6 1988.3,795.3 1989.2,795.9 1990.1,796.5 1991,797 1991.9,797.5 1992.7,797.9 1993.6,798.2 1994.5,798.5 1995.4,798.7 1996.3,798.8 1997.1,798.8 1998,798.8 1998.9,798.6 1999.8,798.5 2000.7,798.3 2001.5,798.1 2002.4,797.8 2003.3,797.5 2004.2,797.2 2005.1,796.8 2005.9,796.4 2006.8,796.1 2007.7,795.7 2008.6,795.2 2009.5,794.8 2010.3,794.4 2011.2,794 2012.1,793.6 2013,793.2 2013.9,792.8 2014.7,792.4 2015.6,792.1 2016.5,791.8 2017.4,791.5 2018.3,791.2 2019.1,791 2020,790.8 2020.9,790.7 2021.8,790.6 2022.7,790.5 2023.5,790.6 2024.4,790.8 2025.3,791.3 2026.2,791.8 2027.1,792.6 2027.9,793.4 2028.8,794.4 2029.7,795.5 2030.6,796.7 2031.5,798 2032.3,799.4 2033.2,800.8 2034.1,802.2 2035,803.7 2035.9,805.2 2036.7,806.7 2037.6,808.1 2038.5,809.6 2039.4,811 2040.3,812.3 2041.1,813.6 2042,814.8 2042.9,815.9 2043.8,816.9 2044.7,817.8 2045.5,818.5 2046.4,819.1 2047.3,819.5 2048.2,819.8 2049.1,819.8 2049.9,819.7 2050.8,819.6 2051.7,819.4 2052.6,819.1 2053.5,818.8 2054.3,818.4 2055.2,817.9 2056.1,817.5 2057,817 2057.9,816.4 2058.7,815.9 2059.6,815.3 2060.5,814.8 2061.4,814.2 2062.3,813.6 2063.1,813.1 2064,812.6 2064.9,812.1 2065.8,811.7 2066.7,811.3 2067.5,810.9 2068.4,810.6 2069.3,810.4 2070.2,810.2 2071.1,810.1 2071.9,810.1 2072.8,810.2 2073.7,810.3 2074.6,810.4 2075.5,810.5 2076.3,810.7 2077.2,811 2078.1,811.2 2079,811.5 2079.9,811.7 2080.7,812 2081.6,812.3 2082.5,812.6 2083.4,812.9 2084.3,813.2 2085.1,813.5 2086,813.8 2086.9,814 2087.8,814.3 2088.7,814.5 2089.5,814.7 2090.4,814.9 2091.3,815 2092.2,815.1 2093.1,815.2 2093.9,815.3"/><rect x="295" y="625" width="1804" height="323" fill="none" stroke="#1c1c1c" stroke-width="3.3"/><path fill="none" stroke="#1c1c1c" stroke-width="3.0" d="M295 948V930.2M295 625V642.8M515 948V930.2M515 625V642.8M735 948V930.2M735 625V642.8M955 948V930.2M955 625V642.8M1175 948V930.2M1175 625V642.8M1395 948V930.2M1395 625V642.8M1615 948V930.2M1615 625V642.8M1835 948V930.2M1835 625V642.8M2055 948V930.2M2055 625V642.8M295 685.6H312.8M2099 685.6H2081.2M295 786.5H312.8M2099 786.5H2081.2M295 887.4H312.8M2099 887.4H2081.2"/><g font-size="56.5" fill="#222" text-anchor="end"><text x="268.8" y="707.1">5</text><text x="268.8" y="808">0</text><text x="268.8" y="908.9">-5</text></g><text x="1197.5" y="599.7" font-size="60.5" font-weight="bold" class="b" fill="#000" text-anchor="middle">Current waveform</text><text transform="translate(187.3 783.8) rotate(-90)" font-size="60.5" fill="#222" text-anchor="middle" letter-spacing="2">(A)</text><path fill="none" stroke="#000" stroke-width="10.5" stroke-linejoin="miter" d="M288 1188H738.1V1184H1192.4V1182H2100.5"/><path fill="none" stroke="#f00" stroke-width="10.5" stroke-linejoin="miter" d="M288 1329.5H1192.4V1328.8H2100.5"/><path fill="none" stroke="#00f" stroke-width="10.5" stroke-linejoin="miter" d="M288 1375.4H738.1V1376H2100.5"/><rect x="295" y="1141.3" width="1804" height="322.9" fill="none" stroke="#1c1c1c" stroke-width="3.3"/><path fill="none" stroke="#1c1c1c" stroke-width="3.0" d="M295 1464.2V1446.4M295 1141.3V1159.1M515 1464.2V1446.4M515 1141.3V1159.1M735 1464.2V1446.4M735 1141.3V1159.1M955 1464.2V1446.4M955 1141.3V1159.1M1175 1464.2V1446.4M1175 1141.3V1159.1M1395 1464.2V1446.4M1395 1141.3V1159.1M1615 1464.2V1446.4M1615 1141.3V1159.1M1835 1464.2V1446.4M1835 1141.3V1159.1M2055 1464.2V1446.4M2055 1141.3V1159.1M295 1141.3H312.8M2099 1141.3H2081.2M295 1302.8H312.8M2099 1302.8H2081.2M295 1464.2H312.8M2099 1464.2H2081.2"/><g font-size="56.5" fill="#222" text-anchor="end"><text x="270.1" y="1162.8" letter-spacing="1.3">600</text><text x="270.1" y="1324.2" letter-spacing="1.3">400</text><text x="270.1" y="1485.7" letter-spacing="1.3">200</text></g><text x="1197.5" y="1116" font-size="60.5" font-weight="bold" class="b" fill="#000" text-anchor="middle">Active power</text><text transform="translate(144 1300) rotate(-90)" font-size="60.5" fill="#222" text-anchor="middle" letter-spacing="2">(W)</text><rect x="295" y="1654" width="1804" height="326.3" fill="none" stroke="#1c1c1c" stroke-width="3.3"/><path fill="none" stroke="#1c1c1c" stroke-width="3.0" d="M295 1980.3V1962.5M295 1654V1671.8M515 1980.3V1962.5M515 1654V1671.8M735 1980.3V1962.5M735 1654V1671.8M955 1980.3V1962.5M955 1654V1671.8M1175 1980.3V1962.5M1175 1654V1671.8M1395 1980.3V1962.5M1395 1654V1671.8M1615 1980.3V1962.5M1615 1654V1671.8M1835 1980.3V1962.5M1835 1654V1671.8M2055 1980.3V1962.5M2055 1654V1671.8M295 1654H312.8M2099 1654H2081.2M295 1817.2H312.8M2099 1817.2H2081.2M295 1980.3H312.8M2099 1980.3H2081.2"/><path fill="none" stroke="#000" stroke-width="10.5" stroke-linejoin="miter" d="M288 1912.2H1192.4V1935.3H1642.7V1949H2104"/><path fill="none" stroke="#f00" stroke-width="10.5" stroke-linejoin="miter" d="M288 1699.2H1192.4V1718.9H1642.7V1716H2104"/><path fill="none" stroke="#00f" stroke-width="10.5" stroke-linejoin="miter" d="M288 1676H1192.4V1672.5H1642.7V1667.5H2104"/><g font-size="56.5" fill="#222" text-anchor="end"><text x="270.1" y="1675.5" letter-spacing="1.3">-200</text><text x="270.1" y="1838.7" letter-spacing="1.3">-400</text><text x="270.1" y="2001.8" letter-spacing="1.3">-600</text></g><g font-size="56.5" fill="#222" text-anchor="middle"><text x="292" y="2064.8">0</text><text x="515" y="2064.8">10</text><text x="735" y="2064.8">20</text><text x="955" y="2064.8">30</text><text x="1175" y="2064.8">40</text><text x="1395" y="2064.8">50</text><text x="1615" y="2064.8">60</text><text x="1835" y="2064.8">70</text><text x="2055" y="2064.8">80</text></g><text x="1197.5" y="1628.7" font-size="60.5" font-weight="bold" class="b" fill="#000" text-anchor="middle">Reactive power</text><text transform="translate(124 1814) rotate(-90)" font-size="60.5" fill="#222" text-anchor="middle" letter-spacing="3">(VAR)</text><rect x="295" y="2170.3" width="1804" height="323" fill="none" stroke="#1c1c1c" stroke-width="3.3"/><path fill="none" stroke="#1c1c1c" stroke-width="3.0" d="M295 2493.3V2475.5M295 2170.3V2188.1M515 2493.3V2475.5M515 2170.3V2188.1M735 2493.3V2475.5M735 2170.3V2188.1M955 2493.3V2475.5M955 2170.3V2188.1M1175 2493.3V2475.5M1175 2170.3V2188.1M1395 2493.3V2475.5M1395 2170.3V2188.1M1615 2493.3V2475.5M1615 2170.3V2188.1M1835 2493.3V2475.5M1835 2170.3V2188.1M2055 2493.3V2475.5M2055 2170.3V2188.1M295 2170.3H312.8M2099 2170.3H2081.2M295 2331.8H312.8M2099 2331.8H2081.2M295 2493.3H312.8M2099 2493.3H2081.2"/><path fill="none" stroke="#000" stroke-width="10.5" stroke-linejoin="miter" d="M288 2272H1192.4V2220.3H1642.7V2208.7H2104"/><path fill="none" stroke="#f00" stroke-width="10.5" stroke-linejoin="miter" d="M288 2322H1192.4V2328.8H1642.7V2325.1H2104"/><path fill="none" stroke="#00f" stroke-width="10.5" stroke-linejoin="miter" d="M288 2371.8H1192.4V2345.1H1642.7V2348.3H2104"/><g font-size="56.5" fill="#222" text-anchor="end"><text x="270.1" y="2191.8" letter-spacing="1.3">100</text><text x="268.8" y="2353.3">50</text><text x="268.8" y="2514.8">0</text></g><g font-size="56.5" fill="#222" text-anchor="middle"><text x="292" y="2577.8">0</text><text x="515" y="2577.8">10</text><text x="735" y="2577.8">20</text><text x="955" y="2577.8">30</text><text x="1175" y="2577.8">40</text><text x="1395" y="2577.8">50</text><text x="1615" y="2577.8">60</text><text x="1835" y="2577.8">70</text><text x="2055" y="2577.8">80</text></g><text x="1197.5" y="2145" font-size="60.5" font-weight="bold" class="b" fill="#000" text-anchor="middle">Current THD</text><text transform="translate(144 2329.1) rotate(-90)" font-size="60.5" fill="#222" text-anchor="middle" letter-spacing="2">(%)</text><path fill="none" stroke="#000" stroke-width="10.5" stroke-linejoin="miter" d="M288 2838.4H1192.4V2735.5H1642.7V2720H2100.5"/><path fill="none" stroke="#f00" stroke-width="10.5" stroke-linejoin="miter" d="M288 2944.7H1192.4V2918.5H1642.7V2902.8H2100.5"/><path fill="none" stroke="#00f" stroke-width="10.5" stroke-linejoin="miter" d="M288 3001.4H1192.4V2957.9H1642.7V2960.5H2100.5"/><rect x="295" y="2683.3" width="1804" height="326.2" fill="none" stroke="#1c1c1c" stroke-width="3.3"/><path fill="none" stroke="#1c1c1c" stroke-width="3.0" d="M295 3009.5V2991.7M295 2683.3V2701.1M515 3009.5V2991.7M515 2683.3V2701.1M735 3009.5V2991.7M735 2683.3V2701.1M955 3009.5V2991.7M955 2683.3V2701.1M1175 3009.5V2991.7M1175 2683.3V2701.1M1395 3009.5V2991.7M1395 2683.3V2701.1M1615 3009.5V2991.7M1615 2683.3V2701.1M1835 3009.5V2991.7M1835 2683.3V2701.1M2055 3009.5V2991.7M2055 2683.3V2701.1M295 2683.3H312.8M2099 2683.3H2081.2M295 2748.5H312.8M2099 2748.5H2081.2M295 2813.8H312.8M2099 2813.8H2081.2M295 2879H312.8M2099 2879H2081.2M295 2944.3H312.8M2099 2944.3H2081.2M295 3009.5H312.8M2099 3009.5H2081.2"/><g font-size="56.5" fill="#222" text-anchor="end"><text x="268.8" y="2704.8">12</text><text x="268.8" y="2770">10</text><text x="268.8" y="2835.3">8</text><text x="268.8" y="2900.5">6</text><text x="268.8" y="2965.8">4</text><text x="268.8" y="3031">2</text></g><g font-size="56.5" fill="#222" text-anchor="middle"><text x="292" y="3094">0</text><text x="515" y="3094">10</text><text x="735" y="3094">20</text><text x="955" y="3094">30</text><text x="1175" y="3094">40</text><text x="1395" y="3094">50</text><text x="1615" y="3094">60</text><text x="1835" y="3094">70</text><text x="2055" y="3094">80</text></g><text x="1197.5" y="2658" font-size="60.5" font-weight="bold" class="b" fill="#000" text-anchor="middle">Voltage THD</text><text transform="translate(176.9 2843.7) rotate(-90)" font-size="60.5" fill="#222" text-anchor="middle" letter-spacing="2">(%)</text><text x="1198" y="3174.7" font-size="60.5" fill="#222" text-anchor="middle">Time (ms)</text></svg></body></html>
